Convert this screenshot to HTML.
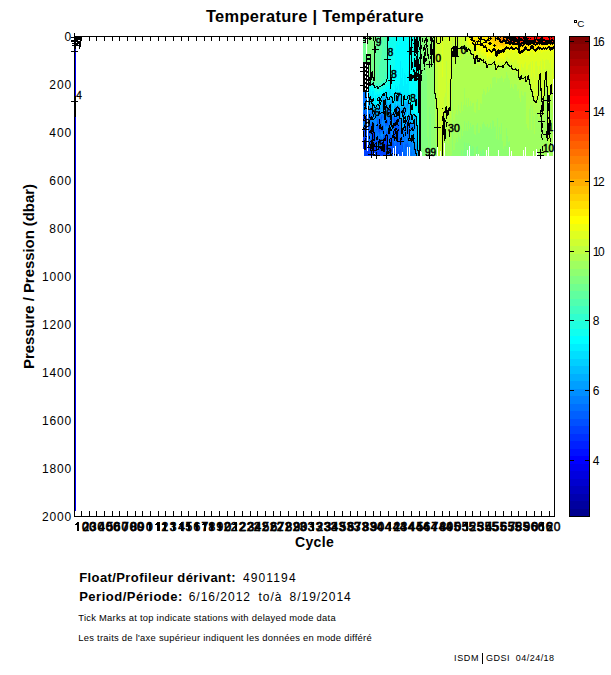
<!DOCTYPE html>
<html><head><meta charset="utf-8"><style>
html,body{margin:0;padding:0;background:#fff;}
svg{display:block;font-family:"Liberation Sans", sans-serif;}
</style></head><body>
<svg width="611" height="675" viewBox="0 0 611 675" shape-rendering="crispEdges">
<rect x="0" y="0" width="611" height="675" fill="#fff"/>
<text x="206.0" y="21.9" font-size="16.4" font-weight="bold" text-anchor="start" textLength="217.7" lengthAdjust="spacing">Temperature | Température</text>
<rect x="363" y="78" width="1" height="1" fill="#30ffcf"/>
<rect x="363" y="107" width="1" height="3" fill="#008fff"/>
<rect x="363" y="127" width="1" height="2" fill="#000000"/>
<rect x="363" y="110" width="1" height="2" fill="#0080ff"/>
<rect x="363" y="131" width="1" height="6" fill="#000000"/>
<rect x="363" y="137" width="1" height="1" fill="#0040ff"/>
<rect x="363" y="117" width="1" height="2" fill="#0030ff"/>
<rect x="363" y="75" width="1" height="3" fill="#40ffbf"/>
<rect x="363" y="121" width="1" height="1" fill="#0050ff"/>
<rect x="363" y="113" width="1" height="2" fill="#0060ff"/>
<rect x="363" y="119" width="1" height="2" fill="#000000"/>
<rect x="363" y="71" width="1" height="4" fill="#50ffaf"/>
<rect x="363" y="129" width="1" height="2" fill="#0030ff"/>
<rect x="363" y="79" width="1" height="11" fill="#000000"/>
<rect x="363" y="116" width="1" height="1" fill="#0040ff"/>
<rect x="363" y="123" width="1" height="3" fill="#0080ff"/>
<rect x="363" y="122" width="1" height="1" fill="#0070ff"/>
<rect x="363" y="126" width="1" height="1" fill="#0070ff"/>
<rect x="363" y="138" width="1" height="1" fill="#0030ff"/>
<rect x="363" y="90" width="1" height="16" fill="#0070ff"/>
<rect x="363" y="106" width="1" height="1" fill="#0080ff"/>
<rect x="363" y="64" width="1" height="7" fill="#60ff9f"/>
<rect x="363" y="139" width="1" height="8" fill="#0020ff"/>
<rect x="363" y="112" width="1" height="1" fill="#0070ff"/>
<rect x="363" y="147" width="1" height="2" fill="#0030ff"/>
<rect x="363" y="37" width="1" height="27" fill="#70ff8f"/>
<rect x="363" y="115" width="1" height="1" fill="#000000"/>
<rect x="364" y="119" width="1" height="1" fill="#0050ff"/>
<rect x="364" y="121" width="1" height="1" fill="#0060ff"/>
<rect x="364" y="106" width="1" height="1" fill="#0070ff"/>
<rect x="364" y="120" width="1" height="1" fill="#000000"/>
<rect x="364" y="93" width="1" height="8" fill="#0070ff"/>
<rect x="364" y="150" width="1" height="6" fill="#0040ff"/>
<rect x="364" y="87" width="1" height="1" fill="#00cfff"/>
<rect x="364" y="101" width="1" height="2" fill="#0080ff"/>
<rect x="364" y="129" width="1" height="11" fill="#0040ff"/>
<rect x="364" y="91" width="1" height="2" fill="#0080ff"/>
<rect x="364" y="74" width="1" height="4" fill="#50ffaf"/>
<rect x="364" y="140" width="1" height="10" fill="#000000"/>
<rect x="364" y="107" width="1" height="3" fill="#000000"/>
<rect x="364" y="110" width="1" height="4" fill="#0050ff"/>
<rect x="364" y="83" width="1" height="1" fill="#20ffdf"/>
<rect x="364" y="103" width="1" height="3" fill="#000000"/>
<rect x="364" y="38" width="1" height="29" fill="#70ff8f"/>
<rect x="364" y="85" width="1" height="2" fill="#000000"/>
<rect x="364" y="82" width="1" height="1" fill="#000000"/>
<rect x="364" y="114" width="1" height="5" fill="#000000"/>
<rect x="364" y="67" width="1" height="7" fill="#60ff9f"/>
<rect x="364" y="78" width="1" height="3" fill="#40ffbf"/>
<rect x="364" y="81" width="1" height="1" fill="#30ffcf"/>
<rect x="364" y="88" width="1" height="2" fill="#000000"/>
<rect x="364" y="84" width="1" height="1" fill="#10ffef"/>
<rect x="364" y="122" width="1" height="3" fill="#0070ff"/>
<rect x="364" y="90" width="1" height="1" fill="#008fff"/>
<rect x="364" y="125" width="1" height="2" fill="#000000"/>
<rect x="364" y="127" width="2" height="1" fill="#0060ff"/>
<rect x="364" y="37" width="2" height="1" fill="#000000"/>
<rect x="364" y="128" width="2" height="1" fill="#000000"/>
<rect x="365" y="111" width="1" height="4" fill="#0070ff"/>
<rect x="365" y="65" width="1" height="8" fill="#60ff9f"/>
<rect x="365" y="87" width="1" height="11" fill="#000000"/>
<rect x="365" y="76" width="1" height="3" fill="#40ffbf"/>
<rect x="365" y="130" width="1" height="7" fill="#000000"/>
<rect x="365" y="73" width="1" height="3" fill="#50ffaf"/>
<rect x="365" y="83" width="1" height="2" fill="#000000"/>
<rect x="365" y="150" width="1" height="1" fill="#0050ff"/>
<rect x="365" y="101" width="1" height="8" fill="#000000"/>
<rect x="365" y="80" width="1" height="2" fill="#000000"/>
<rect x="365" y="38" width="1" height="27" fill="#70ff8f"/>
<rect x="365" y="79" width="1" height="1" fill="#30ffcf"/>
<rect x="365" y="139" width="1" height="11" fill="#000000"/>
<rect x="365" y="85" width="1" height="1" fill="#00bfff"/>
<rect x="365" y="115" width="1" height="1" fill="#0060ff"/>
<rect x="365" y="82" width="1" height="1" fill="#10ffef"/>
<rect x="365" y="98" width="1" height="3" fill="#0070ff"/>
<rect x="365" y="129" width="1" height="1" fill="#0040ff"/>
<rect x="365" y="126" width="1" height="1" fill="#0070ff"/>
<rect x="365" y="86" width="1" height="1" fill="#00afff"/>
<rect x="365" y="124" width="1" height="2" fill="#0080ff"/>
<rect x="365" y="109" width="1" height="2" fill="#0080ff"/>
<rect x="365" y="137" width="1" height="2" fill="#0040ff"/>
<rect x="365" y="116" width="1" height="8" fill="#000000"/>
<rect x="366" y="100" width="1" height="1" fill="#000000"/>
<rect x="366" y="130" width="1" height="3" fill="#0050ff"/>
<rect x="366" y="84" width="1" height="2" fill="#00bfff"/>
<rect x="366" y="64" width="1" height="4" fill="#70ff8f"/>
<rect x="366" y="101" width="1" height="3" fill="#009fff"/>
<rect x="366" y="105" width="1" height="3" fill="#009fff"/>
<rect x="366" y="86" width="1" height="2" fill="#00afff"/>
<rect x="366" y="114" width="1" height="1" fill="#0060ff"/>
<rect x="366" y="79" width="1" height="1" fill="#000000"/>
<rect x="366" y="133" width="1" height="2" fill="#0060ff"/>
<rect x="366" y="88" width="1" height="9" fill="#009fff"/>
<rect x="366" y="118" width="1" height="5" fill="#0030ff"/>
<rect x="366" y="110" width="1" height="2" fill="#0080ff"/>
<rect x="366" y="124" width="1" height="3" fill="#0050ff"/>
<rect x="366" y="68" width="1" height="6" fill="#60ff9f"/>
<rect x="366" y="116" width="1" height="1" fill="#0050ff"/>
<rect x="366" y="135" width="1" height="1" fill="#0050ff"/>
<rect x="366" y="129" width="1" height="1" fill="#000000"/>
<rect x="366" y="98" width="1" height="2" fill="#008fff"/>
<rect x="366" y="112" width="1" height="2" fill="#0070ff"/>
<rect x="366" y="127" width="1" height="1" fill="#000000"/>
<rect x="366" y="108" width="1" height="1" fill="#000000"/>
<rect x="366" y="104" width="1" height="1" fill="#00afff"/>
<rect x="366" y="117" width="1" height="1" fill="#0040ff"/>
<rect x="366" y="137" width="1" height="5" fill="#0040ff"/>
<rect x="366" y="123" width="1" height="1" fill="#000000"/>
<rect x="366" y="82" width="1" height="1" fill="#000000"/>
<rect x="366" y="145" width="1" height="4" fill="#0020ff"/>
<rect x="366" y="136" width="1" height="1" fill="#000000"/>
<rect x="366" y="97" width="1" height="1" fill="#000000"/>
<rect x="366" y="81" width="1" height="1" fill="#00ffff"/>
<rect x="366" y="128" width="1" height="1" fill="#0050ff"/>
<rect x="366" y="74" width="1" height="3" fill="#50ffaf"/>
<rect x="366" y="83" width="1" height="1" fill="#00dfff"/>
<rect x="366" y="149" width="1" height="2" fill="#0030ff"/>
<rect x="366" y="142" width="1" height="3" fill="#0030ff"/>
<rect x="366" y="80" width="1" height="1" fill="#10ffef"/>
<rect x="366" y="63" width="1" height="1" fill="#000000"/>
<rect x="366" y="77" width="1" height="2" fill="#40ffbf"/>
<rect x="366" y="109" width="1" height="1" fill="#008fff"/>
<rect x="366" y="115" width="1" height="1" fill="#000000"/>
<rect x="365" y="151" width="3" height="5" fill="#0040ff"/>
<rect x="367" y="37" width="1" height="27" fill="#80ff80"/>
<rect x="368" y="124" width="1" height="7" fill="#0060ff"/>
<rect x="368" y="144" width="1" height="1" fill="#0060ff"/>
<rect x="368" y="73" width="1" height="2" fill="#70ff8f"/>
<rect x="368" y="98" width="1" height="2" fill="#00cfff"/>
<rect x="368" y="93" width="1" height="5" fill="#000000"/>
<rect x="368" y="105" width="1" height="1" fill="#009fff"/>
<rect x="368" y="138" width="1" height="6" fill="#0070ff"/>
<rect x="368" y="110" width="1" height="11" fill="#0080ff"/>
<rect x="368" y="91" width="1" height="2" fill="#00dfff"/>
<rect x="368" y="100" width="1" height="2" fill="#00bfff"/>
<rect x="368" y="37" width="1" height="36" fill="#80ff80"/>
<rect x="368" y="145" width="1" height="2" fill="#000000"/>
<rect x="368" y="121" width="1" height="3" fill="#000000"/>
<rect x="368" y="106" width="1" height="4" fill="#000000"/>
<rect x="368" y="86" width="1" height="5" fill="#00efff"/>
<rect x="368" y="149" width="1" height="7" fill="#0030ff"/>
<rect x="368" y="75" width="1" height="11" fill="#000000"/>
<rect x="368" y="147" width="1" height="2" fill="#0040ff"/>
<rect x="368" y="131" width="1" height="5" fill="#0050ff"/>
<rect x="368" y="136" width="1" height="2" fill="#0060ff"/>
<rect x="368" y="102" width="1" height="3" fill="#00afff"/>
<rect x="369" y="141" width="1" height="1" fill="#0050ff"/>
<rect x="369" y="131" width="1" height="2" fill="#000000"/>
<rect x="369" y="119" width="1" height="1" fill="#0080ff"/>
<rect x="369" y="112" width="1" height="2" fill="#0080ff"/>
<rect x="369" y="114" width="1" height="4" fill="#000000"/>
<rect x="369" y="82" width="1" height="4" fill="#000000"/>
<rect x="369" y="142" width="1" height="3" fill="#000000"/>
<rect x="369" y="109" width="1" height="1" fill="#000000"/>
<rect x="369" y="98" width="1" height="1" fill="#00dfff"/>
<rect x="369" y="126" width="1" height="2" fill="#0070ff"/>
<rect x="369" y="134" width="1" height="2" fill="#0060ff"/>
<rect x="369" y="92" width="1" height="5" fill="#00efff"/>
<rect x="369" y="146" width="1" height="10" fill="#0040ff"/>
<rect x="369" y="125" width="1" height="1" fill="#0080ff"/>
<rect x="369" y="81" width="1" height="1" fill="#70ff8f"/>
<rect x="369" y="100" width="1" height="2" fill="#000000"/>
<rect x="369" y="89" width="1" height="3" fill="#00ffff"/>
<rect x="369" y="103" width="1" height="5" fill="#00afff"/>
<rect x="369" y="88" width="1" height="1" fill="#10ffef"/>
<rect x="369" y="102" width="1" height="1" fill="#00bfff"/>
<rect x="369" y="37" width="1" height="40" fill="#80ff80"/>
<rect x="369" y="118" width="1" height="1" fill="#0070ff"/>
<rect x="369" y="128" width="1" height="3" fill="#0060ff"/>
<rect x="369" y="99" width="1" height="1" fill="#00cfff"/>
<rect x="369" y="120" width="1" height="4" fill="#000000"/>
<rect x="369" y="97" width="1" height="1" fill="#000000"/>
<rect x="369" y="86" width="1" height="2" fill="#20ffdf"/>
<rect x="369" y="136" width="1" height="3" fill="#000000"/>
<rect x="369" y="108" width="1" height="1" fill="#009fff"/>
<rect x="369" y="110" width="1" height="2" fill="#008fff"/>
<rect x="369" y="124" width="1" height="1" fill="#008fff"/>
<rect x="369" y="145" width="1" height="1" fill="#0050ff"/>
<rect x="369" y="77" width="1" height="4" fill="#000000"/>
<rect x="369" y="133" width="2" height="1" fill="#0050ff"/>
<rect x="369" y="140" width="2" height="1" fill="#0060ff"/>
<rect x="369" y="139" width="2" height="1" fill="#0070ff"/>
<rect x="370" y="81" width="1" height="4" fill="#000000"/>
<rect x="370" y="85" width="1" height="4" fill="#00ffff"/>
<rect x="370" y="37" width="1" height="39" fill="#80ff80"/>
<rect x="370" y="120" width="1" height="1" fill="#0080ff"/>
<rect x="370" y="121" width="1" height="3" fill="#008fff"/>
<rect x="370" y="124" width="1" height="1" fill="#0080ff"/>
<rect x="370" y="114" width="1" height="3" fill="#0060ff"/>
<rect x="370" y="125" width="1" height="2" fill="#0070ff"/>
<rect x="370" y="117" width="1" height="3" fill="#000000"/>
<rect x="370" y="129" width="1" height="1" fill="#0050ff"/>
<rect x="370" y="76" width="1" height="4" fill="#000000"/>
<rect x="370" y="153" width="1" height="3" fill="#0030ff"/>
<rect x="370" y="143" width="1" height="2" fill="#0030ff"/>
<rect x="370" y="89" width="1" height="6" fill="#00efff"/>
<rect x="370" y="146" width="1" height="6" fill="#0030ff"/>
<rect x="370" y="95" width="1" height="1" fill="#00dfff"/>
<rect x="370" y="113" width="1" height="1" fill="#0070ff"/>
<rect x="370" y="96" width="1" height="4" fill="#000000"/>
<rect x="370" y="135" width="1" height="1" fill="#0070ff"/>
<rect x="370" y="142" width="1" height="1" fill="#0040ff"/>
<rect x="370" y="111" width="1" height="2" fill="#0080ff"/>
<rect x="370" y="106" width="1" height="2" fill="#009fff"/>
<rect x="370" y="134" width="1" height="1" fill="#0060ff"/>
<rect x="370" y="105" width="1" height="1" fill="#00afff"/>
<rect x="370" y="152" width="1" height="1" fill="#0040ff"/>
<rect x="370" y="141" width="1" height="1" fill="#000000"/>
<rect x="370" y="80" width="1" height="1" fill="#40ffbf"/>
<rect x="370" y="100" width="1" height="5" fill="#00bfff"/>
<rect x="370" y="127" width="1" height="2" fill="#0060ff"/>
<rect x="370" y="145" width="1" height="1" fill="#0020ff"/>
<rect x="370" y="136" width="1" height="3" fill="#0080ff"/>
<rect x="370" y="130" width="1" height="3" fill="#000000"/>
<rect x="370" y="108" width="2" height="2" fill="#000000"/>
<rect x="370" y="110" width="2" height="1" fill="#008fff"/>
<rect x="371" y="72" width="1" height="8" fill="#000000"/>
<rect x="371" y="94" width="1" height="3" fill="#00efff"/>
<rect x="371" y="136" width="1" height="1" fill="#0070ff"/>
<rect x="371" y="139" width="1" height="1" fill="#0050ff"/>
<rect x="371" y="137" width="1" height="2" fill="#0060ff"/>
<rect x="371" y="97" width="1" height="2" fill="#00dfff"/>
<rect x="371" y="151" width="1" height="5" fill="#0040ff"/>
<rect x="371" y="111" width="1" height="5" fill="#0080ff"/>
<rect x="371" y="126" width="1" height="8" fill="#000000"/>
<rect x="371" y="85" width="1" height="2" fill="#20ffdf"/>
<rect x="371" y="134" width="1" height="2" fill="#0060ff"/>
<rect x="371" y="87" width="1" height="2" fill="#10ffef"/>
<rect x="371" y="124" width="1" height="2" fill="#0060ff"/>
<rect x="371" y="107" width="1" height="1" fill="#00afff"/>
<rect x="371" y="99" width="1" height="5" fill="#000000"/>
<rect x="371" y="106" width="1" height="1" fill="#00bfff"/>
<rect x="371" y="104" width="1" height="2" fill="#00cfff"/>
<rect x="371" y="37" width="1" height="4" fill="#8fff70"/>
<rect x="371" y="89" width="1" height="5" fill="#00ffff"/>
<rect x="371" y="140" width="1" height="9" fill="#000000"/>
<rect x="371" y="41" width="1" height="31" fill="#80ff80"/>
<rect x="371" y="84" width="1" height="1" fill="#000000"/>
<rect x="371" y="116" width="1" height="4" fill="#000000"/>
<rect x="371" y="149" width="1" height="2" fill="#0030ff"/>
<rect x="371" y="120" width="1" height="1" fill="#008fff"/>
<rect x="371" y="83" width="1" height="1" fill="#40ffbf"/>
<rect x="371" y="80" width="1" height="1" fill="#70ff8f"/>
<rect x="371" y="123" width="1" height="1" fill="#0070ff"/>
<rect x="371" y="121" width="1" height="2" fill="#0080ff"/>
<rect x="371" y="82" width="2" height="1" fill="#50ffaf"/>
<rect x="371" y="81" width="2" height="1" fill="#60ff9f"/>
<rect x="372" y="132" width="1" height="1" fill="#0040ff"/>
<rect x="372" y="133" width="1" height="18" fill="#000000"/>
<rect x="372" y="151" width="1" height="1" fill="#0040ff"/>
<rect x="372" y="101" width="1" height="2" fill="#00dfff"/>
<rect x="372" y="98" width="1" height="1" fill="#00dfff"/>
<rect x="372" y="83" width="1" height="2" fill="#000000"/>
<rect x="372" y="122" width="1" height="10" fill="#000000"/>
<rect x="372" y="117" width="1" height="3" fill="#000000"/>
<rect x="372" y="71" width="1" height="7" fill="#000000"/>
<rect x="372" y="120" width="1" height="2" fill="#008fff"/>
<rect x="372" y="115" width="1" height="2" fill="#0080ff"/>
<rect x="372" y="152" width="1" height="4" fill="#0030ff"/>
<rect x="372" y="37" width="1" height="18" fill="#80ff80"/>
<rect x="372" y="85" width="1" height="1" fill="#20ffdf"/>
<rect x="372" y="55" width="1" height="16" fill="#70ff8f"/>
<rect x="372" y="78" width="1" height="3" fill="#70ff8f"/>
<rect x="372" y="114" width="1" height="1" fill="#0070ff"/>
<rect x="372" y="103" width="1" height="11" fill="#000000"/>
<rect x="372" y="99" width="1" height="2" fill="#000000"/>
<rect x="372" y="86" width="2" height="2" fill="#10ffef"/>
<rect x="372" y="91" width="2" height="7" fill="#00efff"/>
<rect x="372" y="88" width="2" height="3" fill="#00ffff"/>
<rect x="373" y="134" width="1" height="3" fill="#0020ff"/>
<rect x="373" y="141" width="1" height="1" fill="#0050ff"/>
<rect x="373" y="104" width="1" height="2" fill="#000000"/>
<rect x="373" y="107" width="1" height="1" fill="#00bfff"/>
<rect x="373" y="82" width="1" height="4" fill="#000000"/>
<rect x="373" y="110" width="1" height="2" fill="#000000"/>
<rect x="373" y="106" width="1" height="1" fill="#00cfff"/>
<rect x="373" y="152" width="1" height="2" fill="#0040ff"/>
<rect x="373" y="98" width="1" height="3" fill="#000000"/>
<rect x="373" y="142" width="1" height="5" fill="#000000"/>
<rect x="373" y="138" width="1" height="1" fill="#0040ff"/>
<rect x="373" y="123" width="1" height="10" fill="#000000"/>
<rect x="373" y="121" width="1" height="1" fill="#0080ff"/>
<rect x="373" y="81" width="1" height="1" fill="#40ffbf"/>
<rect x="373" y="108" width="1" height="1" fill="#00afff"/>
<rect x="373" y="114" width="1" height="3" fill="#000000"/>
<rect x="373" y="109" width="1" height="1" fill="#009fff"/>
<rect x="373" y="37" width="1" height="40" fill="#80ff80"/>
<rect x="373" y="137" width="1" height="1" fill="#0030ff"/>
<rect x="373" y="118" width="1" height="1" fill="#009fff"/>
<rect x="373" y="101" width="1" height="3" fill="#00dfff"/>
<rect x="373" y="122" width="1" height="1" fill="#0070ff"/>
<rect x="373" y="133" width="1" height="1" fill="#0030ff"/>
<rect x="373" y="112" width="1" height="2" fill="#008fff"/>
<rect x="373" y="139" width="1" height="2" fill="#000000"/>
<rect x="373" y="147" width="1" height="5" fill="#0030ff"/>
<rect x="373" y="120" width="1" height="1" fill="#008fff"/>
<rect x="373" y="117" width="1" height="1" fill="#008fff"/>
<rect x="373" y="77" width="1" height="4" fill="#000000"/>
<rect x="373" y="154" width="1" height="2" fill="#0030ff"/>
<rect x="373" y="119" width="1" height="1" fill="#000000"/>
<rect x="374" y="82" width="1" height="1" fill="#60ff9f"/>
<rect x="374" y="141" width="1" height="3" fill="#0050ff"/>
<rect x="374" y="85" width="1" height="3" fill="#000000"/>
<rect x="374" y="114" width="1" height="1" fill="#008fff"/>
<rect x="374" y="110" width="1" height="1" fill="#009fff"/>
<rect x="374" y="108" width="1" height="1" fill="#00bfff"/>
<rect x="374" y="132" width="1" height="9" fill="#000000"/>
<rect x="374" y="131" width="1" height="1" fill="#0060ff"/>
<rect x="374" y="118" width="1" height="1" fill="#000000"/>
<rect x="374" y="119" width="1" height="2" fill="#008fff"/>
<rect x="374" y="109" width="1" height="1" fill="#00afff"/>
<rect x="374" y="115" width="1" height="3" fill="#009fff"/>
<rect x="374" y="81" width="1" height="1" fill="#70ff8f"/>
<rect x="374" y="130" width="1" height="1" fill="#0070ff"/>
<rect x="374" y="121" width="1" height="3" fill="#0080ff"/>
<rect x="374" y="83" width="1" height="1" fill="#50ffaf"/>
<rect x="374" y="144" width="1" height="3" fill="#000000"/>
<rect x="374" y="124" width="1" height="3" fill="#0070ff"/>
<rect x="374" y="147" width="1" height="2" fill="#0040ff"/>
<rect x="374" y="90" width="1" height="12" fill="#00ffff"/>
<rect x="374" y="102" width="1" height="3" fill="#00efff"/>
<rect x="374" y="105" width="1" height="3" fill="#000000"/>
<rect x="374" y="151" width="1" height="2" fill="#0040ff"/>
<rect x="374" y="127" width="1" height="3" fill="#0080ff"/>
<rect x="374" y="149" width="1" height="2" fill="#0030ff"/>
<rect x="374" y="41" width="1" height="40" fill="#000000"/>
<rect x="374" y="84" width="1" height="1" fill="#40ffbf"/>
<rect x="374" y="37" width="1" height="4" fill="#80ff80"/>
<rect x="374" y="111" width="1" height="3" fill="#000000"/>
<rect x="374" y="88" width="1" height="2" fill="#10ffef"/>
<rect x="375" y="41" width="1" height="40" fill="#70ff8f"/>
<rect x="375" y="85" width="1" height="1" fill="#40ffbf"/>
<rect x="375" y="83" width="1" height="2" fill="#50ffaf"/>
<rect x="375" y="115" width="1" height="1" fill="#00afff"/>
<rect x="375" y="86" width="1" height="1" fill="#30ffcf"/>
<rect x="375" y="37" width="1" height="4" fill="#000000"/>
<rect x="375" y="150" width="1" height="6" fill="#0040ff"/>
<rect x="375" y="120" width="1" height="1" fill="#0080ff"/>
<rect x="375" y="143" width="1" height="1" fill="#000000"/>
<rect x="375" y="127" width="1" height="2" fill="#0080ff"/>
<rect x="375" y="99" width="1" height="8" fill="#00dfff"/>
<rect x="375" y="107" width="1" height="1" fill="#000000"/>
<rect x="375" y="81" width="1" height="2" fill="#60ff9f"/>
<rect x="375" y="142" width="1" height="1" fill="#0050ff"/>
<rect x="375" y="90" width="1" height="3" fill="#10ffef"/>
<rect x="375" y="108" width="1" height="2" fill="#00cfff"/>
<rect x="375" y="145" width="1" height="1" fill="#0030ff"/>
<rect x="375" y="88" width="1" height="2" fill="#20ffdf"/>
<rect x="375" y="118" width="1" height="2" fill="#008fff"/>
<rect x="375" y="144" width="1" height="1" fill="#0040ff"/>
<rect x="375" y="129" width="1" height="12" fill="#0070ff"/>
<rect x="375" y="148" width="1" height="2" fill="#0030ff"/>
<rect x="375" y="141" width="1" height="1" fill="#0060ff"/>
<rect x="375" y="146" width="1" height="2" fill="#0020ff"/>
<rect x="375" y="116" width="1" height="2" fill="#000000"/>
<rect x="375" y="87" width="1" height="1" fill="#000000"/>
<rect x="375" y="110" width="1" height="5" fill="#00bfff"/>
<rect x="375" y="95" width="1" height="4" fill="#00efff"/>
<rect x="375" y="121" width="1" height="6" fill="#008fff"/>
<rect x="375" y="93" width="1" height="2" fill="#00ffff"/>
<rect x="376" y="137" width="1" height="3" fill="#000000"/>
<rect x="376" y="129" width="1" height="1" fill="#0060ff"/>
<rect x="376" y="105" width="1" height="2" fill="#000000"/>
<rect x="376" y="113" width="1" height="2" fill="#009fff"/>
<rect x="376" y="122" width="1" height="3" fill="#008fff"/>
<rect x="376" y="70" width="1" height="13" fill="#50ffaf"/>
<rect x="376" y="107" width="1" height="2" fill="#00cfff"/>
<rect x="376" y="125" width="1" height="1" fill="#000000"/>
<rect x="376" y="92" width="1" height="11" fill="#00ffff"/>
<rect x="376" y="155" width="1" height="1" fill="#0030ff"/>
<rect x="376" y="130" width="1" height="3" fill="#0070ff"/>
<rect x="376" y="37" width="1" height="33" fill="#60ff9f"/>
<rect x="376" y="117" width="1" height="5" fill="#0080ff"/>
<rect x="376" y="126" width="1" height="1" fill="#0080ff"/>
<rect x="376" y="109" width="1" height="2" fill="#00bfff"/>
<rect x="376" y="127" width="1" height="2" fill="#0070ff"/>
<rect x="376" y="87" width="1" height="3" fill="#20ffdf"/>
<rect x="376" y="103" width="1" height="2" fill="#00efff"/>
<rect x="376" y="86" width="1" height="1" fill="#000000"/>
<rect x="376" y="111" width="1" height="2" fill="#00afff"/>
<rect x="376" y="133" width="1" height="4" fill="#0080ff"/>
<rect x="376" y="150" width="1" height="5" fill="#0040ff"/>
<rect x="376" y="142" width="1" height="8" fill="#000000"/>
<rect x="376" y="85" width="2" height="1" fill="#30ffcf"/>
<rect x="376" y="83" width="2" height="2" fill="#40ffbf"/>
<rect x="376" y="90" width="2" height="2" fill="#10ffef"/>
<rect x="376" y="140" width="2" height="2" fill="#0050ff"/>
<rect x="376" y="115" width="2" height="1" fill="#000000"/>
<rect x="377" y="73" width="1" height="10" fill="#50ffaf"/>
<rect x="377" y="101" width="1" height="1" fill="#00ffff"/>
<rect x="377" y="142" width="1" height="1" fill="#0060ff"/>
<rect x="377" y="122" width="1" height="2" fill="#0050ff"/>
<rect x="377" y="94" width="1" height="3" fill="#00efff"/>
<rect x="377" y="37" width="1" height="36" fill="#60ff9f"/>
<rect x="377" y="148" width="1" height="1" fill="#0060ff"/>
<rect x="377" y="97" width="1" height="1" fill="#00ffff"/>
<rect x="377" y="147" width="1" height="1" fill="#0070ff"/>
<rect x="377" y="117" width="1" height="1" fill="#0080ff"/>
<rect x="377" y="135" width="1" height="1" fill="#0060ff"/>
<rect x="377" y="118" width="1" height="2" fill="#0070ff"/>
<rect x="377" y="98" width="1" height="3" fill="#000000"/>
<rect x="377" y="107" width="1" height="7" fill="#00bfff"/>
<rect x="377" y="92" width="1" height="2" fill="#00ffff"/>
<rect x="377" y="136" width="1" height="4" fill="#000000"/>
<rect x="377" y="104" width="1" height="1" fill="#000000"/>
<rect x="377" y="105" width="1" height="2" fill="#00cfff"/>
<rect x="377" y="114" width="1" height="1" fill="#00afff"/>
<rect x="377" y="128" width="1" height="1" fill="#0060ff"/>
<rect x="377" y="129" width="1" height="6" fill="#0070ff"/>
<rect x="377" y="86" width="1" height="3" fill="#000000"/>
<rect x="377" y="120" width="1" height="2" fill="#0060ff"/>
<rect x="377" y="144" width="1" height="3" fill="#0080ff"/>
<rect x="377" y="149" width="1" height="1" fill="#000000"/>
<rect x="377" y="124" width="1" height="2" fill="#000000"/>
<rect x="377" y="89" width="1" height="1" fill="#20ffdf"/>
<rect x="377" y="126" width="1" height="2" fill="#0050ff"/>
<rect x="376" y="116" width="3" height="1" fill="#008fff"/>
<rect x="377" y="151" width="2" height="5" fill="#0040ff"/>
<rect x="377" y="150" width="2" height="1" fill="#0050ff"/>
<rect x="377" y="102" width="2" height="2" fill="#00efff"/>
<rect x="377" y="143" width="2" height="1" fill="#0070ff"/>
<rect x="378" y="37" width="1" height="43" fill="#60ff9f"/>
<rect x="378" y="148" width="1" height="2" fill="#000000"/>
<rect x="378" y="100" width="1" height="1" fill="#000000"/>
<rect x="378" y="132" width="1" height="1" fill="#0070ff"/>
<rect x="378" y="104" width="1" height="2" fill="#000000"/>
<rect x="378" y="144" width="1" height="3" fill="#0060ff"/>
<rect x="378" y="80" width="1" height="4" fill="#50ffaf"/>
<rect x="378" y="112" width="1" height="4" fill="#000000"/>
<rect x="378" y="89" width="1" height="2" fill="#20ffdf"/>
<rect x="378" y="87" width="1" height="2" fill="#000000"/>
<rect x="378" y="137" width="1" height="1" fill="#0070ff"/>
<rect x="378" y="141" width="1" height="2" fill="#000000"/>
<rect x="378" y="119" width="1" height="7" fill="#0070ff"/>
<rect x="378" y="94" width="1" height="1" fill="#00ffff"/>
<rect x="378" y="84" width="1" height="3" fill="#40ffbf"/>
<rect x="378" y="101" width="1" height="1" fill="#00dfff"/>
<rect x="378" y="95" width="1" height="2" fill="#00efff"/>
<rect x="378" y="133" width="1" height="4" fill="#0080ff"/>
<rect x="378" y="106" width="1" height="2" fill="#00cfff"/>
<rect x="378" y="97" width="1" height="1" fill="#000000"/>
<rect x="378" y="117" width="1" height="2" fill="#0080ff"/>
<rect x="378" y="138" width="1" height="3" fill="#0060ff"/>
<rect x="378" y="98" width="1" height="2" fill="#00dfff"/>
<rect x="378" y="147" width="1" height="1" fill="#0050ff"/>
<rect x="378" y="126" width="1" height="6" fill="#0060ff"/>
<rect x="378" y="108" width="1" height="4" fill="#00bfff"/>
<rect x="378" y="91" width="1" height="3" fill="#10ffef"/>
<rect x="379" y="125" width="1" height="4" fill="#000000"/>
<rect x="379" y="132" width="1" height="2" fill="#0060ff"/>
<rect x="379" y="96" width="1" height="1" fill="#00dfff"/>
<rect x="379" y="119" width="1" height="5" fill="#000000"/>
<rect x="379" y="109" width="1" height="2" fill="#009fff"/>
<rect x="379" y="117" width="1" height="1" fill="#0080ff"/>
<rect x="379" y="105" width="1" height="4" fill="#000000"/>
<rect x="379" y="145" width="1" height="1" fill="#0070ff"/>
<rect x="379" y="114" width="1" height="3" fill="#008fff"/>
<rect x="379" y="92" width="1" height="2" fill="#00ffff"/>
<rect x="379" y="144" width="1" height="1" fill="#0080ff"/>
<rect x="379" y="134" width="1" height="3" fill="#0070ff"/>
<rect x="379" y="129" width="1" height="3" fill="#0050ff"/>
<rect x="379" y="148" width="1" height="8" fill="#0040ff"/>
<rect x="379" y="104" width="1" height="1" fill="#00dfff"/>
<rect x="379" y="137" width="1" height="2" fill="#0080ff"/>
<rect x="379" y="94" width="1" height="2" fill="#00efff"/>
<rect x="379" y="37" width="1" height="28" fill="#60ff9f"/>
<rect x="379" y="118" width="1" height="1" fill="#0070ff"/>
<rect x="379" y="147" width="1" height="1" fill="#000000"/>
<rect x="379" y="97" width="1" height="7" fill="#000000"/>
<rect x="379" y="139" width="1" height="4" fill="#000000"/>
<rect x="379" y="65" width="1" height="18" fill="#50ffaf"/>
<rect x="379" y="146" width="1" height="1" fill="#0060ff"/>
<rect x="379" y="124" width="1" height="1" fill="#0060ff"/>
<rect x="379" y="143" width="1" height="1" fill="#008fff"/>
<rect x="379" y="111" width="1" height="3" fill="#000000"/>
<rect x="379" y="85" width="2" height="1" fill="#30ffcf"/>
<rect x="379" y="83" width="2" height="2" fill="#40ffbf"/>
<rect x="379" y="87" width="2" height="3" fill="#20ffdf"/>
<rect x="379" y="86" width="2" height="1" fill="#000000"/>
<rect x="379" y="90" width="2" height="2" fill="#10ffef"/>
<rect x="380" y="61" width="1" height="22" fill="#50ffaf"/>
<rect x="380" y="101" width="1" height="1" fill="#00ffff"/>
<rect x="380" y="105" width="1" height="1" fill="#00cfff"/>
<rect x="380" y="108" width="1" height="5" fill="#009fff"/>
<rect x="380" y="113" width="1" height="1" fill="#000000"/>
<rect x="380" y="114" width="1" height="1" fill="#008fff"/>
<rect x="380" y="146" width="1" height="3" fill="#000000"/>
<rect x="380" y="135" width="1" height="1" fill="#0080ff"/>
<rect x="380" y="98" width="1" height="3" fill="#000000"/>
<rect x="380" y="129" width="1" height="1" fill="#0050ff"/>
<rect x="380" y="124" width="1" height="5" fill="#000000"/>
<rect x="380" y="107" width="1" height="1" fill="#00afff"/>
<rect x="380" y="106" width="1" height="1" fill="#00bfff"/>
<rect x="380" y="115" width="1" height="2" fill="#0080ff"/>
<rect x="380" y="37" width="1" height="24" fill="#60ff9f"/>
<rect x="380" y="92" width="1" height="6" fill="#00ffff"/>
<rect x="380" y="145" width="1" height="1" fill="#0060ff"/>
<rect x="380" y="131" width="1" height="4" fill="#0070ff"/>
<rect x="380" y="144" width="1" height="1" fill="#0070ff"/>
<rect x="380" y="142" width="1" height="2" fill="#0080ff"/>
<rect x="380" y="122" width="1" height="2" fill="#0060ff"/>
<rect x="380" y="117" width="1" height="5" fill="#0070ff"/>
<rect x="380" y="136" width="1" height="6" fill="#0070ff"/>
<rect x="380" y="149" width="1" height="2" fill="#0030ff"/>
<rect x="380" y="102" width="1" height="3" fill="#000000"/>
<rect x="380" y="130" width="2" height="1" fill="#0060ff"/>
<rect x="381" y="124" width="1" height="2" fill="#0070ff"/>
<rect x="381" y="126" width="1" height="1" fill="#0060ff"/>
<rect x="381" y="82" width="1" height="2" fill="#40ffbf"/>
<rect x="381" y="104" width="1" height="1" fill="#00bfff"/>
<rect x="381" y="115" width="1" height="2" fill="#0060ff"/>
<rect x="381" y="84" width="1" height="1" fill="#30ffcf"/>
<rect x="381" y="119" width="1" height="2" fill="#0060ff"/>
<rect x="381" y="136" width="1" height="2" fill="#0080ff"/>
<rect x="381" y="37" width="1" height="18" fill="#60ff9f"/>
<rect x="381" y="121" width="1" height="2" fill="#0070ff"/>
<rect x="381" y="132" width="1" height="2" fill="#0080ff"/>
<rect x="381" y="134" width="1" height="2" fill="#008fff"/>
<rect x="381" y="148" width="1" height="3" fill="#000000"/>
<rect x="381" y="138" width="1" height="1" fill="#0070ff"/>
<rect x="381" y="143" width="1" height="4" fill="#0060ff"/>
<rect x="381" y="96" width="1" height="2" fill="#000000"/>
<rect x="381" y="55" width="1" height="27" fill="#50ffaf"/>
<rect x="381" y="94" width="1" height="2" fill="#00efff"/>
<rect x="381" y="100" width="1" height="2" fill="#000000"/>
<rect x="381" y="140" width="1" height="3" fill="#0050ff"/>
<rect x="381" y="123" width="1" height="1" fill="#0080ff"/>
<rect x="381" y="127" width="1" height="3" fill="#000000"/>
<rect x="381" y="117" width="1" height="2" fill="#0050ff"/>
<rect x="381" y="103" width="1" height="1" fill="#00cfff"/>
<rect x="381" y="98" width="1" height="2" fill="#00dfff"/>
<rect x="381" y="147" width="1" height="1" fill="#0050ff"/>
<rect x="381" y="105" width="1" height="7" fill="#00afff"/>
<rect x="381" y="139" width="1" height="1" fill="#0060ff"/>
<rect x="381" y="131" width="1" height="1" fill="#0070ff"/>
<rect x="381" y="85" width="1" height="1" fill="#000000"/>
<rect x="381" y="102" width="1" height="1" fill="#00dfff"/>
<rect x="380" y="151" width="3" height="5" fill="#0040ff"/>
<rect x="381" y="91" width="2" height="3" fill="#00ffff"/>
<rect x="381" y="86" width="2" height="3" fill="#20ffdf"/>
<rect x="381" y="114" width="2" height="1" fill="#0080ff"/>
<rect x="381" y="112" width="2" height="1" fill="#000000"/>
<rect x="381" y="89" width="2" height="2" fill="#10ffef"/>
<rect x="381" y="113" width="2" height="1" fill="#008fff"/>
<rect x="382" y="125" width="1" height="1" fill="#0060ff"/>
<rect x="382" y="118" width="1" height="2" fill="#0080ff"/>
<rect x="382" y="137" width="1" height="3" fill="#0080ff"/>
<rect x="382" y="126" width="1" height="4" fill="#000000"/>
<rect x="382" y="132" width="1" height="1" fill="#0070ff"/>
<rect x="382" y="130" width="1" height="1" fill="#0050ff"/>
<rect x="382" y="133" width="1" height="1" fill="#0080ff"/>
<rect x="382" y="124" width="1" height="1" fill="#0080ff"/>
<rect x="382" y="107" width="1" height="2" fill="#009fff"/>
<rect x="382" y="131" width="1" height="1" fill="#0060ff"/>
<rect x="382" y="84" width="1" height="2" fill="#000000"/>
<rect x="382" y="140" width="1" height="2" fill="#0070ff"/>
<rect x="382" y="96" width="1" height="1" fill="#00cfff"/>
<rect x="382" y="115" width="1" height="3" fill="#0070ff"/>
<rect x="382" y="120" width="1" height="4" fill="#008fff"/>
<rect x="382" y="97" width="1" height="1" fill="#00bfff"/>
<rect x="382" y="109" width="1" height="3" fill="#00afff"/>
<rect x="382" y="81" width="1" height="3" fill="#40ffbf"/>
<rect x="382" y="106" width="1" height="1" fill="#008fff"/>
<rect x="382" y="104" width="1" height="2" fill="#009fff"/>
<rect x="382" y="142" width="1" height="9" fill="#000000"/>
<rect x="382" y="37" width="1" height="4" fill="#60ff9f"/>
<rect x="382" y="41" width="1" height="40" fill="#50ffaf"/>
<rect x="382" y="94" width="1" height="2" fill="#000000"/>
<rect x="382" y="134" width="1" height="3" fill="#008fff"/>
<rect x="382" y="98" width="1" height="6" fill="#00afff"/>
<rect x="383" y="143" width="1" height="2" fill="#0040ff"/>
<rect x="383" y="100" width="1" height="14" fill="#000000"/>
<rect x="383" y="82" width="1" height="1" fill="#30ffcf"/>
<rect x="383" y="116" width="1" height="2" fill="#0070ff"/>
<rect x="383" y="145" width="1" height="7" fill="#000000"/>
<rect x="383" y="96" width="1" height="2" fill="#00bfff"/>
<rect x="383" y="79" width="1" height="3" fill="#40ffbf"/>
<rect x="383" y="134" width="1" height="1" fill="#0070ff"/>
<rect x="383" y="130" width="1" height="1" fill="#0070ff"/>
<rect x="383" y="47" width="1" height="32" fill="#50ffaf"/>
<rect x="383" y="137" width="1" height="2" fill="#0050ff"/>
<rect x="383" y="86" width="1" height="3" fill="#10ffef"/>
<rect x="383" y="85" width="1" height="1" fill="#20ffdf"/>
<rect x="383" y="125" width="1" height="1" fill="#0070ff"/>
<rect x="383" y="131" width="1" height="3" fill="#000000"/>
<rect x="383" y="98" width="1" height="2" fill="#00afff"/>
<rect x="383" y="118" width="1" height="7" fill="#0080ff"/>
<rect x="383" y="126" width="1" height="4" fill="#0060ff"/>
<rect x="383" y="139" width="1" height="4" fill="#000000"/>
<rect x="383" y="89" width="1" height="2" fill="#00ffff"/>
<rect x="383" y="114" width="1" height="2" fill="#0080ff"/>
<rect x="383" y="91" width="1" height="2" fill="#00efff"/>
<rect x="383" y="37" width="1" height="10" fill="#60ff9f"/>
<rect x="383" y="93" width="2" height="3" fill="#000000"/>
<rect x="383" y="83" width="2" height="2" fill="#000000"/>
<rect x="383" y="152" width="2" height="4" fill="#0040ff"/>
<rect x="383" y="135" width="2" height="2" fill="#0060ff"/>
<rect x="384" y="137" width="1" height="1" fill="#0050ff"/>
<rect x="384" y="80" width="1" height="3" fill="#40ffbf"/>
<rect x="384" y="96" width="1" height="1" fill="#00dfff"/>
<rect x="384" y="138" width="1" height="3" fill="#000000"/>
<rect x="384" y="144" width="1" height="8" fill="#000000"/>
<rect x="384" y="97" width="1" height="1" fill="#00cfff"/>
<rect x="384" y="132" width="1" height="3" fill="#0070ff"/>
<rect x="384" y="37" width="1" height="43" fill="#50ffaf"/>
<rect x="384" y="111" width="1" height="9" fill="#000000"/>
<rect x="384" y="98" width="1" height="2" fill="#00bfff"/>
<rect x="384" y="124" width="1" height="4" fill="#008fff"/>
<rect x="384" y="128" width="1" height="4" fill="#0080ff"/>
<rect x="384" y="110" width="1" height="1" fill="#008fff"/>
<rect x="384" y="90" width="1" height="3" fill="#00ffff"/>
<rect x="384" y="120" width="1" height="4" fill="#0080ff"/>
<rect x="384" y="100" width="1" height="10" fill="#000000"/>
<rect x="384" y="85" width="1" height="3" fill="#20ffdf"/>
<rect x="384" y="88" width="1" height="2" fill="#10ffef"/>
<rect x="384" y="141" width="2" height="3" fill="#0040ff"/>
<rect x="385" y="83" width="1" height="2" fill="#20ffdf"/>
<rect x="385" y="99" width="1" height="6" fill="#000000"/>
<rect x="385" y="105" width="1" height="1" fill="#009fff"/>
<rect x="385" y="93" width="1" height="1" fill="#00dfff"/>
<rect x="385" y="150" width="1" height="6" fill="#0040ff"/>
<rect x="385" y="120" width="1" height="1" fill="#0080ff"/>
<rect x="385" y="85" width="1" height="3" fill="#10ffef"/>
<rect x="385" y="146" width="1" height="1" fill="#0020ff"/>
<rect x="385" y="92" width="1" height="1" fill="#000000"/>
<rect x="385" y="124" width="1" height="2" fill="#0060ff"/>
<rect x="385" y="127" width="1" height="8" fill="#0080ff"/>
<rect x="385" y="94" width="1" height="1" fill="#00cfff"/>
<rect x="385" y="98" width="1" height="1" fill="#009fff"/>
<rect x="385" y="91" width="1" height="1" fill="#00efff"/>
<rect x="385" y="82" width="1" height="1" fill="#000000"/>
<rect x="385" y="144" width="1" height="2" fill="#0030ff"/>
<rect x="385" y="95" width="1" height="2" fill="#00bfff"/>
<rect x="385" y="147" width="1" height="3" fill="#0030ff"/>
<rect x="385" y="72" width="1" height="9" fill="#40ffbf"/>
<rect x="385" y="126" width="1" height="1" fill="#0070ff"/>
<rect x="385" y="97" width="1" height="1" fill="#00afff"/>
<rect x="385" y="81" width="1" height="1" fill="#30ffcf"/>
<rect x="385" y="121" width="1" height="2" fill="#000000"/>
<rect x="385" y="37" width="1" height="35" fill="#50ffaf"/>
<rect x="385" y="106" width="1" height="14" fill="#000000"/>
<rect x="385" y="88" width="1" height="3" fill="#00ffff"/>
<rect x="385" y="135" width="1" height="6" fill="#000000"/>
<rect x="385" y="123" width="2" height="1" fill="#0050ff"/>
<rect x="386" y="92" width="1" height="6" fill="#000000"/>
<rect x="386" y="79" width="1" height="3" fill="#000000"/>
<rect x="386" y="120" width="1" height="3" fill="#000000"/>
<rect x="386" y="74" width="1" height="5" fill="#40ffbf"/>
<rect x="386" y="117" width="1" height="1" fill="#0080ff"/>
<rect x="386" y="151" width="1" height="5" fill="#0040ff"/>
<rect x="386" y="87" width="1" height="3" fill="#00ffff"/>
<rect x="386" y="131" width="1" height="1" fill="#0060ff"/>
<rect x="386" y="108" width="1" height="4" fill="#0080ff"/>
<rect x="386" y="138" width="1" height="13" fill="#0030ff"/>
<rect x="386" y="102" width="1" height="3" fill="#009fff"/>
<rect x="386" y="112" width="1" height="5" fill="#008fff"/>
<rect x="386" y="132" width="1" height="2" fill="#0050ff"/>
<rect x="386" y="129" width="1" height="1" fill="#0080ff"/>
<rect x="386" y="82" width="1" height="3" fill="#20ffdf"/>
<rect x="386" y="98" width="1" height="2" fill="#00bfff"/>
<rect x="386" y="130" width="1" height="1" fill="#0070ff"/>
<rect x="386" y="90" width="1" height="2" fill="#00efff"/>
<rect x="386" y="136" width="1" height="2" fill="#0040ff"/>
<rect x="386" y="100" width="1" height="2" fill="#00afff"/>
<rect x="386" y="118" width="1" height="1" fill="#0070ff"/>
<rect x="386" y="134" width="1" height="2" fill="#000000"/>
<rect x="386" y="105" width="1" height="3" fill="#000000"/>
<rect x="386" y="85" width="1" height="2" fill="#10ffef"/>
<rect x="386" y="119" width="1" height="1" fill="#0060ff"/>
<rect x="386" y="37" width="1" height="37" fill="#50ffaf"/>
<rect x="386" y="126" width="2" height="1" fill="#0080ff"/>
<rect x="386" y="125" width="2" height="1" fill="#0070ff"/>
<rect x="386" y="127" width="2" height="2" fill="#008fff"/>
<rect x="386" y="124" width="2" height="1" fill="#0060ff"/>
<rect x="387" y="134" width="1" height="1" fill="#0050ff"/>
<rect x="387" y="132" width="1" height="2" fill="#0060ff"/>
<rect x="387" y="135" width="1" height="19" fill="#000000"/>
<rect x="387" y="96" width="1" height="1" fill="#00dfff"/>
<rect x="387" y="80" width="1" height="4" fill="#20ffdf"/>
<rect x="387" y="100" width="1" height="4" fill="#00bfff"/>
<rect x="387" y="119" width="1" height="1" fill="#0070ff"/>
<rect x="387" y="84" width="1" height="2" fill="#10ffef"/>
<rect x="387" y="121" width="1" height="3" fill="#0050ff"/>
<rect x="387" y="97" width="1" height="3" fill="#000000"/>
<rect x="387" y="79" width="1" height="1" fill="#30ffcf"/>
<rect x="387" y="154" width="1" height="2" fill="#0040ff"/>
<rect x="387" y="104" width="1" height="3" fill="#00afff"/>
<rect x="387" y="117" width="1" height="2" fill="#0080ff"/>
<rect x="387" y="90" width="1" height="6" fill="#00efff"/>
<rect x="387" y="113" width="1" height="2" fill="#000000"/>
<rect x="387" y="109" width="1" height="2" fill="#0080ff"/>
<rect x="387" y="120" width="1" height="1" fill="#0060ff"/>
<rect x="387" y="107" width="1" height="2" fill="#000000"/>
<rect x="387" y="37" width="1" height="42" fill="#000000"/>
<rect x="387" y="131" width="1" height="1" fill="#0070ff"/>
<rect x="387" y="129" width="1" height="2" fill="#0080ff"/>
<rect x="387" y="111" width="1" height="2" fill="#0070ff"/>
<rect x="387" y="115" width="2" height="2" fill="#008fff"/>
<rect x="387" y="86" width="2" height="4" fill="#00ffff"/>
<rect x="388" y="155" width="1" height="1" fill="#0040ff"/>
<rect x="388" y="101" width="1" height="3" fill="#00cfff"/>
<rect x="388" y="141" width="1" height="3" fill="#0080ff"/>
<rect x="388" y="109" width="1" height="3" fill="#008fff"/>
<rect x="388" y="127" width="1" height="1" fill="#0060ff"/>
<rect x="388" y="149" width="1" height="2" fill="#0050ff"/>
<rect x="388" y="98" width="1" height="1" fill="#00dfff"/>
<rect x="388" y="99" width="1" height="1" fill="#000000"/>
<rect x="388" y="135" width="1" height="6" fill="#0070ff"/>
<rect x="388" y="50" width="1" height="36" fill="#10ffef"/>
<rect x="388" y="128" width="1" height="6" fill="#000000"/>
<rect x="388" y="108" width="1" height="1" fill="#000000"/>
<rect x="388" y="124" width="1" height="3" fill="#0070ff"/>
<rect x="388" y="117" width="1" height="7" fill="#0080ff"/>
<rect x="388" y="134" width="1" height="1" fill="#0060ff"/>
<rect x="388" y="112" width="1" height="3" fill="#000000"/>
<rect x="388" y="107" width="1" height="1" fill="#009fff"/>
<rect x="388" y="90" width="1" height="8" fill="#00efff"/>
<rect x="388" y="151" width="1" height="3" fill="#000000"/>
<rect x="388" y="104" width="1" height="2" fill="#00bfff"/>
<rect x="388" y="154" width="1" height="1" fill="#0050ff"/>
<rect x="388" y="106" width="1" height="1" fill="#00afff"/>
<rect x="388" y="37" width="1" height="13" fill="#20ffdf"/>
<rect x="388" y="144" width="1" height="3" fill="#0070ff"/>
<rect x="388" y="147" width="1" height="2" fill="#0060ff"/>
<rect x="388" y="100" width="2" height="1" fill="#00dfff"/>
<rect x="389" y="134" width="1" height="1" fill="#0050ff"/>
<rect x="389" y="101" width="1" height="1" fill="#00cfff"/>
<rect x="389" y="143" width="1" height="2" fill="#0070ff"/>
<rect x="389" y="153" width="1" height="3" fill="#0040ff"/>
<rect x="389" y="145" width="1" height="2" fill="#0060ff"/>
<rect x="389" y="109" width="1" height="2" fill="#0070ff"/>
<rect x="389" y="150" width="1" height="1" fill="#000000"/>
<rect x="389" y="121" width="1" height="2" fill="#0070ff"/>
<rect x="389" y="151" width="1" height="2" fill="#0050ff"/>
<rect x="389" y="112" width="1" height="2" fill="#0070ff"/>
<rect x="389" y="135" width="1" height="4" fill="#0060ff"/>
<rect x="389" y="92" width="1" height="3" fill="#00dfff"/>
<rect x="389" y="108" width="1" height="1" fill="#0080ff"/>
<rect x="389" y="97" width="1" height="3" fill="#000000"/>
<rect x="389" y="124" width="1" height="1" fill="#0070ff"/>
<rect x="389" y="114" width="1" height="3" fill="#0080ff"/>
<rect x="389" y="102" width="1" height="1" fill="#00bfff"/>
<rect x="389" y="123" width="1" height="1" fill="#0080ff"/>
<rect x="389" y="111" width="1" height="1" fill="#0060ff"/>
<rect x="389" y="95" width="1" height="2" fill="#00efff"/>
<rect x="389" y="105" width="1" height="3" fill="#000000"/>
<rect x="389" y="37" width="1" height="47" fill="#10ffef"/>
<rect x="389" y="117" width="1" height="3" fill="#0070ff"/>
<rect x="389" y="84" width="1" height="4" fill="#00ffff"/>
<rect x="389" y="125" width="1" height="9" fill="#000000"/>
<rect x="389" y="139" width="1" height="4" fill="#000000"/>
<rect x="389" y="88" width="1" height="4" fill="#00efff"/>
<rect x="389" y="103" width="1" height="2" fill="#00afff"/>
<rect x="389" y="147" width="1" height="3" fill="#0050ff"/>
<rect x="389" y="120" width="2" height="1" fill="#0060ff"/>
<rect x="390" y="138" width="1" height="1" fill="#000000"/>
<rect x="390" y="137" width="1" height="1" fill="#0050ff"/>
<rect x="390" y="75" width="1" height="11" fill="#00ffff"/>
<rect x="390" y="125" width="1" height="1" fill="#008fff"/>
<rect x="390" y="90" width="1" height="6" fill="#00dfff"/>
<rect x="390" y="98" width="1" height="2" fill="#00cfff"/>
<rect x="390" y="127" width="1" height="4" fill="#000000"/>
<rect x="390" y="101" width="1" height="2" fill="#00afff"/>
<rect x="390" y="139" width="1" height="3" fill="#0040ff"/>
<rect x="390" y="132" width="1" height="5" fill="#0060ff"/>
<rect x="390" y="103" width="1" height="1" fill="#009fff"/>
<rect x="390" y="37" width="1" height="38" fill="#10ffef"/>
<rect x="390" y="126" width="1" height="1" fill="#009fff"/>
<rect x="390" y="100" width="1" height="1" fill="#00bfff"/>
<rect x="390" y="146" width="1" height="4" fill="#0050ff"/>
<rect x="390" y="97" width="1" height="1" fill="#00dfff"/>
<rect x="390" y="150" width="1" height="6" fill="#000000"/>
<rect x="390" y="104" width="1" height="16" fill="#000000"/>
<rect x="390" y="142" width="1" height="4" fill="#000000"/>
<rect x="390" y="131" width="1" height="1" fill="#0070ff"/>
<rect x="390" y="121" width="1" height="4" fill="#000000"/>
<rect x="390" y="96" width="1" height="1" fill="#000000"/>
<rect x="390" y="86" width="1" height="4" fill="#00efff"/>
<rect x="391" y="99" width="1" height="1" fill="#00bfff"/>
<rect x="391" y="90" width="1" height="5" fill="#00efff"/>
<rect x="391" y="136" width="1" height="1" fill="#0070ff"/>
<rect x="391" y="100" width="1" height="7" fill="#00afff"/>
<rect x="391" y="154" width="1" height="2" fill="#000000"/>
<rect x="391" y="39" width="1" height="46" fill="#10ffef"/>
<rect x="391" y="131" width="1" height="3" fill="#008fff"/>
<rect x="391" y="95" width="1" height="1" fill="#00dfff"/>
<rect x="391" y="96" width="1" height="2" fill="#000000"/>
<rect x="391" y="127" width="1" height="2" fill="#009fff"/>
<rect x="391" y="98" width="1" height="1" fill="#00cfff"/>
<rect x="391" y="85" width="1" height="5" fill="#00ffff"/>
<rect x="391" y="107" width="1" height="2" fill="#00bfff"/>
<rect x="391" y="137" width="1" height="1" fill="#0060ff"/>
<rect x="391" y="134" width="1" height="2" fill="#0080ff"/>
<rect x="391" y="146" width="1" height="2" fill="#0050ff"/>
<rect x="391" y="148" width="1" height="2" fill="#0060ff"/>
<rect x="391" y="114" width="1" height="1" fill="#009fff"/>
<rect x="391" y="138" width="1" height="8" fill="#000000"/>
<rect x="391" y="109" width="1" height="3" fill="#00cfff"/>
<rect x="391" y="150" width="1" height="4" fill="#0050ff"/>
<rect x="391" y="129" width="1" height="2" fill="#000000"/>
<rect x="391" y="37" width="1" height="2" fill="#20ffdf"/>
<rect x="391" y="115" width="1" height="12" fill="#000000"/>
<rect x="391" y="113" width="2" height="1" fill="#00afff"/>
<rect x="391" y="112" width="2" height="1" fill="#00bfff"/>
<rect x="392" y="125" width="1" height="4" fill="#000000"/>
<rect x="392" y="106" width="1" height="2" fill="#00bfff"/>
<rect x="392" y="120" width="1" height="5" fill="#008fff"/>
<rect x="392" y="129" width="1" height="1" fill="#008fff"/>
<rect x="392" y="130" width="1" height="5" fill="#0080ff"/>
<rect x="392" y="115" width="1" height="2" fill="#008fff"/>
<rect x="392" y="89" width="1" height="4" fill="#00efff"/>
<rect x="392" y="135" width="1" height="3" fill="#000000"/>
<rect x="392" y="97" width="1" height="6" fill="#000000"/>
<rect x="392" y="114" width="1" height="1" fill="#000000"/>
<rect x="392" y="154" width="1" height="2" fill="#0050ff"/>
<rect x="392" y="117" width="1" height="3" fill="#0080ff"/>
<rect x="392" y="153" width="1" height="1" fill="#000000"/>
<rect x="392" y="80" width="1" height="9" fill="#00ffff"/>
<rect x="392" y="37" width="1" height="43" fill="#10ffef"/>
<rect x="392" y="93" width="1" height="4" fill="#00dfff"/>
<rect x="392" y="108" width="1" height="4" fill="#00cfff"/>
<rect x="392" y="142" width="1" height="11" fill="#0050ff"/>
<rect x="392" y="140" width="1" height="2" fill="#0060ff"/>
<rect x="392" y="138" width="1" height="2" fill="#0070ff"/>
<rect x="392" y="103" width="1" height="3" fill="#00cfff"/>
<rect x="393" y="117" width="1" height="4" fill="#0070ff"/>
<rect x="393" y="101" width="1" height="2" fill="#000000"/>
<rect x="393" y="94" width="1" height="1" fill="#00dfff"/>
<rect x="393" y="143" width="1" height="3" fill="#0050ff"/>
<rect x="393" y="116" width="1" height="1" fill="#0080ff"/>
<rect x="393" y="140" width="1" height="3" fill="#0060ff"/>
<rect x="393" y="111" width="1" height="1" fill="#00cfff"/>
<rect x="393" y="146" width="1" height="2" fill="#0060ff"/>
<rect x="393" y="103" width="1" height="6" fill="#00cfff"/>
<rect x="393" y="37" width="1" height="41" fill="#10ffef"/>
<rect x="393" y="90" width="1" height="4" fill="#00efff"/>
<rect x="393" y="78" width="1" height="12" fill="#00ffff"/>
<rect x="393" y="138" width="1" height="2" fill="#0050ff"/>
<rect x="393" y="123" width="1" height="5" fill="#000000"/>
<rect x="393" y="95" width="1" height="2" fill="#00efff"/>
<rect x="393" y="115" width="1" height="1" fill="#008fff"/>
<rect x="393" y="97" width="1" height="4" fill="#00ffff"/>
<rect x="393" y="112" width="1" height="3" fill="#000000"/>
<rect x="393" y="129" width="1" height="1" fill="#0070ff"/>
<rect x="393" y="131" width="1" height="7" fill="#000000"/>
<rect x="393" y="128" width="1" height="1" fill="#0080ff"/>
<rect x="393" y="130" width="1" height="1" fill="#0060ff"/>
<rect x="393" y="109" width="1" height="2" fill="#00dfff"/>
<rect x="393" y="121" width="1" height="2" fill="#0080ff"/>
<rect x="394" y="66" width="1" height="24" fill="#00ffff"/>
<rect x="394" y="90" width="1" height="3" fill="#00efff"/>
<rect x="394" y="141" width="1" height="1" fill="#0080ff"/>
<rect x="394" y="131" width="1" height="3" fill="#0040ff"/>
<rect x="394" y="113" width="1" height="1" fill="#0080ff"/>
<rect x="394" y="112" width="1" height="1" fill="#008fff"/>
<rect x="394" y="126" width="1" height="3" fill="#0060ff"/>
<rect x="394" y="135" width="1" height="1" fill="#0050ff"/>
<rect x="394" y="106" width="1" height="2" fill="#00afff"/>
<rect x="394" y="109" width="1" height="3" fill="#000000"/>
<rect x="394" y="118" width="1" height="5" fill="#0050ff"/>
<rect x="394" y="114" width="1" height="3" fill="#000000"/>
<rect x="394" y="123" width="1" height="3" fill="#000000"/>
<rect x="394" y="102" width="1" height="2" fill="#00cfff"/>
<rect x="394" y="101" width="1" height="1" fill="#00dfff"/>
<rect x="394" y="149" width="1" height="5" fill="#0050ff"/>
<rect x="394" y="142" width="1" height="5" fill="#0070ff"/>
<rect x="394" y="155" width="1" height="1" fill="#0050ff"/>
<rect x="394" y="93" width="1" height="8" fill="#000000"/>
<rect x="394" y="154" width="1" height="1" fill="#000000"/>
<rect x="394" y="104" width="1" height="2" fill="#00bfff"/>
<rect x="394" y="129" width="1" height="2" fill="#000000"/>
<rect x="394" y="117" width="1" height="1" fill="#0060ff"/>
<rect x="394" y="108" width="1" height="1" fill="#009fff"/>
<rect x="394" y="136" width="1" height="5" fill="#000000"/>
<rect x="394" y="37" width="1" height="29" fill="#10ffef"/>
<rect x="394" y="134" width="1" height="1" fill="#000000"/>
<rect x="394" y="147" width="1" height="2" fill="#0060ff"/>
<rect x="395" y="144" width="1" height="1" fill="#0060ff"/>
<rect x="395" y="122" width="1" height="4" fill="#000000"/>
<rect x="395" y="95" width="1" height="3" fill="#00bfff"/>
<rect x="395" y="104" width="1" height="2" fill="#00afff"/>
<rect x="395" y="37" width="1" height="13" fill="#10ffef"/>
<rect x="395" y="98" width="1" height="1" fill="#00afff"/>
<rect x="395" y="116" width="1" height="1" fill="#000000"/>
<rect x="395" y="108" width="1" height="6" fill="#000000"/>
<rect x="395" y="99" width="1" height="5" fill="#00bfff"/>
<rect x="395" y="50" width="1" height="35" fill="#00ffff"/>
<rect x="395" y="118" width="1" height="1" fill="#0080ff"/>
<rect x="395" y="119" width="1" height="1" fill="#0070ff"/>
<rect x="395" y="136" width="1" height="1" fill="#0060ff"/>
<rect x="395" y="121" width="1" height="1" fill="#0050ff"/>
<rect x="395" y="128" width="1" height="6" fill="#000000"/>
<rect x="395" y="137" width="1" height="2" fill="#000000"/>
<rect x="395" y="94" width="1" height="1" fill="#00cfff"/>
<rect x="395" y="114" width="1" height="2" fill="#008fff"/>
<rect x="395" y="134" width="1" height="2" fill="#0050ff"/>
<rect x="395" y="106" width="1" height="2" fill="#009fff"/>
<rect x="395" y="139" width="1" height="5" fill="#0070ff"/>
<rect x="395" y="90" width="1" height="2" fill="#00dfff"/>
<rect x="395" y="120" width="1" height="1" fill="#0060ff"/>
<rect x="395" y="85" width="1" height="5" fill="#00efff"/>
<rect x="395" y="92" width="1" height="2" fill="#000000"/>
<rect x="395" y="117" width="1" height="1" fill="#008fff"/>
<rect x="395" y="126" width="1" height="2" fill="#0050ff"/>
<rect x="395" y="145" width="1" height="1" fill="#0050ff"/>
<rect x="396" y="102" width="1" height="3" fill="#00dfff"/>
<rect x="396" y="125" width="1" height="2" fill="#0050ff"/>
<rect x="396" y="141" width="1" height="1" fill="#0050ff"/>
<rect x="396" y="101" width="1" height="1" fill="#00cfff"/>
<rect x="396" y="105" width="1" height="1" fill="#00cfff"/>
<rect x="396" y="142" width="1" height="7" fill="#0060ff"/>
<rect x="396" y="95" width="1" height="6" fill="#000000"/>
<rect x="396" y="130" width="1" height="1" fill="#0050ff"/>
<rect x="396" y="107" width="1" height="10" fill="#000000"/>
<rect x="396" y="94" width="1" height="1" fill="#00dfff"/>
<rect x="396" y="127" width="1" height="1" fill="#0060ff"/>
<rect x="396" y="117" width="1" height="1" fill="#0080ff"/>
<rect x="396" y="128" width="1" height="2" fill="#000000"/>
<rect x="396" y="154" width="1" height="2" fill="#000000"/>
<rect x="396" y="120" width="1" height="5" fill="#000000"/>
<rect x="396" y="37" width="1" height="6" fill="#10ffef"/>
<rect x="396" y="131" width="1" height="10" fill="#000000"/>
<rect x="396" y="88" width="1" height="5" fill="#00efff"/>
<rect x="396" y="106" width="1" height="1" fill="#00bfff"/>
<rect x="396" y="118" width="1" height="1" fill="#0070ff"/>
<rect x="396" y="149" width="1" height="5" fill="#0050ff"/>
<rect x="396" y="119" width="1" height="1" fill="#0060ff"/>
<rect x="396" y="43" width="1" height="45" fill="#00ffff"/>
<rect x="396" y="93" width="1" height="1" fill="#000000"/>
<rect x="397" y="111" width="1" height="1" fill="#0080ff"/>
<rect x="397" y="86" width="1" height="6" fill="#00efff"/>
<rect x="397" y="103" width="1" height="1" fill="#00bfff"/>
<rect x="397" y="105" width="1" height="1" fill="#009fff"/>
<rect x="397" y="109" width="1" height="2" fill="#0070ff"/>
<rect x="397" y="38" width="1" height="48" fill="#00ffff"/>
<rect x="397" y="96" width="1" height="5" fill="#000000"/>
<rect x="397" y="112" width="1" height="4" fill="#000000"/>
<rect x="397" y="106" width="1" height="2" fill="#000000"/>
<rect x="397" y="116" width="1" height="1" fill="#0080ff"/>
<rect x="397" y="130" width="1" height="11" fill="#000000"/>
<rect x="397" y="95" width="1" height="1" fill="#00dfff"/>
<rect x="397" y="92" width="1" height="1" fill="#00dfff"/>
<rect x="397" y="93" width="1" height="2" fill="#000000"/>
<rect x="397" y="104" width="1" height="1" fill="#00afff"/>
<rect x="397" y="101" width="1" height="2" fill="#00cfff"/>
<rect x="397" y="108" width="1" height="1" fill="#0080ff"/>
<rect x="397" y="117" width="1" height="1" fill="#0070ff"/>
<rect x="397" y="125" width="1" height="5" fill="#0050ff"/>
<rect x="397" y="141" width="1" height="15" fill="#0050ff"/>
<rect x="397" y="37" width="1" height="1" fill="#10ffef"/>
<rect x="397" y="119" width="1" height="6" fill="#000000"/>
<rect x="397" y="118" width="1" height="1" fill="#0060ff"/>
<rect x="398" y="119" width="1" height="3" fill="#000000"/>
<rect x="398" y="90" width="1" height="3" fill="#00efff"/>
<rect x="398" y="93" width="1" height="1" fill="#00dfff"/>
<rect x="398" y="105" width="1" height="2" fill="#00afff"/>
<rect x="398" y="126" width="1" height="1" fill="#0060ff"/>
<rect x="398" y="111" width="1" height="5" fill="#000000"/>
<rect x="398" y="104" width="1" height="1" fill="#00bfff"/>
<rect x="398" y="127" width="1" height="2" fill="#0050ff"/>
<rect x="398" y="98" width="1" height="6" fill="#00cfff"/>
<rect x="398" y="125" width="1" height="1" fill="#000000"/>
<rect x="398" y="122" width="1" height="2" fill="#0070ff"/>
<rect x="398" y="134" width="1" height="17" fill="#0060ff"/>
<rect x="398" y="37" width="1" height="8" fill="#10ffef"/>
<rect x="398" y="96" width="1" height="2" fill="#00dfff"/>
<rect x="398" y="45" width="1" height="45" fill="#00ffff"/>
<rect x="398" y="117" width="1" height="2" fill="#0080ff"/>
<rect x="398" y="131" width="1" height="3" fill="#0050ff"/>
<rect x="398" y="94" width="1" height="2" fill="#000000"/>
<rect x="398" y="109" width="1" height="2" fill="#0080ff"/>
<rect x="398" y="129" width="1" height="2" fill="#000000"/>
<rect x="398" y="107" width="1" height="2" fill="#000000"/>
<rect x="398" y="151" width="1" height="3" fill="#0050ff"/>
<rect x="398" y="124" width="1" height="1" fill="#0060ff"/>
<rect x="398" y="116" width="1" height="1" fill="#008fff"/>
<rect x="399" y="92" width="1" height="1" fill="#00dfff"/>
<rect x="399" y="95" width="1" height="3" fill="#00dfff"/>
<rect x="399" y="93" width="1" height="2" fill="#000000"/>
<rect x="399" y="132" width="1" height="5" fill="#0070ff"/>
<rect x="399" y="121" width="1" height="8" fill="#0070ff"/>
<rect x="399" y="98" width="1" height="7" fill="#00cfff"/>
<rect x="399" y="137" width="1" height="13" fill="#0060ff"/>
<rect x="399" y="84" width="1" height="8" fill="#00efff"/>
<rect x="399" y="37" width="1" height="47" fill="#00ffff"/>
<rect x="399" y="119" width="1" height="2" fill="#0080ff"/>
<rect x="399" y="129" width="1" height="3" fill="#0060ff"/>
<rect x="399" y="150" width="1" height="6" fill="#0050ff"/>
<rect x="399" y="106" width="1" height="1" fill="#00afff"/>
<rect x="399" y="105" width="1" height="1" fill="#00bfff"/>
<rect x="399" y="108" width="1" height="11" fill="#000000"/>
<rect x="399" y="107" width="1" height="1" fill="#009fff"/>
<rect x="400" y="105" width="1" height="3" fill="#00cfff"/>
<rect x="400" y="94" width="1" height="1" fill="#000000"/>
<rect x="400" y="104" width="1" height="1" fill="#00bfff"/>
<rect x="400" y="138" width="1" height="2" fill="#0060ff"/>
<rect x="400" y="108" width="1" height="1" fill="#00bfff"/>
<rect x="400" y="131" width="1" height="1" fill="#0060ff"/>
<rect x="400" y="118" width="1" height="1" fill="#000000"/>
<rect x="400" y="95" width="1" height="2" fill="#00cfff"/>
<rect x="400" y="61" width="1" height="30" fill="#00efff"/>
<rect x="400" y="109" width="1" height="1" fill="#00afff"/>
<rect x="400" y="102" width="1" height="2" fill="#00afff"/>
<rect x="400" y="128" width="1" height="3" fill="#0070ff"/>
<rect x="400" y="145" width="1" height="4" fill="#0060ff"/>
<rect x="400" y="122" width="1" height="2" fill="#0070ff"/>
<rect x="400" y="114" width="1" height="4" fill="#009fff"/>
<rect x="400" y="97" width="1" height="1" fill="#00bfff"/>
<rect x="400" y="37" width="1" height="24" fill="#00ffff"/>
<rect x="400" y="110" width="1" height="2" fill="#009fff"/>
<rect x="400" y="140" width="1" height="5" fill="#0050ff"/>
<rect x="400" y="98" width="1" height="2" fill="#00afff"/>
<rect x="400" y="119" width="1" height="1" fill="#008fff"/>
<rect x="400" y="112" width="1" height="2" fill="#008fff"/>
<rect x="400" y="124" width="1" height="4" fill="#0080ff"/>
<rect x="400" y="132" width="1" height="6" fill="#0070ff"/>
<rect x="400" y="120" width="1" height="2" fill="#0080ff"/>
<rect x="400" y="91" width="1" height="3" fill="#00dfff"/>
<rect x="400" y="149" width="1" height="7" fill="#0050ff"/>
<rect x="400" y="100" width="1" height="2" fill="#009fff"/>
<rect x="401" y="106" width="1" height="1" fill="#00bfff"/>
<rect x="401" y="137" width="1" height="3" fill="#000000"/>
<rect x="401" y="140" width="1" height="4" fill="#0050ff"/>
<rect x="401" y="37" width="1" height="41" fill="#00ffff"/>
<rect x="401" y="93" width="1" height="1" fill="#00dfff"/>
<rect x="401" y="111" width="1" height="2" fill="#000000"/>
<rect x="401" y="144" width="1" height="10" fill="#0060ff"/>
<rect x="401" y="113" width="1" height="1" fill="#00bfff"/>
<rect x="401" y="109" width="1" height="2" fill="#009fff"/>
<rect x="401" y="117" width="1" height="1" fill="#00bfff"/>
<rect x="401" y="118" width="1" height="16" fill="#000000"/>
<rect x="401" y="134" width="1" height="3" fill="#0070ff"/>
<rect x="401" y="78" width="1" height="15" fill="#00efff"/>
<rect x="401" y="154" width="1" height="2" fill="#0050ff"/>
<rect x="401" y="107" width="1" height="2" fill="#00afff"/>
<rect x="401" y="114" width="1" height="3" fill="#00cfff"/>
<rect x="401" y="94" width="1" height="12" fill="#000000"/>
<rect x="402" y="119" width="1" height="1" fill="#00afff"/>
<rect x="402" y="97" width="1" height="8" fill="#00efff"/>
<rect x="402" y="136" width="1" height="2" fill="#0080ff"/>
<rect x="402" y="141" width="1" height="4" fill="#0060ff"/>
<rect x="402" y="120" width="1" height="6" fill="#009fff"/>
<rect x="402" y="37" width="1" height="31" fill="#00ffff"/>
<rect x="402" y="149" width="1" height="3" fill="#0060ff"/>
<rect x="402" y="134" width="1" height="2" fill="#008fff"/>
<rect x="402" y="117" width="1" height="2" fill="#00bfff"/>
<rect x="402" y="94" width="1" height="3" fill="#00dfff"/>
<rect x="402" y="138" width="1" height="3" fill="#0070ff"/>
<rect x="402" y="128" width="1" height="6" fill="#000000"/>
<rect x="402" y="68" width="1" height="26" fill="#00efff"/>
<rect x="402" y="108" width="1" height="1" fill="#00afff"/>
<rect x="402" y="109" width="1" height="1" fill="#009fff"/>
<rect x="402" y="105" width="1" height="1" fill="#000000"/>
<rect x="402" y="145" width="1" height="4" fill="#0050ff"/>
<rect x="402" y="110" width="1" height="7" fill="#000000"/>
<rect x="402" y="126" width="1" height="2" fill="#00afff"/>
<rect x="402" y="107" width="2" height="1" fill="#00bfff"/>
<rect x="402" y="106" width="2" height="1" fill="#00cfff"/>
<rect x="403" y="137" width="1" height="12" fill="#0080ff"/>
<rect x="403" y="37" width="1" height="49" fill="#00ffff"/>
<rect x="403" y="133" width="1" height="1" fill="#0080ff"/>
<rect x="403" y="130" width="1" height="1" fill="#0080ff"/>
<rect x="403" y="123" width="1" height="3" fill="#00bfff"/>
<rect x="403" y="126" width="1" height="1" fill="#00afff"/>
<rect x="403" y="153" width="1" height="3" fill="#0060ff"/>
<rect x="403" y="95" width="1" height="1" fill="#00dfff"/>
<rect x="403" y="113" width="1" height="2" fill="#008fff"/>
<rect x="403" y="149" width="1" height="4" fill="#0070ff"/>
<rect x="403" y="127" width="1" height="3" fill="#000000"/>
<rect x="403" y="108" width="1" height="5" fill="#000000"/>
<rect x="403" y="86" width="1" height="9" fill="#00efff"/>
<rect x="403" y="115" width="1" height="8" fill="#000000"/>
<rect x="403" y="96" width="1" height="10" fill="#000000"/>
<rect x="403" y="134" width="1" height="3" fill="#000000"/>
<rect x="403" y="131" width="2" height="2" fill="#0070ff"/>
<rect x="404" y="123" width="1" height="1" fill="#00cfff"/>
<rect x="404" y="37" width="1" height="36" fill="#00ffff"/>
<rect x="404" y="103" width="1" height="1" fill="#00bfff"/>
<rect x="404" y="130" width="1" height="1" fill="#000000"/>
<rect x="404" y="119" width="1" height="1" fill="#00dfff"/>
<rect x="404" y="73" width="1" height="21" fill="#00efff"/>
<rect x="404" y="109" width="1" height="3" fill="#008fff"/>
<rect x="404" y="133" width="1" height="3" fill="#0080ff"/>
<rect x="404" y="94" width="1" height="1" fill="#00dfff"/>
<rect x="404" y="120" width="1" height="3" fill="#000000"/>
<rect x="404" y="136" width="1" height="16" fill="#0070ff"/>
<rect x="404" y="105" width="1" height="2" fill="#009fff"/>
<rect x="404" y="129" width="1" height="1" fill="#0080ff"/>
<rect x="404" y="128" width="1" height="1" fill="#008fff"/>
<rect x="404" y="95" width="1" height="5" fill="#000000"/>
<rect x="404" y="104" width="1" height="1" fill="#00afff"/>
<rect x="404" y="101" width="1" height="2" fill="#00cfff"/>
<rect x="404" y="116" width="1" height="1" fill="#009fff"/>
<rect x="404" y="117" width="1" height="2" fill="#000000"/>
<rect x="404" y="152" width="1" height="4" fill="#0060ff"/>
<rect x="404" y="115" width="1" height="1" fill="#008fff"/>
<rect x="404" y="124" width="1" height="4" fill="#000000"/>
<rect x="404" y="112" width="1" height="3" fill="#000000"/>
<rect x="404" y="107" width="1" height="2" fill="#000000"/>
<rect x="405" y="37" width="1" height="38" fill="#00ffff"/>
<rect x="405" y="108" width="1" height="4" fill="#000000"/>
<rect x="405" y="102" width="1" height="4" fill="#00bfff"/>
<rect x="405" y="131" width="1" height="1" fill="#008fff"/>
<rect x="405" y="112" width="1" height="1" fill="#008fff"/>
<rect x="405" y="115" width="1" height="1" fill="#00cfff"/>
<rect x="405" y="155" width="1" height="1" fill="#0060ff"/>
<rect x="405" y="126" width="1" height="5" fill="#000000"/>
<rect x="405" y="114" width="1" height="1" fill="#00afff"/>
<rect x="405" y="136" width="1" height="6" fill="#0080ff"/>
<rect x="405" y="132" width="1" height="4" fill="#000000"/>
<rect x="405" y="113" width="1" height="1" fill="#009fff"/>
<rect x="405" y="75" width="1" height="24" fill="#00efff"/>
<rect x="405" y="107" width="1" height="1" fill="#009fff"/>
<rect x="405" y="124" width="1" height="2" fill="#0080ff"/>
<rect x="405" y="150" width="1" height="5" fill="#0070ff"/>
<rect x="405" y="106" width="1" height="1" fill="#00afff"/>
<rect x="405" y="116" width="1" height="8" fill="#000000"/>
<rect x="405" y="144" width="1" height="6" fill="#0060ff"/>
<rect x="404" y="100" width="3" height="1" fill="#00dfff"/>
<rect x="405" y="101" width="2" height="1" fill="#00cfff"/>
<rect x="405" y="142" width="2" height="2" fill="#0070ff"/>
<rect x="405" y="99" width="2" height="1" fill="#000000"/>
<rect x="406" y="140" width="1" height="2" fill="#0080ff"/>
<rect x="406" y="96" width="1" height="1" fill="#00dfff"/>
<rect x="406" y="123" width="1" height="5" fill="#0070ff"/>
<rect x="406" y="37" width="1" height="4" fill="#10ffef"/>
<rect x="406" y="138" width="1" height="2" fill="#008fff"/>
<rect x="406" y="122" width="1" height="1" fill="#0080ff"/>
<rect x="406" y="103" width="1" height="1" fill="#00afff"/>
<rect x="406" y="104" width="1" height="2" fill="#009fff"/>
<rect x="406" y="148" width="1" height="8" fill="#0070ff"/>
<rect x="406" y="84" width="1" height="12" fill="#00efff"/>
<rect x="406" y="116" width="1" height="3" fill="#00cfff"/>
<rect x="406" y="106" width="1" height="8" fill="#00afff"/>
<rect x="406" y="114" width="1" height="2" fill="#00bfff"/>
<rect x="406" y="102" width="1" height="1" fill="#00bfff"/>
<rect x="406" y="128" width="1" height="10" fill="#0080ff"/>
<rect x="406" y="144" width="1" height="4" fill="#0060ff"/>
<rect x="406" y="119" width="1" height="1" fill="#00bfff"/>
<rect x="406" y="120" width="1" height="2" fill="#000000"/>
<rect x="406" y="97" width="1" height="2" fill="#00efff"/>
<rect x="406" y="41" width="1" height="43" fill="#00ffff"/>
<rect x="407" y="96" width="1" height="3" fill="#000000"/>
<rect x="407" y="102" width="1" height="1" fill="#00afff"/>
<rect x="407" y="108" width="1" height="2" fill="#00afff"/>
<rect x="407" y="99" width="1" height="1" fill="#00dfff"/>
<rect x="407" y="101" width="1" height="1" fill="#00bfff"/>
<rect x="407" y="113" width="1" height="3" fill="#00dfff"/>
<rect x="407" y="100" width="1" height="1" fill="#00cfff"/>
<rect x="407" y="143" width="1" height="4" fill="#0060ff"/>
<rect x="407" y="122" width="1" height="12" fill="#000000"/>
<rect x="407" y="80" width="1" height="14" fill="#00efff"/>
<rect x="407" y="106" width="1" height="2" fill="#009fff"/>
<rect x="407" y="103" width="1" height="1" fill="#009fff"/>
<rect x="407" y="37" width="1" height="5" fill="#10ffef"/>
<rect x="407" y="116" width="1" height="4" fill="#000000"/>
<rect x="407" y="134" width="1" height="9" fill="#0070ff"/>
<rect x="407" y="104" width="1" height="2" fill="#008fff"/>
<rect x="407" y="42" width="1" height="38" fill="#00ffff"/>
<rect x="407" y="94" width="1" height="2" fill="#00dfff"/>
<rect x="407" y="110" width="1" height="2" fill="#00bfff"/>
<rect x="407" y="120" width="1" height="2" fill="#0080ff"/>
<rect x="407" y="112" width="1" height="1" fill="#00cfff"/>
<rect x="408" y="137" width="1" height="1" fill="#0080ff"/>
<rect x="408" y="97" width="1" height="3" fill="#00cfff"/>
<rect x="408" y="37" width="1" height="34" fill="#00ffff"/>
<rect x="408" y="96" width="1" height="1" fill="#00dfff"/>
<rect x="408" y="138" width="1" height="3" fill="#000000"/>
<rect x="408" y="141" width="1" height="3" fill="#0080ff"/>
<rect x="408" y="112" width="1" height="2" fill="#00afff"/>
<rect x="408" y="94" width="1" height="1" fill="#00dfff"/>
<rect x="408" y="117" width="1" height="1" fill="#0080ff"/>
<rect x="408" y="118" width="1" height="2" fill="#0070ff"/>
<rect x="408" y="130" width="1" height="4" fill="#0060ff"/>
<rect x="408" y="104" width="1" height="4" fill="#00afff"/>
<rect x="408" y="134" width="1" height="3" fill="#0070ff"/>
<rect x="408" y="95" width="1" height="1" fill="#000000"/>
<rect x="408" y="126" width="1" height="4" fill="#0070ff"/>
<rect x="408" y="115" width="1" height="2" fill="#000000"/>
<rect x="408" y="100" width="1" height="4" fill="#000000"/>
<rect x="408" y="144" width="1" height="12" fill="#0070ff"/>
<rect x="408" y="114" width="1" height="1" fill="#009fff"/>
<rect x="408" y="120" width="1" height="6" fill="#000000"/>
<rect x="408" y="108" width="1" height="4" fill="#00bfff"/>
<rect x="408" y="71" width="1" height="23" fill="#00efff"/>
<rect x="409" y="37" width="1" height="44" fill="#000000"/>
<rect x="409" y="141" width="1" height="2" fill="#008fff"/>
<rect x="409" y="100" width="1" height="1" fill="#00dfff"/>
<rect x="409" y="93" width="1" height="2" fill="#00efff"/>
<rect x="409" y="103" width="1" height="1" fill="#000000"/>
<rect x="409" y="115" width="1" height="1" fill="#009fff"/>
<rect x="409" y="140" width="1" height="1" fill="#000000"/>
<rect x="409" y="95" width="1" height="5" fill="#000000"/>
<rect x="409" y="104" width="1" height="2" fill="#00cfff"/>
<rect x="409" y="139" width="1" height="1" fill="#009fff"/>
<rect x="409" y="129" width="1" height="9" fill="#000000"/>
<rect x="409" y="123" width="1" height="5" fill="#000000"/>
<rect x="409" y="138" width="1" height="1" fill="#008fff"/>
<rect x="409" y="81" width="1" height="12" fill="#00ffff"/>
<rect x="409" y="106" width="1" height="7" fill="#00bfff"/>
<rect x="409" y="116" width="1" height="4" fill="#000000"/>
<rect x="409" y="128" width="1" height="1" fill="#0080ff"/>
<rect x="409" y="113" width="1" height="2" fill="#00afff"/>
<rect x="409" y="143" width="1" height="4" fill="#0080ff"/>
<rect x="409" y="101" width="1" height="2" fill="#00efff"/>
<rect x="409" y="120" width="1" height="3" fill="#008fff"/>
<rect x="410" y="122" width="1" height="2" fill="#000000"/>
<rect x="410" y="74" width="1" height="5" fill="#000000"/>
<rect x="410" y="148" width="1" height="1" fill="#008fff"/>
<rect x="410" y="130" width="1" height="1" fill="#000000"/>
<rect x="410" y="96" width="1" height="3" fill="#00dfff"/>
<rect x="410" y="128" width="1" height="1" fill="#0070ff"/>
<rect x="410" y="99" width="1" height="3" fill="#00efff"/>
<rect x="410" y="115" width="1" height="2" fill="#00bfff"/>
<rect x="410" y="79" width="1" height="15" fill="#00ffff"/>
<rect x="410" y="125" width="1" height="3" fill="#0080ff"/>
<rect x="410" y="47" width="1" height="3" fill="#000000"/>
<rect x="410" y="129" width="1" height="1" fill="#0080ff"/>
<rect x="410" y="102" width="1" height="13" fill="#000000"/>
<rect x="410" y="119" width="1" height="3" fill="#009fff"/>
<rect x="410" y="131" width="1" height="2" fill="#009fff"/>
<rect x="410" y="94" width="1" height="2" fill="#00efff"/>
<rect x="410" y="37" width="1" height="10" fill="#10ffef"/>
<rect x="410" y="117" width="1" height="2" fill="#00afff"/>
<rect x="410" y="133" width="1" height="6" fill="#00afff"/>
<rect x="410" y="141" width="1" height="1" fill="#008fff"/>
<rect x="410" y="50" width="1" height="20" fill="#10ffef"/>
<rect x="410" y="139" width="1" height="2" fill="#000000"/>
<rect x="410" y="142" width="1" height="6" fill="#0080ff"/>
<rect x="410" y="149" width="1" height="7" fill="#0080ff"/>
<rect x="410" y="124" width="1" height="1" fill="#008fff"/>
<rect x="410" y="70" width="2" height="4" fill="#00ffff"/>
<rect x="411" y="90" width="1" height="5" fill="#00efff"/>
<rect x="411" y="138" width="1" height="3" fill="#000000"/>
<rect x="411" y="114" width="1" height="6" fill="#000000"/>
<rect x="411" y="81" width="1" height="9" fill="#00ffff"/>
<rect x="411" y="113" width="1" height="1" fill="#00dfff"/>
<rect x="411" y="104" width="1" height="1" fill="#00efff"/>
<rect x="411" y="74" width="1" height="7" fill="#000000"/>
<rect x="411" y="126" width="1" height="2" fill="#0070ff"/>
<rect x="411" y="128" width="1" height="2" fill="#000000"/>
<rect x="411" y="130" width="1" height="8" fill="#009fff"/>
<rect x="411" y="152" width="1" height="4" fill="#0070ff"/>
<rect x="411" y="141" width="1" height="11" fill="#0080ff"/>
<rect x="411" y="121" width="1" height="1" fill="#00afff"/>
<rect x="411" y="110" width="1" height="3" fill="#00efff"/>
<rect x="411" y="100" width="1" height="2" fill="#10ffef"/>
<rect x="411" y="102" width="1" height="2" fill="#00ffff"/>
<rect x="411" y="122" width="1" height="1" fill="#009fff"/>
<rect x="411" y="124" width="1" height="2" fill="#0080ff"/>
<rect x="411" y="105" width="1" height="5" fill="#000000"/>
<rect x="411" y="95" width="1" height="5" fill="#00ffff"/>
<rect x="411" y="37" width="1" height="33" fill="#000000"/>
<rect x="411" y="120" width="1" height="1" fill="#00bfff"/>
<rect x="411" y="123" width="2" height="1" fill="#000000"/>
<rect x="412" y="125" width="1" height="2" fill="#0080ff"/>
<rect x="412" y="48" width="1" height="14" fill="#10ffef"/>
<rect x="412" y="103" width="1" height="1" fill="#00efff"/>
<rect x="412" y="110" width="1" height="5" fill="#00dfff"/>
<rect x="412" y="121" width="1" height="1" fill="#00bfff"/>
<rect x="412" y="104" width="1" height="6" fill="#000000"/>
<rect x="412" y="37" width="1" height="2" fill="#10ffef"/>
<rect x="412" y="115" width="1" height="5" fill="#000000"/>
<rect x="412" y="127" width="1" height="4" fill="#000000"/>
<rect x="412" y="79" width="1" height="1" fill="#10ffef"/>
<rect x="412" y="39" width="1" height="2" fill="#000000"/>
<rect x="412" y="131" width="1" height="4" fill="#00afff"/>
<rect x="412" y="47" width="1" height="1" fill="#000000"/>
<rect x="412" y="80" width="1" height="14" fill="#00ffff"/>
<rect x="412" y="122" width="1" height="1" fill="#00afff"/>
<rect x="412" y="41" width="1" height="6" fill="#10ffef"/>
<rect x="412" y="141" width="1" height="10" fill="#008fff"/>
<rect x="412" y="101" width="1" height="2" fill="#00ffff"/>
<rect x="412" y="120" width="1" height="1" fill="#00cfff"/>
<rect x="412" y="68" width="1" height="7" fill="#10ffef"/>
<rect x="412" y="94" width="1" height="7" fill="#10ffef"/>
<rect x="412" y="75" width="1" height="4" fill="#000000"/>
<rect x="412" y="62" width="1" height="6" fill="#000000"/>
<rect x="412" y="124" width="1" height="1" fill="#008fff"/>
<rect x="412" y="151" width="1" height="5" fill="#0080ff"/>
<rect x="412" y="135" width="1" height="6" fill="#000000"/>
<rect x="413" y="77" width="1" height="18" fill="#00ffff"/>
<rect x="413" y="63" width="1" height="6" fill="#00ffff"/>
<rect x="413" y="113" width="1" height="1" fill="#00dfff"/>
<rect x="413" y="147" width="1" height="9" fill="#0080ff"/>
<rect x="413" y="95" width="1" height="6" fill="#10ffef"/>
<rect x="413" y="114" width="1" height="1" fill="#000000"/>
<rect x="413" y="111" width="1" height="2" fill="#00efff"/>
<rect x="413" y="69" width="1" height="3" fill="#000000"/>
<rect x="413" y="134" width="1" height="9" fill="#000000"/>
<rect x="413" y="37" width="1" height="6" fill="#10ffef"/>
<rect x="413" y="131" width="1" height="3" fill="#008fff"/>
<rect x="413" y="119" width="1" height="1" fill="#00cfff"/>
<rect x="413" y="124" width="1" height="2" fill="#008fff"/>
<rect x="413" y="143" width="1" height="4" fill="#008fff"/>
<rect x="413" y="43" width="1" height="1" fill="#000000"/>
<rect x="413" y="126" width="1" height="3" fill="#0080ff"/>
<rect x="413" y="115" width="1" height="4" fill="#00dfff"/>
<rect x="413" y="75" width="1" height="2" fill="#000000"/>
<rect x="413" y="120" width="1" height="4" fill="#000000"/>
<rect x="413" y="72" width="1" height="3" fill="#00ffff"/>
<rect x="413" y="44" width="1" height="19" fill="#10ffef"/>
<rect x="413" y="101" width="1" height="10" fill="#00ffff"/>
<rect x="413" y="129" width="1" height="2" fill="#000000"/>
<rect x="414" y="95" width="1" height="2" fill="#10ffef"/>
<rect x="414" y="129" width="1" height="1" fill="#008fff"/>
<rect x="414" y="152" width="1" height="1" fill="#008fff"/>
<rect x="414" y="56" width="1" height="2" fill="#10ffef"/>
<rect x="414" y="37" width="1" height="19" fill="#000000"/>
<rect x="414" y="102" width="1" height="3" fill="#00ffff"/>
<rect x="414" y="118" width="1" height="1" fill="#00afff"/>
<rect x="414" y="70" width="1" height="11" fill="#000000"/>
<rect x="414" y="138" width="1" height="3" fill="#009fff"/>
<rect x="414" y="130" width="1" height="1" fill="#009fff"/>
<rect x="414" y="99" width="1" height="3" fill="#10ffef"/>
<rect x="414" y="67" width="1" height="3" fill="#00ffff"/>
<rect x="414" y="150" width="1" height="2" fill="#0080ff"/>
<rect x="414" y="116" width="1" height="1" fill="#00cfff"/>
<rect x="414" y="58" width="1" height="9" fill="#000000"/>
<rect x="414" y="141" width="1" height="1" fill="#008fff"/>
<rect x="414" y="153" width="1" height="3" fill="#0080ff"/>
<rect x="414" y="81" width="1" height="14" fill="#00ffff"/>
<rect x="414" y="131" width="1" height="7" fill="#00afff"/>
<rect x="414" y="105" width="1" height="7" fill="#10ffef"/>
<rect x="414" y="97" width="1" height="2" fill="#20ffdf"/>
<rect x="414" y="114" width="1" height="2" fill="#000000"/>
<rect x="414" y="117" width="1" height="1" fill="#00bfff"/>
<rect x="414" y="113" width="1" height="1" fill="#00efff"/>
<rect x="414" y="142" width="1" height="8" fill="#000000"/>
<rect x="414" y="119" width="1" height="10" fill="#000000"/>
<rect x="414" y="112" width="1" height="1" fill="#00ffff"/>
<rect x="415" y="154" width="1" height="2" fill="#008fff"/>
<rect x="415" y="148" width="1" height="1" fill="#008fff"/>
<rect x="415" y="117" width="1" height="5" fill="#00bfff"/>
<rect x="415" y="122" width="1" height="4" fill="#00afff"/>
<rect x="415" y="107" width="1" height="1" fill="#00efff"/>
<rect x="415" y="114" width="1" height="1" fill="#00efff"/>
<rect x="415" y="53" width="1" height="1" fill="#10ffef"/>
<rect x="415" y="56" width="1" height="4" fill="#10ffef"/>
<rect x="415" y="133" width="1" height="6" fill="#00bfff"/>
<rect x="415" y="71" width="1" height="1" fill="#00ffff"/>
<rect x="415" y="145" width="1" height="3" fill="#009fff"/>
<rect x="415" y="115" width="1" height="2" fill="#000000"/>
<rect x="415" y="81" width="1" height="19" fill="#00ffff"/>
<rect x="415" y="72" width="1" height="9" fill="#000000"/>
<rect x="415" y="113" width="1" height="1" fill="#00ffff"/>
<rect x="415" y="149" width="1" height="5" fill="#000000"/>
<rect x="415" y="60" width="1" height="7" fill="#000000"/>
<rect x="415" y="54" width="1" height="2" fill="#000000"/>
<rect x="415" y="67" width="1" height="4" fill="#10ffef"/>
<rect x="415" y="100" width="1" height="6" fill="#000000"/>
<rect x="415" y="39" width="1" height="14" fill="#000000"/>
<rect x="415" y="106" width="1" height="1" fill="#00dfff"/>
<rect x="415" y="109" width="1" height="4" fill="#10ffef"/>
<rect x="415" y="37" width="1" height="2" fill="#20ffdf"/>
<rect x="415" y="108" width="1" height="1" fill="#00ffff"/>
<rect x="415" y="126" width="1" height="3" fill="#009fff"/>
<rect x="415" y="139" width="1" height="6" fill="#00afff"/>
<rect x="415" y="129" width="1" height="4" fill="#00afff"/>
<rect x="416" y="151" width="1" height="2" fill="#008fff"/>
<rect x="416" y="153" width="1" height="3" fill="#000000"/>
<rect x="416" y="37" width="1" height="17" fill="#000000"/>
<rect x="416" y="116" width="1" height="10" fill="#000000"/>
<rect x="416" y="106" width="1" height="2" fill="#00efff"/>
<rect x="416" y="113" width="1" height="3" fill="#00efff"/>
<rect x="416" y="144" width="1" height="7" fill="#009fff"/>
<rect x="416" y="56" width="1" height="25" fill="#000000"/>
<rect x="416" y="54" width="1" height="2" fill="#10ffef"/>
<rect x="416" y="108" width="1" height="5" fill="#00ffff"/>
<rect x="416" y="99" width="1" height="7" fill="#000000"/>
<rect x="416" y="89" width="1" height="10" fill="#00efff"/>
<rect x="416" y="81" width="1" height="8" fill="#00ffff"/>
<rect x="416" y="126" width="1" height="18" fill="#00afff"/>
<rect x="417" y="112" width="1" height="11" fill="#00efff"/>
<rect x="417" y="125" width="1" height="26" fill="#000000"/>
<rect x="417" y="77" width="1" height="1" fill="#10ffef"/>
<rect x="417" y="155" width="1" height="1" fill="#00afff"/>
<rect x="417" y="37" width="1" height="34" fill="#000000"/>
<rect x="417" y="78" width="1" height="2" fill="#000000"/>
<rect x="417" y="71" width="1" height="2" fill="#10ffef"/>
<rect x="417" y="73" width="1" height="4" fill="#000000"/>
<rect x="417" y="80" width="1" height="18" fill="#10ffef"/>
<rect x="417" y="103" width="1" height="2" fill="#00efff"/>
<rect x="417" y="98" width="1" height="5" fill="#00ffff"/>
<rect x="417" y="123" width="1" height="2" fill="#00dfff"/>
<rect x="417" y="105" width="1" height="7" fill="#00ffff"/>
<rect x="417" y="151" width="1" height="4" fill="#00bfff"/>
<rect x="418" y="47" width="1" height="4" fill="#30ffcf"/>
<rect x="418" y="150" width="1" height="6" fill="#000000"/>
<rect x="418" y="145" width="1" height="5" fill="#00dfff"/>
<rect x="418" y="41" width="1" height="6" fill="#000000"/>
<rect x="418" y="52" width="1" height="7" fill="#30ffcf"/>
<rect x="418" y="51" width="1" height="1" fill="#000000"/>
<rect x="418" y="120" width="1" height="25" fill="#00efff"/>
<rect x="418" y="113" width="1" height="7" fill="#00ffff"/>
<rect x="418" y="37" width="1" height="2" fill="#40ffbf"/>
<rect x="418" y="39" width="1" height="2" fill="#30ffcf"/>
<rect x="418" y="59" width="1" height="54" fill="#000000"/>
<rect x="419" y="37" width="1" height="10" fill="#50ffaf"/>
<rect x="419" y="70" width="1" height="4" fill="#40ffbf"/>
<rect x="419" y="47" width="1" height="3" fill="#000000"/>
<rect x="419" y="57" width="1" height="2" fill="#000000"/>
<rect x="419" y="64" width="1" height="6" fill="#000000"/>
<rect x="419" y="74" width="1" height="82" fill="#000000"/>
<rect x="419" y="50" width="1" height="7" fill="#40ffbf"/>
<rect x="419" y="59" width="1" height="5" fill="#40ffbf"/>
<rect x="420" y="37" width="1" height="114" fill="#000000"/>
<rect x="421" y="70" width="1" height="4" fill="#000000"/>
<rect x="421" y="59" width="1" height="11" fill="#80ff80"/>
<rect x="421" y="54" width="1" height="5" fill="#000000"/>
<rect x="421" y="49" width="1" height="5" fill="#80ff80"/>
<rect x="421" y="75" width="1" height="6" fill="#000000"/>
<rect x="421" y="81" width="1" height="71" fill="#80ff80"/>
<rect x="421" y="45" width="1" height="4" fill="#000000"/>
<rect x="421" y="37" width="1" height="8" fill="#80ff80"/>
<rect x="421" y="74" width="1" height="1" fill="#80ff80"/>
<rect x="422" y="71" width="1" height="85" fill="#80ff80"/>
<rect x="422" y="38" width="1" height="4" fill="#000000"/>
<rect x="422" y="37" width="1" height="1" fill="#80ff80"/>
<rect x="422" y="70" width="1" height="1" fill="#000000"/>
<rect x="422" y="42" width="1" height="28" fill="#80ff80"/>
<rect x="423" y="45" width="1" height="2" fill="#80ff80"/>
<rect x="423" y="47" width="1" height="4" fill="#000000"/>
<rect x="423" y="37" width="1" height="8" fill="#8fff70"/>
<rect x="423" y="56" width="1" height="8" fill="#000000"/>
<rect x="423" y="51" width="1" height="5" fill="#80ff80"/>
<rect x="423" y="64" width="1" height="92" fill="#80ff80"/>
<rect x="424" y="68" width="1" height="2" fill="#000000"/>
<rect x="424" y="67" width="1" height="1" fill="#80ff80"/>
<rect x="424" y="52" width="1" height="15" fill="#000000"/>
<rect x="424" y="45" width="1" height="5" fill="#000000"/>
<rect x="424" y="43" width="1" height="2" fill="#80ff80"/>
<rect x="424" y="40" width="1" height="3" fill="#000000"/>
<rect x="424" y="37" width="1" height="3" fill="#80ff80"/>
<rect x="424" y="70" width="1" height="86" fill="#80ff80"/>
<rect x="424" y="50" width="1" height="2" fill="#80ff80"/>
<rect x="425" y="58" width="1" height="4" fill="#000000"/>
<rect x="425" y="48" width="1" height="8" fill="#000000"/>
<rect x="425" y="45" width="1" height="3" fill="#80ff80"/>
<rect x="425" y="41" width="1" height="3" fill="#80ff80"/>
<rect x="425" y="37" width="1" height="1" fill="#80ff80"/>
<rect x="425" y="62" width="1" height="94" fill="#80ff80"/>
<rect x="425" y="44" width="1" height="1" fill="#000000"/>
<rect x="425" y="56" width="1" height="2" fill="#80ff80"/>
<rect x="425" y="38" width="1" height="3" fill="#000000"/>
<rect x="426" y="48" width="1" height="10" fill="#8fff70"/>
<rect x="426" y="75" width="1" height="81" fill="#80ff80"/>
<rect x="426" y="37" width="1" height="11" fill="#000000"/>
<rect x="426" y="61" width="1" height="14" fill="#8fff70"/>
<rect x="426" y="58" width="1" height="3" fill="#000000"/>
<rect x="427" y="56" width="1" height="81" fill="#8fff70"/>
<rect x="427" y="48" width="1" height="8" fill="#000000"/>
<rect x="427" y="137" width="1" height="19" fill="#80ff80"/>
<rect x="427" y="37" width="1" height="2" fill="#8fff70"/>
<rect x="427" y="47" width="1" height="1" fill="#8fff70"/>
<rect x="427" y="39" width="1" height="3" fill="#000000"/>
<rect x="427" y="45" width="1" height="2" fill="#000000"/>
<rect x="427" y="42" width="1" height="3" fill="#8fff70"/>
<rect x="428" y="54" width="1" height="5" fill="#000000"/>
<rect x="428" y="59" width="1" height="97" fill="#8fff70"/>
<rect x="428" y="37" width="1" height="17" fill="#8fff70"/>
<rect x="429" y="107" width="1" height="49" fill="#80ff80"/>
<rect x="429" y="37" width="1" height="70" fill="#8fff70"/>
<rect x="430" y="59" width="1" height="55" fill="#8fff70"/>
<rect x="430" y="56" width="1" height="3" fill="#000000"/>
<rect x="430" y="37" width="1" height="4" fill="#000000"/>
<rect x="430" y="44" width="1" height="11" fill="#000000"/>
<rect x="430" y="55" width="1" height="1" fill="#8fff70"/>
<rect x="430" y="41" width="1" height="3" fill="#8fff70"/>
<rect x="430" y="114" width="1" height="42" fill="#80ff80"/>
<rect x="431" y="37" width="1" height="30" fill="#000000"/>
<rect x="431" y="67" width="1" height="86" fill="#8fff70"/>
<rect x="432" y="55" width="1" height="92" fill="#8fff70"/>
<rect x="432" y="147" width="1" height="9" fill="#80ff80"/>
<rect x="432" y="37" width="1" height="1" fill="#8fff70"/>
<rect x="432" y="49" width="1" height="6" fill="#000000"/>
<rect x="432" y="38" width="1" height="4" fill="#000000"/>
<rect x="432" y="42" width="1" height="7" fill="#8fff70"/>
<rect x="433" y="63" width="1" height="93" fill="#8fff70"/>
<rect x="433" y="38" width="1" height="2" fill="#8fff70"/>
<rect x="433" y="40" width="1" height="23" fill="#000000"/>
<rect x="433" y="37" width="1" height="1" fill="#000000"/>
<rect x="434" y="37" width="1" height="57" fill="#000000"/>
<rect x="434" y="94" width="1" height="62" fill="#8fff70"/>
<rect x="435" y="102" width="1" height="21" fill="#afff50"/>
<rect x="435" y="99" width="1" height="3" fill="#bfff40"/>
<rect x="435" y="144" width="1" height="12" fill="#8fff70"/>
<rect x="435" y="37" width="1" height="56" fill="#bfff40"/>
<rect x="435" y="123" width="1" height="21" fill="#9fff60"/>
<rect x="435" y="93" width="1" height="6" fill="#000000"/>
<rect x="436" y="37" width="1" height="2" fill="#cfff30"/>
<rect x="436" y="39" width="1" height="59" fill="#bfff40"/>
<rect x="436" y="109" width="1" height="19" fill="#afff50"/>
<rect x="436" y="98" width="1" height="11" fill="#000000"/>
<rect x="436" y="147" width="1" height="9" fill="#8fff70"/>
<rect x="436" y="128" width="1" height="19" fill="#9fff60"/>
<rect x="437" y="37" width="1" height="29" fill="#cfff30"/>
<rect x="437" y="66" width="1" height="42" fill="#bfff40"/>
<rect x="437" y="108" width="1" height="39" fill="#000000"/>
<rect x="438" y="37" width="1" height="119" fill="#cfff30"/>
<rect x="439" y="37" width="1" height="60" fill="#cfff30"/>
<rect x="439" y="97" width="1" height="59" fill="#bfff40"/>
<rect x="440" y="37" width="1" height="114" fill="#cfff30"/>
<rect x="441" y="133" width="1" height="23" fill="#bfff40"/>
<rect x="441" y="37" width="1" height="96" fill="#cfff30"/>
<rect x="442" y="125" width="1" height="31" fill="#000000"/>
<rect x="442" y="116" width="1" height="5" fill="#000000"/>
<rect x="442" y="121" width="1" height="4" fill="#cfff30"/>
<rect x="442" y="109" width="1" height="7" fill="#cfff30"/>
<rect x="442" y="77" width="1" height="31" fill="#cfff30"/>
<rect x="442" y="37" width="1" height="40" fill="#dfff20"/>
<rect x="442" y="108" width="1" height="1" fill="#000000"/>
<rect x="443" y="112" width="1" height="23" fill="#000000"/>
<rect x="443" y="152" width="1" height="4" fill="#afff50"/>
<rect x="443" y="135" width="1" height="17" fill="#bfff40"/>
<rect x="443" y="37" width="1" height="75" fill="#cfff30"/>
<rect x="444" y="97" width="1" height="14" fill="#bfff40"/>
<rect x="444" y="141" width="1" height="2" fill="#9fff60"/>
<rect x="444" y="111" width="1" height="2" fill="#000000"/>
<rect x="444" y="118" width="1" height="23" fill="#000000"/>
<rect x="444" y="37" width="1" height="60" fill="#cfff30"/>
<rect x="444" y="117" width="1" height="1" fill="#afff50"/>
<rect x="444" y="113" width="2" height="4" fill="#bfff40"/>
<rect x="445" y="37" width="1" height="56" fill="#cfff30"/>
<rect x="445" y="93" width="1" height="14" fill="#bfff40"/>
<rect x="445" y="122" width="1" height="7" fill="#afff50"/>
<rect x="445" y="129" width="1" height="10" fill="#000000"/>
<rect x="445" y="120" width="1" height="2" fill="#000000"/>
<rect x="445" y="107" width="1" height="6" fill="#000000"/>
<rect x="445" y="140" width="1" height="16" fill="#9fff60"/>
<rect x="445" y="117" width="1" height="3" fill="#afff50"/>
<rect x="445" y="139" width="1" height="1" fill="#afff50"/>
<rect x="446" y="122" width="1" height="5" fill="#000000"/>
<rect x="446" y="37" width="1" height="24" fill="#cfff30"/>
<rect x="446" y="106" width="1" height="13" fill="#000000"/>
<rect x="446" y="154" width="1" height="2" fill="#8fff70"/>
<rect x="446" y="130" width="1" height="24" fill="#9fff60"/>
<rect x="446" y="119" width="1" height="3" fill="#afff50"/>
<rect x="446" y="127" width="1" height="3" fill="#afff50"/>
<rect x="446" y="61" width="1" height="45" fill="#bfff40"/>
<rect x="447" y="106" width="1" height="4" fill="#bfff40"/>
<rect x="447" y="122" width="1" height="1" fill="#000000"/>
<rect x="447" y="116" width="1" height="4" fill="#bfff40"/>
<rect x="447" y="143" width="1" height="13" fill="#9fff60"/>
<rect x="447" y="123" width="1" height="20" fill="#afff50"/>
<rect x="447" y="120" width="1" height="2" fill="#afff50"/>
<rect x="447" y="110" width="1" height="6" fill="#000000"/>
<rect x="447" y="37" width="1" height="69" fill="#cfff30"/>
<rect x="448" y="107" width="1" height="1" fill="#bfff40"/>
<rect x="448" y="108" width="1" height="7" fill="#000000"/>
<rect x="448" y="122" width="1" height="22" fill="#afff50"/>
<rect x="448" y="37" width="1" height="6" fill="#dfff20"/>
<rect x="448" y="144" width="1" height="12" fill="#9fff60"/>
<rect x="448" y="43" width="1" height="64" fill="#cfff30"/>
<rect x="448" y="115" width="1" height="7" fill="#bfff40"/>
<rect x="449" y="37" width="1" height="46" fill="#cfff30"/>
<rect x="449" y="112" width="1" height="21" fill="#afff50"/>
<rect x="449" y="107" width="1" height="4" fill="#000000"/>
<rect x="449" y="111" width="1" height="1" fill="#bfff40"/>
<rect x="449" y="155" width="1" height="1" fill="#8fff70"/>
<rect x="449" y="133" width="1" height="22" fill="#9fff60"/>
<rect x="449" y="83" width="1" height="24" fill="#bfff40"/>
<rect x="450" y="139" width="1" height="17" fill="#9fff60"/>
<rect x="450" y="37" width="1" height="42" fill="#cfff30"/>
<rect x="450" y="118" width="1" height="21" fill="#afff50"/>
<rect x="450" y="79" width="1" height="32" fill="#000000"/>
<rect x="450" y="111" width="1" height="7" fill="#bfff40"/>
<rect x="451" y="48" width="1" height="31" fill="#000000"/>
<rect x="451" y="37" width="1" height="11" fill="#cfff30"/>
<rect x="451" y="100" width="1" height="26" fill="#afff50"/>
<rect x="451" y="126" width="1" height="29" fill="#9fff60"/>
<rect x="451" y="155" width="1" height="1" fill="#8fff70"/>
<rect x="451" y="79" width="1" height="21" fill="#bfff40"/>
<rect x="452" y="82" width="1" height="45" fill="#9fff60"/>
<rect x="452" y="47" width="1" height="2" fill="#000000"/>
<rect x="452" y="37" width="1" height="10" fill="#bfff40"/>
<rect x="452" y="49" width="1" height="2" fill="#bfff40"/>
<rect x="452" y="127" width="1" height="29" fill="#8fff70"/>
<rect x="452" y="51" width="1" height="31" fill="#afff50"/>
<rect x="453" y="49" width="1" height="12" fill="#bfff40"/>
<rect x="453" y="37" width="1" height="4" fill="#cfff30"/>
<rect x="453" y="61" width="1" height="59" fill="#afff50"/>
<rect x="453" y="120" width="1" height="30" fill="#9fff60"/>
<rect x="453" y="41" width="1" height="7" fill="#bfff40"/>
<rect x="453" y="150" width="2" height="6" fill="#8fff70"/>
<rect x="453" y="48" width="2" height="1" fill="#000000"/>
<rect x="454" y="43" width="1" height="5" fill="#bfff40"/>
<rect x="454" y="68" width="1" height="53" fill="#afff50"/>
<rect x="454" y="121" width="1" height="29" fill="#9fff60"/>
<rect x="454" y="37" width="1" height="6" fill="#cfff30"/>
<rect x="454" y="49" width="1" height="19" fill="#bfff40"/>
<rect x="455" y="51" width="1" height="63" fill="#afff50"/>
<rect x="455" y="48" width="1" height="3" fill="#bfff40"/>
<rect x="455" y="40" width="1" height="7" fill="#bfff40"/>
<rect x="455" y="47" width="1" height="1" fill="#000000"/>
<rect x="455" y="143" width="1" height="13" fill="#8fff70"/>
<rect x="455" y="114" width="1" height="29" fill="#9fff60"/>
<rect x="455" y="37" width="2" height="3" fill="#cfff30"/>
<rect x="456" y="110" width="1" height="28" fill="#9fff60"/>
<rect x="456" y="40" width="1" height="6" fill="#bfff40"/>
<rect x="456" y="46" width="1" height="3" fill="#000000"/>
<rect x="456" y="49" width="1" height="61" fill="#afff50"/>
<rect x="456" y="138" width="1" height="18" fill="#8fff70"/>
<rect x="457" y="49" width="1" height="8" fill="#bfff40"/>
<rect x="457" y="43" width="1" height="5" fill="#bfff40"/>
<rect x="457" y="142" width="1" height="14" fill="#8fff70"/>
<rect x="457" y="115" width="1" height="27" fill="#9fff60"/>
<rect x="457" y="57" width="1" height="58" fill="#afff50"/>
<rect x="457" y="37" width="1" height="6" fill="#cfff30"/>
<rect x="458" y="133" width="1" height="23" fill="#8fff70"/>
<rect x="458" y="37" width="1" height="11" fill="#bfff40"/>
<rect x="458" y="105" width="1" height="28" fill="#9fff60"/>
<rect x="458" y="52" width="1" height="53" fill="#afff50"/>
<rect x="457" y="48" width="3" height="1" fill="#000000"/>
<rect x="458" y="49" width="2" height="3" fill="#bfff40"/>
<rect x="459" y="111" width="1" height="26" fill="#9fff60"/>
<rect x="459" y="37" width="1" height="5" fill="#cfff30"/>
<rect x="459" y="52" width="1" height="59" fill="#afff50"/>
<rect x="459" y="137" width="1" height="19" fill="#8fff70"/>
<rect x="459" y="42" width="1" height="6" fill="#bfff40"/>
<rect x="460" y="37" width="1" height="8" fill="#cfff30"/>
<rect x="460" y="49" width="1" height="11" fill="#bfff40"/>
<rect x="460" y="47" width="1" height="2" fill="#000000"/>
<rect x="460" y="139" width="1" height="17" fill="#8fff70"/>
<rect x="460" y="45" width="1" height="2" fill="#bfff40"/>
<rect x="460" y="113" width="1" height="26" fill="#9fff60"/>
<rect x="460" y="60" width="1" height="53" fill="#afff50"/>
<rect x="461" y="102" width="1" height="27" fill="#9fff60"/>
<rect x="461" y="37" width="1" height="3" fill="#cfff30"/>
<rect x="461" y="49" width="1" height="1" fill="#bfff40"/>
<rect x="461" y="40" width="1" height="6" fill="#bfff40"/>
<rect x="461" y="150" width="1" height="6" fill="#80ff80"/>
<rect x="461" y="129" width="1" height="21" fill="#8fff70"/>
<rect x="461" y="46" width="1" height="3" fill="#000000"/>
<rect x="461" y="50" width="1" height="52" fill="#afff50"/>
<rect x="462" y="49" width="1" height="9" fill="#bfff40"/>
<rect x="462" y="37" width="1" height="8" fill="#cfff30"/>
<rect x="462" y="111" width="1" height="25" fill="#9fff60"/>
<rect x="462" y="48" width="1" height="1" fill="#000000"/>
<rect x="462" y="58" width="1" height="53" fill="#afff50"/>
<rect x="462" y="136" width="1" height="20" fill="#8fff70"/>
<rect x="462" y="45" width="1" height="3" fill="#bfff40"/>
<rect x="463" y="151" width="1" height="5" fill="#80ff80"/>
<rect x="463" y="51" width="1" height="54" fill="#afff50"/>
<rect x="463" y="49" width="1" height="2" fill="#bfff40"/>
<rect x="463" y="37" width="1" height="7" fill="#cfff30"/>
<rect x="463" y="105" width="1" height="26" fill="#9fff60"/>
<rect x="463" y="44" width="1" height="2" fill="#bfff40"/>
<rect x="463" y="46" width="1" height="3" fill="#000000"/>
<rect x="463" y="131" width="1" height="20" fill="#8fff70"/>
<rect x="464" y="88" width="1" height="33" fill="#9fff60"/>
<rect x="464" y="37" width="1" height="2" fill="#cfff30"/>
<rect x="464" y="45" width="1" height="5" fill="#000000"/>
<rect x="464" y="121" width="1" height="21" fill="#8fff70"/>
<rect x="464" y="50" width="1" height="38" fill="#afff50"/>
<rect x="464" y="142" width="1" height="14" fill="#80ff80"/>
<rect x="464" y="39" width="1" height="6" fill="#bfff40"/>
<rect x="465" y="46" width="1" height="2" fill="#bfff40"/>
<rect x="465" y="37" width="1" height="9" fill="#cfff30"/>
<rect x="465" y="131" width="1" height="18" fill="#8fff70"/>
<rect x="465" y="50" width="1" height="2" fill="#bfff40"/>
<rect x="465" y="105" width="1" height="26" fill="#9fff60"/>
<rect x="465" y="52" width="1" height="53" fill="#afff50"/>
<rect x="465" y="149" width="1" height="7" fill="#80ff80"/>
<rect x="465" y="48" width="1" height="2" fill="#000000"/>
<rect x="466" y="37" width="1" height="8" fill="#cfff30"/>
<rect x="466" y="143" width="1" height="13" fill="#80ff80"/>
<rect x="466" y="123" width="1" height="20" fill="#8fff70"/>
<rect x="466" y="47" width="1" height="5" fill="#000000"/>
<rect x="466" y="98" width="1" height="25" fill="#9fff60"/>
<rect x="466" y="52" width="1" height="46" fill="#afff50"/>
<rect x="466" y="45" width="1" height="2" fill="#bfff40"/>
<rect x="467" y="52" width="1" height="4" fill="#bfff40"/>
<rect x="467" y="49" width="1" height="3" fill="#000000"/>
<rect x="467" y="107" width="1" height="24" fill="#9fff60"/>
<rect x="467" y="131" width="1" height="19" fill="#8fff70"/>
<rect x="467" y="45" width="1" height="4" fill="#cfff30"/>
<rect x="467" y="56" width="1" height="51" fill="#afff50"/>
<rect x="467" y="37" width="1" height="8" fill="#dfff20"/>
<rect x="468" y="143" width="1" height="13" fill="#80ff80"/>
<rect x="468" y="98" width="1" height="23" fill="#9fff60"/>
<rect x="468" y="42" width="1" height="3" fill="#dfff20"/>
<rect x="468" y="121" width="1" height="22" fill="#8fff70"/>
<rect x="468" y="47" width="1" height="1" fill="#bfff40"/>
<rect x="468" y="38" width="1" height="4" fill="#efff10"/>
<rect x="468" y="45" width="1" height="2" fill="#cfff30"/>
<rect x="468" y="37" width="1" height="1" fill="#dfff20"/>
<rect x="468" y="50" width="1" height="48" fill="#afff50"/>
<rect x="468" y="48" width="1" height="2" fill="#000000"/>
<rect x="469" y="38" width="1" height="4" fill="#ffff00"/>
<rect x="469" y="55" width="1" height="51" fill="#afff50"/>
<rect x="469" y="48" width="1" height="1" fill="#bfff40"/>
<rect x="469" y="129" width="1" height="17" fill="#8fff70"/>
<rect x="469" y="49" width="1" height="2" fill="#000000"/>
<rect x="469" y="106" width="1" height="23" fill="#9fff60"/>
<rect x="469" y="51" width="1" height="4" fill="#bfff40"/>
<rect x="469" y="42" width="1" height="2" fill="#efff10"/>
<rect x="469" y="46" width="1" height="2" fill="#cfff30"/>
<rect x="469" y="44" width="2" height="2" fill="#dfff20"/>
<rect x="469" y="37" width="2" height="1" fill="#000000"/>
<rect x="470" y="38" width="1" height="1" fill="#ffff00"/>
<rect x="470" y="54" width="1" height="47" fill="#afff50"/>
<rect x="470" y="43" width="1" height="1" fill="#efff10"/>
<rect x="470" y="49" width="1" height="1" fill="#bfff40"/>
<rect x="470" y="50" width="1" height="4" fill="#000000"/>
<rect x="470" y="46" width="1" height="3" fill="#cfff30"/>
<rect x="470" y="101" width="1" height="22" fill="#9fff60"/>
<rect x="470" y="123" width="1" height="22" fill="#8fff70"/>
<rect x="470" y="145" width="1" height="11" fill="#80ff80"/>
<rect x="470" y="39" width="1" height="1" fill="#000000"/>
<rect x="470" y="40" width="1" height="3" fill="#ffff00"/>
<rect x="471" y="41" width="1" height="3" fill="#ffff00"/>
<rect x="471" y="45" width="1" height="3" fill="#dfff20"/>
<rect x="471" y="37" width="1" height="4" fill="#000000"/>
<rect x="471" y="106" width="1" height="21" fill="#9fff60"/>
<rect x="471" y="48" width="1" height="3" fill="#cfff30"/>
<rect x="471" y="53" width="1" height="2" fill="#000000"/>
<rect x="471" y="51" width="1" height="2" fill="#bfff40"/>
<rect x="471" y="44" width="1" height="1" fill="#efff10"/>
<rect x="471" y="56" width="1" height="50" fill="#afff50"/>
<rect x="471" y="127" width="1" height="22" fill="#8fff70"/>
<rect x="471" y="55" width="1" height="1" fill="#bfff40"/>
<rect x="471" y="149" width="1" height="7" fill="#80ff80"/>
<rect x="472" y="46" width="1" height="3" fill="#dfff20"/>
<rect x="472" y="125" width="1" height="21" fill="#8fff70"/>
<rect x="472" y="146" width="1" height="10" fill="#80ff80"/>
<rect x="472" y="57" width="1" height="46" fill="#afff50"/>
<rect x="472" y="54" width="1" height="1" fill="#000000"/>
<rect x="472" y="41" width="1" height="1" fill="#ffff00"/>
<rect x="472" y="40" width="1" height="1" fill="#000000"/>
<rect x="472" y="42" width="1" height="2" fill="#000000"/>
<rect x="472" y="44" width="1" height="2" fill="#efff10"/>
<rect x="472" y="55" width="1" height="2" fill="#bfff40"/>
<rect x="472" y="37" width="2" height="3" fill="#ffef00"/>
<rect x="472" y="103" width="2" height="22" fill="#9fff60"/>
<rect x="472" y="49" width="2" height="3" fill="#cfff30"/>
<rect x="472" y="52" width="2" height="2" fill="#bfff40"/>
<rect x="473" y="125" width="1" height="22" fill="#8fff70"/>
<rect x="473" y="45" width="1" height="2" fill="#efff10"/>
<rect x="473" y="147" width="1" height="9" fill="#80ff80"/>
<rect x="473" y="42" width="1" height="1" fill="#ffef00"/>
<rect x="473" y="54" width="1" height="5" fill="#000000"/>
<rect x="473" y="59" width="1" height="44" fill="#afff50"/>
<rect x="473" y="47" width="1" height="2" fill="#dfff20"/>
<rect x="473" y="43" width="1" height="2" fill="#000000"/>
<rect x="473" y="40" width="2" height="2" fill="#000000"/>
<rect x="474" y="51" width="1" height="3" fill="#dfff20"/>
<rect x="474" y="58" width="1" height="6" fill="#000000"/>
<rect x="474" y="42" width="1" height="2" fill="#ffef00"/>
<rect x="474" y="54" width="1" height="4" fill="#cfff30"/>
<rect x="474" y="38" width="1" height="2" fill="#ffdf00"/>
<rect x="474" y="65" width="1" height="47" fill="#afff50"/>
<rect x="474" y="44" width="1" height="7" fill="#000000"/>
<rect x="474" y="112" width="1" height="22" fill="#9fff60"/>
<rect x="474" y="134" width="1" height="22" fill="#8fff70"/>
<rect x="474" y="37" width="1" height="1" fill="#ffef00"/>
<rect x="474" y="64" width="1" height="1" fill="#bfff40"/>
<rect x="475" y="113" width="1" height="22" fill="#9fff60"/>
<rect x="475" y="41" width="1" height="1" fill="#ffdf00"/>
<rect x="475" y="135" width="1" height="21" fill="#8fff70"/>
<rect x="475" y="39" width="1" height="1" fill="#ffdf00"/>
<rect x="475" y="55" width="1" height="1" fill="#dfff20"/>
<rect x="475" y="40" width="1" height="1" fill="#ffcf00"/>
<rect x="475" y="56" width="1" height="8" fill="#000000"/>
<rect x="475" y="51" width="1" height="2" fill="#ffff00"/>
<rect x="475" y="42" width="1" height="9" fill="#000000"/>
<rect x="475" y="53" width="1" height="2" fill="#efff10"/>
<rect x="475" y="64" width="1" height="3" fill="#bfff40"/>
<rect x="475" y="67" width="1" height="46" fill="#afff50"/>
<rect x="476" y="125" width="1" height="22" fill="#8fff70"/>
<rect x="476" y="58" width="1" height="1" fill="#bfff40"/>
<rect x="476" y="45" width="1" height="1" fill="#ffff00"/>
<rect x="476" y="46" width="1" height="2" fill="#efff10"/>
<rect x="476" y="48" width="1" height="3" fill="#dfff20"/>
<rect x="476" y="55" width="1" height="3" fill="#000000"/>
<rect x="476" y="147" width="1" height="7" fill="#80ff80"/>
<rect x="476" y="44" width="1" height="1" fill="#000000"/>
<rect x="476" y="42" width="1" height="2" fill="#ffff00"/>
<rect x="476" y="51" width="1" height="4" fill="#cfff30"/>
<rect x="476" y="102" width="1" height="23" fill="#9fff60"/>
<rect x="476" y="59" width="1" height="43" fill="#afff50"/>
<rect x="476" y="41" width="1" height="1" fill="#000000"/>
<rect x="475" y="37" width="3" height="2" fill="#ffef00"/>
<rect x="476" y="39" width="2" height="2" fill="#ffdf00"/>
<rect x="477" y="146" width="1" height="10" fill="#80ff80"/>
<rect x="477" y="53" width="1" height="3" fill="#cfff30"/>
<rect x="477" y="47" width="1" height="2" fill="#efff10"/>
<rect x="477" y="56" width="1" height="1" fill="#bfff40"/>
<rect x="477" y="61" width="1" height="38" fill="#afff50"/>
<rect x="477" y="99" width="1" height="24" fill="#9fff60"/>
<rect x="477" y="123" width="1" height="23" fill="#8fff70"/>
<rect x="477" y="45" width="1" height="2" fill="#ffff00"/>
<rect x="477" y="49" width="1" height="4" fill="#dfff20"/>
<rect x="477" y="41" width="1" height="4" fill="#000000"/>
<rect x="477" y="57" width="1" height="4" fill="#000000"/>
<rect x="478" y="51" width="1" height="3" fill="#dfff20"/>
<rect x="478" y="48" width="1" height="3" fill="#efff10"/>
<rect x="478" y="39" width="1" height="1" fill="#ffdf00"/>
<rect x="478" y="40" width="1" height="2" fill="#000000"/>
<rect x="478" y="37" width="1" height="2" fill="#000000"/>
<rect x="478" y="58" width="1" height="2" fill="#bfff40"/>
<rect x="478" y="54" width="1" height="4" fill="#cfff30"/>
<rect x="478" y="133" width="1" height="21" fill="#8fff70"/>
<rect x="478" y="62" width="1" height="3" fill="#bfff40"/>
<rect x="478" y="45" width="1" height="3" fill="#ffff00"/>
<rect x="478" y="60" width="1" height="2" fill="#000000"/>
<rect x="478" y="65" width="1" height="45" fill="#afff50"/>
<rect x="478" y="42" width="2" height="2" fill="#ffef00"/>
<rect x="478" y="110" width="2" height="23" fill="#9fff60"/>
<rect x="478" y="44" width="2" height="1" fill="#000000"/>
<rect x="479" y="37" width="1" height="1" fill="#ffff00"/>
<rect x="479" y="57" width="1" height="2" fill="#cfff30"/>
<rect x="479" y="59" width="1" height="3" fill="#000000"/>
<rect x="479" y="40" width="1" height="1" fill="#ffff00"/>
<rect x="479" y="62" width="1" height="4" fill="#bfff40"/>
<rect x="479" y="38" width="1" height="2" fill="#000000"/>
<rect x="479" y="45" width="1" height="2" fill="#ffef00"/>
<rect x="479" y="47" width="1" height="3" fill="#ffff00"/>
<rect x="479" y="133" width="1" height="23" fill="#8fff70"/>
<rect x="479" y="53" width="1" height="4" fill="#dfff20"/>
<rect x="479" y="50" width="1" height="3" fill="#efff10"/>
<rect x="479" y="41" width="1" height="1" fill="#000000"/>
<rect x="479" y="66" width="1" height="44" fill="#afff50"/>
<rect x="480" y="48" width="1" height="2" fill="#efff10"/>
<rect x="480" y="58" width="1" height="2" fill="#000000"/>
<rect x="480" y="61" width="1" height="42" fill="#afff50"/>
<rect x="480" y="37" width="1" height="3" fill="#efff10"/>
<rect x="480" y="54" width="1" height="4" fill="#cfff30"/>
<rect x="480" y="60" width="1" height="1" fill="#bfff40"/>
<rect x="480" y="50" width="1" height="4" fill="#dfff20"/>
<rect x="480" y="103" width="1" height="24" fill="#9fff60"/>
<rect x="480" y="127" width="1" height="24" fill="#8fff70"/>
<rect x="480" y="151" width="1" height="5" fill="#80ff80"/>
<rect x="480" y="41" width="1" height="5" fill="#000000"/>
<rect x="480" y="40" width="1" height="1" fill="#dfff20"/>
<rect x="480" y="46" width="2" height="2" fill="#ffff00"/>
<rect x="481" y="59" width="1" height="2" fill="#000000"/>
<rect x="481" y="40" width="1" height="1" fill="#cfff30"/>
<rect x="481" y="61" width="1" height="3" fill="#bfff40"/>
<rect x="481" y="64" width="1" height="40" fill="#afff50"/>
<rect x="481" y="41" width="1" height="1" fill="#dfff20"/>
<rect x="481" y="37" width="1" height="3" fill="#000000"/>
<rect x="481" y="129" width="1" height="25" fill="#8fff70"/>
<rect x="481" y="154" width="1" height="2" fill="#80ff80"/>
<rect x="481" y="55" width="1" height="4" fill="#cfff30"/>
<rect x="481" y="52" width="1" height="3" fill="#dfff20"/>
<rect x="481" y="48" width="1" height="4" fill="#efff10"/>
<rect x="481" y="104" width="1" height="25" fill="#9fff60"/>
<rect x="481" y="43" width="2" height="3" fill="#000000"/>
<rect x="481" y="42" width="2" height="1" fill="#ffff00"/>
<rect x="482" y="53" width="1" height="3" fill="#dfff20"/>
<rect x="482" y="94" width="1" height="30" fill="#9fff60"/>
<rect x="482" y="49" width="1" height="4" fill="#efff10"/>
<rect x="482" y="124" width="1" height="26" fill="#8fff70"/>
<rect x="482" y="56" width="1" height="4" fill="#cfff30"/>
<rect x="482" y="40" width="1" height="2" fill="#efff10"/>
<rect x="482" y="46" width="1" height="3" fill="#ffff00"/>
<rect x="482" y="60" width="1" height="1" fill="#000000"/>
<rect x="482" y="61" width="1" height="2" fill="#bfff40"/>
<rect x="482" y="150" width="1" height="6" fill="#80ff80"/>
<rect x="482" y="63" width="1" height="31" fill="#afff50"/>
<rect x="482" y="37" width="1" height="2" fill="#ffef00"/>
<rect x="482" y="39" width="2" height="1" fill="#000000"/>
<rect x="483" y="38" width="1" height="1" fill="#ffcf00"/>
<rect x="483" y="40" width="1" height="1" fill="#ffef00"/>
<rect x="483" y="122" width="1" height="27" fill="#8fff70"/>
<rect x="483" y="56" width="1" height="3" fill="#cfff30"/>
<rect x="483" y="89" width="1" height="33" fill="#9fff60"/>
<rect x="483" y="52" width="1" height="4" fill="#dfff20"/>
<rect x="483" y="37" width="1" height="1" fill="#ffdf00"/>
<rect x="483" y="43" width="1" height="2" fill="#ffef00"/>
<rect x="483" y="63" width="1" height="26" fill="#afff50"/>
<rect x="483" y="45" width="1" height="3" fill="#000000"/>
<rect x="483" y="48" width="1" height="4" fill="#efff10"/>
<rect x="483" y="59" width="1" height="4" fill="#000000"/>
<rect x="483" y="149" width="1" height="7" fill="#80ff80"/>
<rect x="483" y="41" width="2" height="1" fill="#ffff00"/>
<rect x="483" y="42" width="2" height="1" fill="#000000"/>
<rect x="484" y="39" width="1" height="2" fill="#000000"/>
<rect x="484" y="124" width="1" height="28" fill="#8fff70"/>
<rect x="484" y="46" width="1" height="2" fill="#000000"/>
<rect x="484" y="66" width="1" height="25" fill="#afff50"/>
<rect x="484" y="91" width="1" height="33" fill="#9fff60"/>
<rect x="484" y="43" width="1" height="1" fill="#ffef00"/>
<rect x="484" y="63" width="1" height="3" fill="#bfff40"/>
<rect x="484" y="37" width="1" height="2" fill="#ffdf00"/>
<rect x="484" y="152" width="1" height="4" fill="#80ff80"/>
<rect x="484" y="58" width="1" height="3" fill="#cfff30"/>
<rect x="484" y="62" width="1" height="1" fill="#000000"/>
<rect x="484" y="48" width="1" height="3" fill="#ffff00"/>
<rect x="484" y="55" width="1" height="3" fill="#dfff20"/>
<rect x="484" y="61" width="1" height="1" fill="#bfff40"/>
<rect x="484" y="44" width="1" height="2" fill="#ffdf00"/>
<rect x="484" y="51" width="1" height="4" fill="#efff10"/>
<rect x="485" y="53" width="1" height="3" fill="#dfff20"/>
<rect x="485" y="61" width="1" height="3" fill="#000000"/>
<rect x="485" y="39" width="1" height="1" fill="#ffdf00"/>
<rect x="485" y="56" width="1" height="3" fill="#cfff30"/>
<rect x="485" y="59" width="1" height="2" fill="#bfff40"/>
<rect x="485" y="64" width="1" height="31" fill="#afff50"/>
<rect x="485" y="43" width="1" height="2" fill="#ffef00"/>
<rect x="485" y="95" width="1" height="31" fill="#9fff60"/>
<rect x="485" y="126" width="1" height="30" fill="#8fff70"/>
<rect x="485" y="48" width="1" height="2" fill="#ffff00"/>
<rect x="485" y="50" width="1" height="3" fill="#efff10"/>
<rect x="485" y="37" width="1" height="2" fill="#ffef00"/>
<rect x="485" y="45" width="1" height="3" fill="#000000"/>
<rect x="485" y="40" width="2" height="3" fill="#000000"/>
<rect x="486" y="47" width="1" height="5" fill="#000000"/>
<rect x="486" y="52" width="1" height="3" fill="#efff10"/>
<rect x="486" y="68" width="1" height="25" fill="#afff50"/>
<rect x="486" y="127" width="1" height="23" fill="#8fff70"/>
<rect x="486" y="38" width="1" height="2" fill="#ffdf00"/>
<rect x="486" y="43" width="1" height="4" fill="#ffef00"/>
<rect x="486" y="61" width="1" height="2" fill="#bfff40"/>
<rect x="486" y="63" width="1" height="5" fill="#000000"/>
<rect x="486" y="58" width="1" height="3" fill="#cfff30"/>
<rect x="486" y="93" width="1" height="34" fill="#9fff60"/>
<rect x="486" y="55" width="1" height="3" fill="#dfff20"/>
<rect x="486" y="37" width="1" height="1" fill="#ffef00"/>
<rect x="487" y="44" width="1" height="6" fill="#ffef00"/>
<rect x="487" y="41" width="1" height="3" fill="#ffdf00"/>
<rect x="487" y="124" width="1" height="32" fill="#8fff70"/>
<rect x="487" y="69" width="1" height="18" fill="#afff50"/>
<rect x="487" y="63" width="1" height="2" fill="#cfff30"/>
<rect x="487" y="65" width="1" height="3" fill="#000000"/>
<rect x="487" y="68" width="1" height="1" fill="#bfff40"/>
<rect x="487" y="60" width="1" height="3" fill="#dfff20"/>
<rect x="487" y="50" width="1" height="2" fill="#000000"/>
<rect x="487" y="57" width="1" height="3" fill="#efff10"/>
<rect x="487" y="52" width="1" height="5" fill="#ffff00"/>
<rect x="487" y="87" width="1" height="37" fill="#9fff60"/>
<rect x="487" y="38" width="2" height="1" fill="#ffcf00"/>
<rect x="487" y="39" width="2" height="2" fill="#000000"/>
<rect x="488" y="41" width="1" height="1" fill="#ffdf00"/>
<rect x="488" y="54" width="1" height="2" fill="#efff10"/>
<rect x="488" y="65" width="1" height="1" fill="#bfff40"/>
<rect x="488" y="49" width="1" height="1" fill="#000000"/>
<rect x="488" y="92" width="1" height="36" fill="#9fff60"/>
<rect x="488" y="42" width="1" height="1" fill="#ffcf00"/>
<rect x="488" y="56" width="1" height="3" fill="#dfff20"/>
<rect x="488" y="66" width="1" height="26" fill="#afff50"/>
<rect x="488" y="43" width="1" height="1" fill="#000000"/>
<rect x="488" y="50" width="1" height="4" fill="#ffff00"/>
<rect x="488" y="44" width="1" height="5" fill="#ffef00"/>
<rect x="488" y="128" width="1" height="19" fill="#8fff70"/>
<rect x="487" y="37" width="3" height="1" fill="#ffdf00"/>
<rect x="488" y="59" width="2" height="3" fill="#cfff30"/>
<rect x="488" y="62" width="2" height="2" fill="#bfff40"/>
<rect x="489" y="45" width="1" height="4" fill="#ffef00"/>
<rect x="489" y="67" width="1" height="23" fill="#afff50"/>
<rect x="489" y="38" width="1" height="1" fill="#000000"/>
<rect x="489" y="65" width="1" height="2" fill="#bfff40"/>
<rect x="489" y="41" width="1" height="1" fill="#ffef00"/>
<rect x="489" y="49" width="1" height="2" fill="#000000"/>
<rect x="489" y="39" width="1" height="1" fill="#ffef00"/>
<rect x="489" y="51" width="1" height="3" fill="#ffff00"/>
<rect x="489" y="90" width="1" height="37" fill="#9fff60"/>
<rect x="489" y="127" width="1" height="29" fill="#8fff70"/>
<rect x="489" y="40" width="1" height="1" fill="#000000"/>
<rect x="489" y="54" width="1" height="3" fill="#efff10"/>
<rect x="489" y="57" width="1" height="2" fill="#dfff20"/>
<rect x="489" y="42" width="2" height="3" fill="#000000"/>
<rect x="490" y="52" width="1" height="3" fill="#ffff00"/>
<rect x="490" y="55" width="1" height="2" fill="#efff10"/>
<rect x="490" y="66" width="1" height="18" fill="#afff50"/>
<rect x="490" y="65" width="1" height="1" fill="#bfff40"/>
<rect x="490" y="40" width="1" height="2" fill="#ffdf00"/>
<rect x="490" y="37" width="1" height="3" fill="#000000"/>
<rect x="490" y="123" width="1" height="33" fill="#8fff70"/>
<rect x="490" y="50" width="1" height="2" fill="#000000"/>
<rect x="490" y="45" width="1" height="5" fill="#ffef00"/>
<rect x="490" y="84" width="1" height="39" fill="#9fff60"/>
<rect x="488" y="64" width="4" height="1" fill="#000000"/>
<rect x="490" y="60" width="2" height="3" fill="#cfff30"/>
<rect x="490" y="63" width="2" height="1" fill="#bfff40"/>
<rect x="490" y="57" width="2" height="3" fill="#dfff20"/>
<rect x="491" y="44" width="1" height="7" fill="#ffef00"/>
<rect x="491" y="38" width="1" height="1" fill="#000000"/>
<rect x="491" y="53" width="1" height="1" fill="#ffff00"/>
<rect x="491" y="65" width="1" height="3" fill="#bfff40"/>
<rect x="491" y="68" width="1" height="20" fill="#afff50"/>
<rect x="491" y="88" width="1" height="41" fill="#9fff60"/>
<rect x="491" y="129" width="1" height="27" fill="#8fff70"/>
<rect x="491" y="51" width="1" height="2" fill="#000000"/>
<rect x="491" y="39" width="1" height="2" fill="#ffcf00"/>
<rect x="491" y="43" width="1" height="1" fill="#000000"/>
<rect x="491" y="37" width="2" height="1" fill="#ffcf00"/>
<rect x="491" y="54" width="2" height="3" fill="#efff10"/>
<rect x="491" y="41" width="2" height="2" fill="#ffdf00"/>
<rect x="492" y="49" width="1" height="3" fill="#000000"/>
<rect x="492" y="66" width="1" height="12" fill="#afff50"/>
<rect x="492" y="46" width="1" height="3" fill="#ffef00"/>
<rect x="492" y="64" width="1" height="2" fill="#bfff40"/>
<rect x="492" y="43" width="1" height="1" fill="#ffef00"/>
<rect x="492" y="59" width="1" height="3" fill="#cfff30"/>
<rect x="492" y="40" width="1" height="1" fill="#ffcf00"/>
<rect x="492" y="52" width="1" height="2" fill="#ffff00"/>
<rect x="492" y="120" width="1" height="36" fill="#8fff70"/>
<rect x="492" y="62" width="1" height="1" fill="#bfff40"/>
<rect x="492" y="78" width="1" height="42" fill="#9fff60"/>
<rect x="492" y="63" width="1" height="1" fill="#000000"/>
<rect x="492" y="57" width="1" height="2" fill="#dfff20"/>
<rect x="492" y="38" width="1" height="2" fill="#ffbf00"/>
<rect x="492" y="44" width="1" height="2" fill="#ffdf00"/>
<rect x="493" y="42" width="1" height="2" fill="#ffdf00"/>
<rect x="493" y="44" width="1" height="1" fill="#ffef00"/>
<rect x="493" y="45" width="1" height="1" fill="#000000"/>
<rect x="493" y="52" width="1" height="3" fill="#efff10"/>
<rect x="493" y="51" width="1" height="1" fill="#ffff00"/>
<rect x="493" y="37" width="1" height="5" fill="#ffcf00"/>
<rect x="493" y="46" width="1" height="2" fill="#ffef00"/>
<rect x="493" y="58" width="1" height="3" fill="#cfff30"/>
<rect x="493" y="62" width="1" height="1" fill="#000000"/>
<rect x="493" y="77" width="1" height="44" fill="#9fff60"/>
<rect x="493" y="63" width="1" height="2" fill="#bfff40"/>
<rect x="493" y="55" width="1" height="3" fill="#dfff20"/>
<rect x="493" y="61" width="1" height="1" fill="#bfff40"/>
<rect x="493" y="121" width="1" height="35" fill="#8fff70"/>
<rect x="493" y="48" width="2" height="3" fill="#000000"/>
<rect x="493" y="65" width="2" height="12" fill="#afff50"/>
<rect x="494" y="47" width="1" height="1" fill="#ffef00"/>
<rect x="494" y="38" width="1" height="2" fill="#ffcf00"/>
<rect x="494" y="43" width="1" height="1" fill="#ffdf00"/>
<rect x="494" y="57" width="1" height="3" fill="#cfff30"/>
<rect x="494" y="54" width="1" height="3" fill="#dfff20"/>
<rect x="494" y="61" width="1" height="4" fill="#000000"/>
<rect x="494" y="77" width="1" height="50" fill="#9fff60"/>
<rect x="494" y="44" width="1" height="3" fill="#000000"/>
<rect x="494" y="60" width="1" height="1" fill="#bfff40"/>
<rect x="494" y="127" width="1" height="29" fill="#8fff70"/>
<rect x="494" y="37" width="1" height="1" fill="#ffbf00"/>
<rect x="494" y="51" width="1" height="3" fill="#efff10"/>
<rect x="494" y="40" width="1" height="1" fill="#ffbf00"/>
<rect x="494" y="41" width="2" height="2" fill="#ffcf00"/>
<rect x="495" y="56" width="1" height="3" fill="#dfff20"/>
<rect x="495" y="70" width="1" height="7" fill="#afff50"/>
<rect x="495" y="43" width="1" height="2" fill="#ffdf00"/>
<rect x="495" y="45" width="1" height="1" fill="#000000"/>
<rect x="495" y="46" width="1" height="1" fill="#ffdf00"/>
<rect x="495" y="49" width="1" height="7" fill="#000000"/>
<rect x="495" y="126" width="1" height="30" fill="#8fff70"/>
<rect x="495" y="62" width="1" height="2" fill="#bfff40"/>
<rect x="495" y="40" width="1" height="1" fill="#ffdf00"/>
<rect x="495" y="64" width="1" height="6" fill="#000000"/>
<rect x="495" y="47" width="1" height="2" fill="#ffef00"/>
<rect x="495" y="77" width="1" height="49" fill="#9fff60"/>
<rect x="495" y="39" width="1" height="1" fill="#ffcf00"/>
<rect x="495" y="37" width="1" height="2" fill="#ffbf00"/>
<rect x="495" y="59" width="1" height="3" fill="#cfff30"/>
<rect x="496" y="73" width="1" height="10" fill="#afff50"/>
<rect x="496" y="83" width="1" height="56" fill="#9fff60"/>
<rect x="496" y="44" width="1" height="1" fill="#ffcf00"/>
<rect x="496" y="51" width="1" height="6" fill="#000000"/>
<rect x="496" y="62" width="1" height="3" fill="#dfff20"/>
<rect x="496" y="40" width="1" height="3" fill="#ffcf00"/>
<rect x="496" y="38" width="1" height="1" fill="#000000"/>
<rect x="496" y="43" width="1" height="1" fill="#ffbf00"/>
<rect x="496" y="139" width="1" height="17" fill="#8fff70"/>
<rect x="496" y="37" width="1" height="1" fill="#ffbf00"/>
<rect x="496" y="58" width="1" height="4" fill="#efff10"/>
<rect x="496" y="47" width="1" height="4" fill="#ffdf00"/>
<rect x="496" y="39" width="1" height="1" fill="#ffbf00"/>
<rect x="496" y="70" width="1" height="3" fill="#bfff40"/>
<rect x="496" y="68" width="1" height="2" fill="#000000"/>
<rect x="496" y="46" width="1" height="1" fill="#ffcf00"/>
<rect x="496" y="57" width="1" height="1" fill="#ffff00"/>
<rect x="496" y="45" width="1" height="1" fill="#ffbf00"/>
<rect x="496" y="65" width="1" height="3" fill="#cfff30"/>
<rect x="497" y="70" width="1" height="8" fill="#afff50"/>
<rect x="497" y="63" width="1" height="3" fill="#cfff30"/>
<rect x="497" y="66" width="1" height="2" fill="#000000"/>
<rect x="497" y="49" width="1" height="1" fill="#ffef00"/>
<rect x="497" y="40" width="1" height="6" fill="#ffcf00"/>
<rect x="497" y="50" width="1" height="6" fill="#000000"/>
<rect x="497" y="60" width="1" height="3" fill="#dfff20"/>
<rect x="497" y="56" width="1" height="4" fill="#efff10"/>
<rect x="497" y="46" width="1" height="3" fill="#ffdf00"/>
<rect x="497" y="118" width="1" height="38" fill="#8fff70"/>
<rect x="497" y="78" width="1" height="40" fill="#9fff60"/>
<rect x="497" y="68" width="1" height="2" fill="#bfff40"/>
<rect x="497" y="37" width="2" height="3" fill="#000000"/>
<rect x="498" y="54" width="1" height="2" fill="#efff10"/>
<rect x="498" y="49" width="1" height="5" fill="#000000"/>
<rect x="498" y="63" width="1" height="2" fill="#bfff40"/>
<rect x="498" y="40" width="1" height="2" fill="#ffbf00"/>
<rect x="498" y="79" width="1" height="61" fill="#9fff60"/>
<rect x="498" y="65" width="1" height="2" fill="#000000"/>
<rect x="498" y="68" width="1" height="11" fill="#afff50"/>
<rect x="498" y="140" width="1" height="10" fill="#8fff70"/>
<rect x="498" y="44" width="1" height="3" fill="#ffdf00"/>
<rect x="498" y="47" width="1" height="2" fill="#ffef00"/>
<rect x="498" y="60" width="1" height="3" fill="#cfff30"/>
<rect x="498" y="42" width="1" height="2" fill="#ffcf00"/>
<rect x="498" y="56" width="1" height="4" fill="#dfff20"/>
<rect x="498" y="67" width="1" height="1" fill="#bfff40"/>
<rect x="499" y="59" width="1" height="3" fill="#dfff20"/>
<rect x="499" y="62" width="1" height="3" fill="#cfff30"/>
<rect x="499" y="65" width="1" height="1" fill="#bfff40"/>
<rect x="499" y="50" width="1" height="4" fill="#000000"/>
<rect x="499" y="37" width="1" height="1" fill="#ff9f00"/>
<rect x="499" y="46" width="1" height="2" fill="#ffdf00"/>
<rect x="499" y="43" width="1" height="1" fill="#ffbf00"/>
<rect x="499" y="38" width="1" height="4" fill="#000000"/>
<rect x="499" y="44" width="1" height="2" fill="#ffcf00"/>
<rect x="499" y="48" width="1" height="2" fill="#ffef00"/>
<rect x="499" y="56" width="1" height="3" fill="#efff10"/>
<rect x="499" y="127" width="1" height="29" fill="#8fff70"/>
<rect x="499" y="42" width="1" height="1" fill="#ffcf00"/>
<rect x="499" y="78" width="1" height="49" fill="#9fff60"/>
<rect x="499" y="54" width="1" height="2" fill="#ffff00"/>
<rect x="499" y="69" width="2" height="9" fill="#afff50"/>
<rect x="499" y="67" width="2" height="2" fill="#bfff40"/>
<rect x="500" y="78" width="1" height="56" fill="#9fff60"/>
<rect x="500" y="37" width="1" height="1" fill="#000000"/>
<rect x="500" y="58" width="1" height="3" fill="#dfff20"/>
<rect x="500" y="43" width="1" height="3" fill="#ffcf00"/>
<rect x="500" y="46" width="1" height="1" fill="#ffdf00"/>
<rect x="500" y="61" width="1" height="3" fill="#cfff30"/>
<rect x="500" y="134" width="1" height="22" fill="#8fff70"/>
<rect x="500" y="39" width="1" height="4" fill="#000000"/>
<rect x="500" y="38" width="1" height="1" fill="#ff8f00"/>
<rect x="500" y="64" width="1" height="2" fill="#bfff40"/>
<rect x="500" y="47" width="1" height="3" fill="#ffef00"/>
<rect x="499" y="66" width="3" height="1" fill="#000000"/>
<rect x="500" y="53" width="2" height="1" fill="#ffff00"/>
<rect x="500" y="50" width="2" height="3" fill="#000000"/>
<rect x="500" y="54" width="2" height="4" fill="#efff10"/>
<rect x="501" y="40" width="1" height="1" fill="#ff8f00"/>
<rect x="501" y="62" width="1" height="3" fill="#cfff30"/>
<rect x="501" y="65" width="1" height="1" fill="#bfff40"/>
<rect x="501" y="76" width="1" height="47" fill="#9fff60"/>
<rect x="501" y="37" width="1" height="1" fill="#ff9f00"/>
<rect x="501" y="58" width="1" height="4" fill="#dfff20"/>
<rect x="501" y="123" width="1" height="33" fill="#8fff70"/>
<rect x="501" y="48" width="1" height="2" fill="#ffef00"/>
<rect x="501" y="68" width="1" height="8" fill="#afff50"/>
<rect x="501" y="41" width="1" height="2" fill="#000000"/>
<rect x="501" y="67" width="1" height="1" fill="#bfff40"/>
<rect x="501" y="45" width="1" height="3" fill="#ffdf00"/>
<rect x="502" y="49" width="1" height="3" fill="#000000"/>
<rect x="502" y="45" width="1" height="1" fill="#ffcf00"/>
<rect x="502" y="52" width="1" height="5" fill="#efff10"/>
<rect x="502" y="57" width="1" height="4" fill="#dfff20"/>
<rect x="502" y="141" width="1" height="15" fill="#8fff70"/>
<rect x="502" y="40" width="1" height="3" fill="#000000"/>
<rect x="502" y="46" width="1" height="1" fill="#ffdf00"/>
<rect x="502" y="61" width="1" height="2" fill="#cfff30"/>
<rect x="502" y="68" width="1" height="10" fill="#afff50"/>
<rect x="502" y="78" width="1" height="63" fill="#9fff60"/>
<rect x="502" y="47" width="1" height="2" fill="#ffef00"/>
<rect x="502" y="63" width="1" height="2" fill="#bfff40"/>
<rect x="502" y="37" width="1" height="1" fill="#ff8f00"/>
<rect x="501" y="38" width="3" height="2" fill="#ff8000"/>
<rect x="501" y="43" width="3" height="2" fill="#ffbf00"/>
<rect x="502" y="65" width="2" height="3" fill="#000000"/>
<rect x="503" y="70" width="1" height="12" fill="#afff50"/>
<rect x="503" y="82" width="1" height="67" fill="#9fff60"/>
<rect x="503" y="49" width="1" height="4" fill="#000000"/>
<rect x="503" y="53" width="1" height="1" fill="#ffff00"/>
<rect x="503" y="40" width="1" height="2" fill="#000000"/>
<rect x="503" y="37" width="1" height="1" fill="#ff7000"/>
<rect x="503" y="47" width="1" height="2" fill="#ffdf00"/>
<rect x="503" y="59" width="1" height="4" fill="#dfff20"/>
<rect x="503" y="63" width="1" height="2" fill="#cfff30"/>
<rect x="503" y="149" width="1" height="7" fill="#8fff70"/>
<rect x="503" y="54" width="1" height="5" fill="#efff10"/>
<rect x="503" y="45" width="1" height="2" fill="#ffcf00"/>
<rect x="503" y="42" width="1" height="1" fill="#ffcf00"/>
<rect x="503" y="68" width="1" height="2" fill="#bfff40"/>
<rect x="504" y="47" width="1" height="1" fill="#ffef00"/>
<rect x="504" y="52" width="1" height="4" fill="#efff10"/>
<rect x="504" y="61" width="1" height="2" fill="#cfff30"/>
<rect x="504" y="65" width="1" height="3" fill="#bfff40"/>
<rect x="504" y="43" width="1" height="1" fill="#ffbf00"/>
<rect x="504" y="56" width="1" height="5" fill="#dfff20"/>
<rect x="504" y="68" width="1" height="11" fill="#afff50"/>
<rect x="504" y="64" width="1" height="1" fill="#000000"/>
<rect x="504" y="39" width="1" height="3" fill="#000000"/>
<rect x="504" y="48" width="1" height="4" fill="#000000"/>
<rect x="504" y="63" width="1" height="1" fill="#bfff40"/>
<rect x="504" y="79" width="1" height="67" fill="#9fff60"/>
<rect x="504" y="42" width="1" height="1" fill="#ffdf00"/>
<rect x="504" y="37" width="2" height="1" fill="#000000"/>
<rect x="504" y="44" width="2" height="1" fill="#ffcf00"/>
<rect x="504" y="38" width="2" height="1" fill="#ff8000"/>
<rect x="504" y="146" width="2" height="10" fill="#8fff70"/>
<rect x="504" y="45" width="2" height="2" fill="#ffdf00"/>
<rect x="505" y="67" width="1" height="11" fill="#afff50"/>
<rect x="505" y="60" width="1" height="2" fill="#cfff30"/>
<rect x="505" y="62" width="1" height="2" fill="#000000"/>
<rect x="505" y="40" width="1" height="4" fill="#000000"/>
<rect x="505" y="47" width="1" height="3" fill="#000000"/>
<rect x="505" y="78" width="1" height="68" fill="#9fff60"/>
<rect x="505" y="39" width="1" height="1" fill="#ff8f00"/>
<rect x="505" y="50" width="1" height="3" fill="#efff10"/>
<rect x="505" y="64" width="1" height="3" fill="#bfff40"/>
<rect x="505" y="53" width="1" height="7" fill="#dfff20"/>
<rect x="506" y="128" width="1" height="28" fill="#8fff70"/>
<rect x="506" y="72" width="1" height="56" fill="#9fff60"/>
<rect x="506" y="44" width="1" height="2" fill="#ffef00"/>
<rect x="506" y="64" width="1" height="8" fill="#afff50"/>
<rect x="506" y="49" width="1" height="1" fill="#efff10"/>
<rect x="506" y="61" width="1" height="2" fill="#000000"/>
<rect x="506" y="37" width="1" height="7" fill="#000000"/>
<rect x="506" y="46" width="1" height="3" fill="#000000"/>
<rect x="506" y="63" width="1" height="1" fill="#bfff40"/>
<rect x="506" y="50" width="1" height="7" fill="#dfff20"/>
<rect x="506" y="57" width="2" height="4" fill="#cfff30"/>
<rect x="507" y="41" width="1" height="1" fill="#ff8000"/>
<rect x="507" y="75" width="1" height="61" fill="#9fff60"/>
<rect x="507" y="65" width="1" height="10" fill="#afff50"/>
<rect x="507" y="61" width="1" height="1" fill="#bfff40"/>
<rect x="507" y="62" width="1" height="3" fill="#000000"/>
<rect x="507" y="37" width="1" height="4" fill="#000000"/>
<rect x="507" y="49" width="1" height="2" fill="#efff10"/>
<rect x="507" y="136" width="1" height="20" fill="#8fff70"/>
<rect x="507" y="44" width="1" height="3" fill="#ffef00"/>
<rect x="507" y="42" width="1" height="2" fill="#000000"/>
<rect x="507" y="51" width="1" height="6" fill="#dfff20"/>
<rect x="507" y="47" width="2" height="2" fill="#000000"/>
<rect x="508" y="49" width="1" height="3" fill="#efff10"/>
<rect x="508" y="39" width="1" height="1" fill="#ff4000"/>
<rect x="508" y="67" width="1" height="11" fill="#afff50"/>
<rect x="508" y="142" width="1" height="14" fill="#8fff70"/>
<rect x="508" y="37" width="1" height="2" fill="#000000"/>
<rect x="508" y="40" width="1" height="4" fill="#000000"/>
<rect x="508" y="46" width="1" height="1" fill="#ffef00"/>
<rect x="508" y="59" width="1" height="4" fill="#cfff30"/>
<rect x="508" y="66" width="1" height="1" fill="#bfff40"/>
<rect x="508" y="63" width="1" height="1" fill="#bfff40"/>
<rect x="508" y="78" width="1" height="64" fill="#9fff60"/>
<rect x="508" y="64" width="1" height="2" fill="#000000"/>
<rect x="508" y="44" width="1" height="2" fill="#ffdf00"/>
<rect x="508" y="52" width="2" height="7" fill="#dfff20"/>
<rect x="509" y="47" width="1" height="1" fill="#ffef00"/>
<rect x="509" y="59" width="1" height="5" fill="#cfff30"/>
<rect x="509" y="80" width="1" height="61" fill="#9fff60"/>
<rect x="509" y="65" width="1" height="2" fill="#000000"/>
<rect x="509" y="37" width="1" height="3" fill="#000000"/>
<rect x="509" y="68" width="1" height="12" fill="#afff50"/>
<rect x="509" y="141" width="1" height="6" fill="#8fff70"/>
<rect x="509" y="40" width="1" height="1" fill="#ff4000"/>
<rect x="509" y="50" width="1" height="2" fill="#efff10"/>
<rect x="509" y="41" width="1" height="4" fill="#000000"/>
<rect x="509" y="64" width="1" height="1" fill="#bfff40"/>
<rect x="509" y="67" width="1" height="1" fill="#bfff40"/>
<rect x="509" y="48" width="1" height="2" fill="#000000"/>
<rect x="509" y="45" width="2" height="2" fill="#ffdf00"/>
<rect x="510" y="49" width="1" height="4" fill="#efff10"/>
<rect x="510" y="47" width="1" height="2" fill="#000000"/>
<rect x="510" y="88" width="1" height="68" fill="#9fff60"/>
<rect x="510" y="37" width="1" height="8" fill="#000000"/>
<rect x="510" y="53" width="1" height="8" fill="#dfff20"/>
<rect x="510" y="66" width="1" height="1" fill="#000000"/>
<rect x="510" y="71" width="1" height="17" fill="#afff50"/>
<rect x="510" y="67" width="1" height="4" fill="#bfff40"/>
<rect x="510" y="61" width="1" height="3" fill="#cfff30"/>
<rect x="510" y="64" width="1" height="2" fill="#bfff40"/>
<rect x="511" y="49" width="1" height="1" fill="#efff10"/>
<rect x="511" y="65" width="1" height="4" fill="#000000"/>
<rect x="511" y="50" width="1" height="9" fill="#dfff20"/>
<rect x="511" y="59" width="1" height="4" fill="#cfff30"/>
<rect x="511" y="69" width="1" height="15" fill="#afff50"/>
<rect x="511" y="37" width="1" height="7" fill="#000000"/>
<rect x="511" y="46" width="1" height="3" fill="#000000"/>
<rect x="511" y="84" width="1" height="67" fill="#9fff60"/>
<rect x="511" y="63" width="1" height="2" fill="#bfff40"/>
<rect x="511" y="44" width="1" height="2" fill="#ffdf00"/>
<rect x="512" y="68" width="1" height="2" fill="#000000"/>
<rect x="512" y="50" width="1" height="1" fill="#ffff00"/>
<rect x="512" y="70" width="1" height="2" fill="#bfff40"/>
<rect x="512" y="41" width="1" height="1" fill="#ff2000"/>
<rect x="512" y="66" width="1" height="2" fill="#bfff40"/>
<rect x="512" y="37" width="1" height="4" fill="#000000"/>
<rect x="512" y="87" width="1" height="69" fill="#9fff60"/>
<rect x="512" y="47" width="1" height="3" fill="#000000"/>
<rect x="512" y="72" width="1" height="15" fill="#afff50"/>
<rect x="512" y="62" width="1" height="4" fill="#cfff30"/>
<rect x="512" y="51" width="1" height="2" fill="#efff10"/>
<rect x="512" y="42" width="1" height="3" fill="#000000"/>
<rect x="512" y="45" width="1" height="2" fill="#ffdf00"/>
<rect x="512" y="53" width="2" height="9" fill="#dfff20"/>
<rect x="513" y="45" width="1" height="3" fill="#ffdf00"/>
<rect x="513" y="89" width="1" height="67" fill="#9fff60"/>
<rect x="513" y="73" width="1" height="16" fill="#afff50"/>
<rect x="513" y="70" width="1" height="3" fill="#bfff40"/>
<rect x="513" y="50" width="1" height="3" fill="#efff10"/>
<rect x="513" y="67" width="1" height="2" fill="#bfff40"/>
<rect x="513" y="62" width="1" height="5" fill="#cfff30"/>
<rect x="513" y="69" width="2" height="1" fill="#000000"/>
<rect x="513" y="37" width="2" height="8" fill="#000000"/>
<rect x="513" y="48" width="2" height="2" fill="#000000"/>
<rect x="514" y="47" width="1" height="1" fill="#ffef00"/>
<rect x="514" y="66" width="1" height="3" fill="#bfff40"/>
<rect x="514" y="50" width="1" height="2" fill="#efff10"/>
<rect x="514" y="84" width="1" height="71" fill="#9fff60"/>
<rect x="514" y="52" width="1" height="8" fill="#dfff20"/>
<rect x="514" y="155" width="1" height="1" fill="#8fff70"/>
<rect x="514" y="45" width="1" height="2" fill="#ffdf00"/>
<rect x="514" y="60" width="2" height="6" fill="#cfff30"/>
<rect x="514" y="71" width="2" height="13" fill="#afff50"/>
<rect x="514" y="70" width="2" height="1" fill="#bfff40"/>
<rect x="515" y="68" width="1" height="2" fill="#000000"/>
<rect x="515" y="42" width="1" height="1" fill="#ff8000"/>
<rect x="515" y="66" width="1" height="2" fill="#bfff40"/>
<rect x="515" y="37" width="1" height="5" fill="#000000"/>
<rect x="515" y="84" width="1" height="72" fill="#9fff60"/>
<rect x="515" y="51" width="2" height="9" fill="#dfff20"/>
<rect x="515" y="47" width="2" height="2" fill="#000000"/>
<rect x="515" y="45" width="2" height="1" fill="#ffdf00"/>
<rect x="515" y="49" width="2" height="2" fill="#efff10"/>
<rect x="515" y="46" width="2" height="1" fill="#ffef00"/>
<rect x="515" y="43" width="2" height="2" fill="#000000"/>
<rect x="516" y="71" width="1" height="1" fill="#bfff40"/>
<rect x="516" y="85" width="1" height="71" fill="#9fff60"/>
<rect x="516" y="69" width="1" height="2" fill="#000000"/>
<rect x="516" y="38" width="1" height="4" fill="#000000"/>
<rect x="516" y="60" width="1" height="7" fill="#cfff30"/>
<rect x="516" y="72" width="1" height="13" fill="#afff50"/>
<rect x="516" y="42" width="1" height="1" fill="#ff7000"/>
<rect x="516" y="67" width="1" height="2" fill="#bfff40"/>
<rect x="516" y="37" width="2" height="1" fill="#df0000"/>
<rect x="517" y="71" width="1" height="4" fill="#bfff40"/>
<rect x="517" y="47" width="1" height="1" fill="#ffef00"/>
<rect x="517" y="38" width="1" height="1" fill="#ff0000"/>
<rect x="517" y="69" width="1" height="1" fill="#bfff40"/>
<rect x="517" y="91" width="1" height="65" fill="#9fff60"/>
<rect x="517" y="64" width="1" height="5" fill="#cfff30"/>
<rect x="517" y="75" width="1" height="16" fill="#afff50"/>
<rect x="517" y="50" width="1" height="3" fill="#efff10"/>
<rect x="517" y="53" width="1" height="11" fill="#dfff20"/>
<rect x="517" y="70" width="1" height="1" fill="#000000"/>
<rect x="517" y="45" width="1" height="2" fill="#ffdf00"/>
<rect x="517" y="39" width="1" height="6" fill="#000000"/>
<rect x="517" y="48" width="1" height="2" fill="#000000"/>
<rect x="518" y="67" width="1" height="2" fill="#bfff40"/>
<rect x="518" y="69" width="1" height="9" fill="#000000"/>
<rect x="518" y="53" width="1" height="10" fill="#dfff20"/>
<rect x="518" y="63" width="1" height="4" fill="#cfff30"/>
<rect x="518" y="89" width="1" height="67" fill="#9fff60"/>
<rect x="518" y="78" width="1" height="11" fill="#afff50"/>
<rect x="518" y="37" width="1" height="1" fill="#ef0000"/>
<rect x="518" y="38" width="1" height="15" fill="#000000"/>
<rect x="519" y="82" width="1" height="16" fill="#afff50"/>
<rect x="519" y="55" width="1" height="2" fill="#efff10"/>
<rect x="519" y="37" width="1" height="17" fill="#000000"/>
<rect x="519" y="54" width="1" height="1" fill="#ffff00"/>
<rect x="519" y="70" width="1" height="5" fill="#cfff30"/>
<rect x="519" y="98" width="1" height="58" fill="#9fff60"/>
<rect x="519" y="75" width="1" height="2" fill="#bfff40"/>
<rect x="519" y="80" width="1" height="2" fill="#bfff40"/>
<rect x="519" y="77" width="1" height="3" fill="#000000"/>
<rect x="519" y="57" width="1" height="13" fill="#dfff20"/>
<rect x="520" y="48" width="1" height="3" fill="#ffdf00"/>
<rect x="520" y="43" width="1" height="4" fill="#000000"/>
<rect x="520" y="58" width="1" height="13" fill="#dfff20"/>
<rect x="520" y="41" width="1" height="1" fill="#ff2000"/>
<rect x="520" y="47" width="1" height="1" fill="#ffcf00"/>
<rect x="520" y="71" width="1" height="4" fill="#cfff30"/>
<rect x="520" y="42" width="1" height="1" fill="#ff3000"/>
<rect x="520" y="75" width="1" height="1" fill="#bfff40"/>
<rect x="520" y="83" width="1" height="19" fill="#afff50"/>
<rect x="520" y="54" width="1" height="4" fill="#efff10"/>
<rect x="520" y="76" width="1" height="4" fill="#000000"/>
<rect x="520" y="102" width="1" height="54" fill="#9fff60"/>
<rect x="520" y="80" width="1" height="3" fill="#bfff40"/>
<rect x="520" y="51" width="1" height="3" fill="#000000"/>
<rect x="520" y="37" width="1" height="1" fill="#ef0000"/>
<rect x="520" y="38" width="2" height="3" fill="#000000"/>
<rect x="521" y="37" width="1" height="1" fill="#ff0000"/>
<rect x="521" y="91" width="1" height="65" fill="#9fff60"/>
<rect x="521" y="54" width="1" height="10" fill="#dfff20"/>
<rect x="521" y="72" width="1" height="3" fill="#bfff40"/>
<rect x="521" y="46" width="1" height="2" fill="#ffdf00"/>
<rect x="521" y="48" width="1" height="2" fill="#ffef00"/>
<rect x="521" y="79" width="1" height="12" fill="#afff50"/>
<rect x="521" y="64" width="1" height="8" fill="#cfff30"/>
<rect x="521" y="53" width="1" height="1" fill="#efff10"/>
<rect x="521" y="75" width="1" height="4" fill="#000000"/>
<rect x="521" y="42" width="1" height="4" fill="#000000"/>
<rect x="521" y="41" width="2" height="1" fill="#ff4000"/>
<rect x="521" y="50" width="2" height="3" fill="#000000"/>
<rect x="522" y="39" width="1" height="2" fill="#000000"/>
<rect x="522" y="38" width="1" height="1" fill="#ff0000"/>
<rect x="522" y="74" width="1" height="4" fill="#bfff40"/>
<rect x="522" y="95" width="1" height="61" fill="#9fff60"/>
<rect x="522" y="82" width="1" height="13" fill="#afff50"/>
<rect x="522" y="44" width="1" height="1" fill="#ff8f00"/>
<rect x="522" y="67" width="1" height="7" fill="#cfff30"/>
<rect x="522" y="55" width="1" height="12" fill="#dfff20"/>
<rect x="522" y="53" width="1" height="2" fill="#efff10"/>
<rect x="522" y="47" width="1" height="3" fill="#ffdf00"/>
<rect x="522" y="42" width="1" height="2" fill="#000000"/>
<rect x="522" y="37" width="1" height="1" fill="#ef0000"/>
<rect x="522" y="45" width="1" height="2" fill="#000000"/>
<rect x="522" y="78" width="2" height="1" fill="#000000"/>
<rect x="522" y="79" width="2" height="3" fill="#bfff40"/>
<rect x="523" y="49" width="1" height="3" fill="#000000"/>
<rect x="523" y="54" width="1" height="14" fill="#dfff20"/>
<rect x="523" y="75" width="1" height="3" fill="#bfff40"/>
<rect x="523" y="37" width="1" height="2" fill="#000000"/>
<rect x="523" y="39" width="1" height="1" fill="#ef0000"/>
<rect x="523" y="46" width="1" height="2" fill="#ffdf00"/>
<rect x="523" y="40" width="1" height="6" fill="#000000"/>
<rect x="523" y="68" width="1" height="7" fill="#cfff30"/>
<rect x="523" y="48" width="1" height="1" fill="#ffef00"/>
<rect x="523" y="96" width="1" height="54" fill="#9fff60"/>
<rect x="523" y="82" width="1" height="14" fill="#afff50"/>
<rect x="523" y="52" width="1" height="2" fill="#efff10"/>
<rect x="524" y="74" width="1" height="3" fill="#bfff40"/>
<rect x="524" y="37" width="1" height="8" fill="#000000"/>
<rect x="524" y="92" width="1" height="64" fill="#9fff60"/>
<rect x="524" y="47" width="1" height="4" fill="#000000"/>
<rect x="524" y="78" width="1" height="3" fill="#bfff40"/>
<rect x="524" y="81" width="1" height="11" fill="#afff50"/>
<rect x="524" y="64" width="1" height="10" fill="#cfff30"/>
<rect x="524" y="53" width="1" height="11" fill="#dfff20"/>
<rect x="524" y="51" width="1" height="2" fill="#efff10"/>
<rect x="524" y="77" width="1" height="1" fill="#000000"/>
<rect x="524" y="45" width="1" height="2" fill="#ffdf00"/>
<rect x="525" y="92" width="1" height="55" fill="#9fff60"/>
<rect x="525" y="76" width="1" height="6" fill="#000000"/>
<rect x="525" y="46" width="1" height="4" fill="#000000"/>
<rect x="525" y="73" width="1" height="3" fill="#bfff40"/>
<rect x="525" y="45" width="1" height="1" fill="#ffef00"/>
<rect x="525" y="37" width="1" height="7" fill="#000000"/>
<rect x="525" y="50" width="1" height="12" fill="#dfff20"/>
<rect x="525" y="44" width="1" height="1" fill="#ffdf00"/>
<rect x="525" y="62" width="1" height="11" fill="#cfff30"/>
<rect x="525" y="82" width="1" height="10" fill="#afff50"/>
<rect x="526" y="78" width="1" height="2" fill="#bfff40"/>
<rect x="526" y="37" width="1" height="8" fill="#000000"/>
<rect x="526" y="85" width="1" height="39" fill="#afff50"/>
<rect x="526" y="50" width="1" height="5" fill="#efff10"/>
<rect x="526" y="70" width="1" height="8" fill="#cfff30"/>
<rect x="526" y="47" width="1" height="3" fill="#000000"/>
<rect x="526" y="124" width="1" height="32" fill="#9fff60"/>
<rect x="526" y="82" width="1" height="3" fill="#bfff40"/>
<rect x="526" y="80" width="1" height="2" fill="#000000"/>
<rect x="526" y="45" width="1" height="2" fill="#ffdf00"/>
<rect x="526" y="55" width="1" height="15" fill="#dfff20"/>
<rect x="527" y="80" width="1" height="3" fill="#bfff40"/>
<rect x="527" y="69" width="1" height="7" fill="#cfff30"/>
<rect x="527" y="83" width="1" height="45" fill="#afff50"/>
<rect x="527" y="55" width="1" height="14" fill="#dfff20"/>
<rect x="527" y="76" width="1" height="4" fill="#000000"/>
<rect x="527" y="128" width="1" height="28" fill="#9fff60"/>
<rect x="527" y="38" width="1" height="7" fill="#000000"/>
<rect x="527" y="48" width="1" height="1" fill="#ffef00"/>
<rect x="527" y="51" width="1" height="4" fill="#efff10"/>
<rect x="527" y="45" width="1" height="3" fill="#ffdf00"/>
<rect x="527" y="37" width="2" height="1" fill="#ff0000"/>
<rect x="528" y="52" width="1" height="4" fill="#efff10"/>
<rect x="528" y="38" width="1" height="1" fill="#000000"/>
<rect x="528" y="80" width="1" height="50" fill="#afff50"/>
<rect x="528" y="130" width="1" height="26" fill="#9fff60"/>
<rect x="528" y="39" width="1" height="1" fill="#ef0000"/>
<rect x="528" y="75" width="1" height="5" fill="#000000"/>
<rect x="528" y="51" width="1" height="1" fill="#ffff00"/>
<rect x="528" y="40" width="1" height="6" fill="#000000"/>
<rect x="528" y="73" width="1" height="2" fill="#bfff40"/>
<rect x="528" y="46" width="1" height="3" fill="#ffdf00"/>
<rect x="528" y="56" width="1" height="9" fill="#dfff20"/>
<rect x="528" y="65" width="1" height="8" fill="#cfff30"/>
<rect x="527" y="49" width="3" height="2" fill="#000000"/>
<rect x="529" y="64" width="1" height="13" fill="#cfff30"/>
<rect x="529" y="77" width="1" height="2" fill="#bfff40"/>
<rect x="529" y="79" width="1" height="6" fill="#000000"/>
<rect x="529" y="85" width="1" height="24" fill="#afff50"/>
<rect x="529" y="109" width="1" height="47" fill="#9fff60"/>
<rect x="529" y="38" width="1" height="2" fill="#ef0000"/>
<rect x="529" y="48" width="1" height="1" fill="#ffef00"/>
<rect x="529" y="51" width="1" height="2" fill="#efff10"/>
<rect x="529" y="53" width="1" height="11" fill="#dfff20"/>
<rect x="529" y="45" width="1" height="3" fill="#ffdf00"/>
<rect x="529" y="40" width="2" height="5" fill="#000000"/>
<rect x="529" y="37" width="2" height="1" fill="#ff1000"/>
<rect x="530" y="84" width="1" height="6" fill="#000000"/>
<rect x="530" y="62" width="1" height="19" fill="#cfff30"/>
<rect x="530" y="38" width="1" height="1" fill="#000000"/>
<rect x="530" y="45" width="1" height="1" fill="#ffdf00"/>
<rect x="530" y="46" width="1" height="4" fill="#000000"/>
<rect x="530" y="39" width="1" height="1" fill="#ef0000"/>
<rect x="530" y="52" width="1" height="10" fill="#dfff20"/>
<rect x="530" y="90" width="1" height="15" fill="#afff50"/>
<rect x="530" y="81" width="1" height="3" fill="#bfff40"/>
<rect x="530" y="105" width="1" height="51" fill="#9fff60"/>
<rect x="530" y="50" width="1" height="2" fill="#efff10"/>
<rect x="531" y="37" width="1" height="1" fill="#ff0000"/>
<rect x="531" y="49" width="1" height="3" fill="#efff10"/>
<rect x="531" y="86" width="1" height="3" fill="#bfff40"/>
<rect x="531" y="130" width="1" height="26" fill="#9fff60"/>
<rect x="531" y="52" width="1" height="25" fill="#dfff20"/>
<rect x="531" y="89" width="1" height="3" fill="#000000"/>
<rect x="531" y="38" width="1" height="1" fill="#ef0000"/>
<rect x="531" y="77" width="1" height="9" fill="#cfff30"/>
<rect x="531" y="92" width="1" height="38" fill="#afff50"/>
<rect x="531" y="39" width="1" height="1" fill="#ff0000"/>
<rect x="531" y="40" width="2" height="4" fill="#000000"/>
<rect x="531" y="45" width="2" height="4" fill="#000000"/>
<rect x="531" y="44" width="2" height="1" fill="#ffdf00"/>
<rect x="532" y="38" width="1" height="2" fill="#ff0000"/>
<rect x="532" y="61" width="1" height="28" fill="#cfff30"/>
<rect x="532" y="97" width="1" height="9" fill="#afff50"/>
<rect x="532" y="49" width="1" height="12" fill="#dfff20"/>
<rect x="532" y="91" width="1" height="6" fill="#000000"/>
<rect x="532" y="106" width="1" height="50" fill="#9fff60"/>
<rect x="532" y="89" width="1" height="2" fill="#bfff40"/>
<rect x="533" y="101" width="1" height="15" fill="#afff50"/>
<rect x="533" y="50" width="1" height="1" fill="#ffff00"/>
<rect x="533" y="46" width="1" height="4" fill="#000000"/>
<rect x="533" y="39" width="1" height="1" fill="#ef0000"/>
<rect x="533" y="40" width="1" height="5" fill="#000000"/>
<rect x="533" y="73" width="1" height="20" fill="#cfff30"/>
<rect x="533" y="53" width="1" height="20" fill="#dfff20"/>
<rect x="533" y="93" width="1" height="3" fill="#bfff40"/>
<rect x="533" y="116" width="1" height="35" fill="#9fff60"/>
<rect x="533" y="96" width="1" height="5" fill="#000000"/>
<rect x="533" y="51" width="1" height="2" fill="#efff10"/>
<rect x="532" y="37" width="3" height="1" fill="#ff1000"/>
<rect x="533" y="45" width="2" height="1" fill="#ffcf00"/>
<rect x="533" y="38" width="2" height="1" fill="#ff0000"/>
<rect x="534" y="87" width="1" height="11" fill="#cfff30"/>
<rect x="534" y="100" width="1" height="2" fill="#000000"/>
<rect x="534" y="49" width="1" height="2" fill="#000000"/>
<rect x="534" y="46" width="1" height="2" fill="#ffdf00"/>
<rect x="534" y="56" width="1" height="31" fill="#dfff20"/>
<rect x="534" y="102" width="1" height="1" fill="#bfff40"/>
<rect x="534" y="103" width="1" height="31" fill="#afff50"/>
<rect x="534" y="134" width="1" height="22" fill="#9fff60"/>
<rect x="534" y="51" width="1" height="5" fill="#efff10"/>
<rect x="534" y="98" width="1" height="2" fill="#bfff40"/>
<rect x="534" y="48" width="1" height="1" fill="#ffef00"/>
<rect x="534" y="39" width="1" height="6" fill="#000000"/>
<rect x="535" y="46" width="1" height="3" fill="#ffdf00"/>
<rect x="535" y="37" width="1" height="1" fill="#ff0000"/>
<rect x="535" y="49" width="1" height="3" fill="#000000"/>
<rect x="535" y="113" width="1" height="43" fill="#9fff60"/>
<rect x="535" y="43" width="1" height="1" fill="#ff8000"/>
<rect x="535" y="54" width="1" height="8" fill="#dfff20"/>
<rect x="535" y="62" width="1" height="36" fill="#cfff30"/>
<rect x="535" y="103" width="1" height="1" fill="#bfff40"/>
<rect x="535" y="38" width="1" height="1" fill="#ff1000"/>
<rect x="535" y="98" width="1" height="3" fill="#bfff40"/>
<rect x="535" y="101" width="1" height="2" fill="#000000"/>
<rect x="535" y="44" width="1" height="2" fill="#000000"/>
<rect x="535" y="39" width="1" height="4" fill="#000000"/>
<rect x="535" y="104" width="1" height="9" fill="#afff50"/>
<rect x="535" y="52" width="1" height="2" fill="#efff10"/>
<rect x="536" y="47" width="1" height="1" fill="#ffef00"/>
<rect x="536" y="48" width="1" height="3" fill="#000000"/>
<rect x="536" y="41" width="1" height="1" fill="#ff5000"/>
<rect x="536" y="52" width="1" height="9" fill="#dfff20"/>
<rect x="536" y="37" width="1" height="3" fill="#000000"/>
<rect x="536" y="103" width="1" height="2" fill="#bfff40"/>
<rect x="536" y="100" width="1" height="3" fill="#000000"/>
<rect x="536" y="40" width="1" height="1" fill="#ff4000"/>
<rect x="536" y="61" width="1" height="39" fill="#cfff30"/>
<rect x="536" y="51" width="1" height="1" fill="#efff10"/>
<rect x="536" y="113" width="1" height="36" fill="#9fff60"/>
<rect x="536" y="105" width="1" height="8" fill="#afff50"/>
<rect x="536" y="42" width="2" height="3" fill="#000000"/>
<rect x="536" y="45" width="2" height="2" fill="#ffdf00"/>
<rect x="537" y="39" width="1" height="2" fill="#000000"/>
<rect x="537" y="38" width="1" height="1" fill="#ff0000"/>
<rect x="537" y="50" width="1" height="1" fill="#ffff00"/>
<rect x="537" y="96" width="1" height="4" fill="#000000"/>
<rect x="537" y="100" width="1" height="2" fill="#bfff40"/>
<rect x="537" y="102" width="1" height="11" fill="#afff50"/>
<rect x="537" y="53" width="1" height="13" fill="#dfff20"/>
<rect x="537" y="47" width="1" height="3" fill="#000000"/>
<rect x="537" y="66" width="1" height="30" fill="#cfff30"/>
<rect x="537" y="113" width="1" height="40" fill="#9fff60"/>
<rect x="537" y="51" width="1" height="2" fill="#efff10"/>
<rect x="537" y="37" width="1" height="1" fill="#ef0000"/>
<rect x="537" y="41" width="1" height="1" fill="#ff4000"/>
<rect x="538" y="37" width="1" height="1" fill="#ff0000"/>
<rect x="538" y="96" width="1" height="2" fill="#bfff40"/>
<rect x="538" y="51" width="1" height="26" fill="#dfff20"/>
<rect x="538" y="39" width="1" height="5" fill="#000000"/>
<rect x="538" y="120" width="1" height="36" fill="#9fff60"/>
<rect x="538" y="49" width="1" height="2" fill="#efff10"/>
<rect x="538" y="77" width="1" height="3" fill="#cfff30"/>
<rect x="538" y="38" width="1" height="1" fill="#ef0000"/>
<rect x="538" y="46" width="1" height="3" fill="#000000"/>
<rect x="538" y="98" width="1" height="22" fill="#afff50"/>
<rect x="538" y="80" width="1" height="16" fill="#000000"/>
<rect x="538" y="44" width="1" height="2" fill="#ffdf00"/>
<rect x="539" y="45" width="1" height="1" fill="#ffcf00"/>
<rect x="539" y="46" width="1" height="1" fill="#ffdf00"/>
<rect x="539" y="38" width="1" height="1" fill="#df0000"/>
<rect x="539" y="37" width="1" height="1" fill="#ff1000"/>
<rect x="539" y="53" width="1" height="13" fill="#dfff20"/>
<rect x="539" y="47" width="1" height="3" fill="#000000"/>
<rect x="539" y="66" width="1" height="8" fill="#cfff30"/>
<rect x="539" y="80" width="1" height="2" fill="#bfff40"/>
<rect x="539" y="118" width="1" height="38" fill="#9fff60"/>
<rect x="539" y="50" width="1" height="3" fill="#efff10"/>
<rect x="539" y="74" width="1" height="6" fill="#000000"/>
<rect x="539" y="82" width="1" height="36" fill="#afff50"/>
<rect x="539" y="39" width="1" height="6" fill="#000000"/>
<rect x="540" y="73" width="1" height="18" fill="#000000"/>
<rect x="540" y="38" width="1" height="6" fill="#000000"/>
<rect x="540" y="47" width="1" height="2" fill="#000000"/>
<rect x="540" y="111" width="1" height="43" fill="#9fff60"/>
<rect x="540" y="49" width="1" height="2" fill="#efff10"/>
<rect x="540" y="46" width="1" height="1" fill="#ffef00"/>
<rect x="540" y="70" width="1" height="3" fill="#bfff40"/>
<rect x="540" y="91" width="1" height="20" fill="#afff50"/>
<rect x="540" y="51" width="1" height="10" fill="#dfff20"/>
<rect x="540" y="37" width="1" height="1" fill="#ef0000"/>
<rect x="540" y="61" width="1" height="9" fill="#cfff30"/>
<rect x="540" y="44" width="1" height="2" fill="#ffdf00"/>
<rect x="541" y="102" width="1" height="3" fill="#afff50"/>
<rect x="541" y="112" width="1" height="3" fill="#afff50"/>
<rect x="541" y="88" width="1" height="14" fill="#000000"/>
<rect x="541" y="134" width="1" height="4" fill="#000000"/>
<rect x="541" y="138" width="1" height="18" fill="#9fff60"/>
<rect x="541" y="50" width="1" height="3" fill="#efff10"/>
<rect x="541" y="115" width="1" height="17" fill="#000000"/>
<rect x="541" y="74" width="1" height="14" fill="#cfff30"/>
<rect x="541" y="53" width="1" height="21" fill="#dfff20"/>
<rect x="541" y="45" width="1" height="2" fill="#ffdf00"/>
<rect x="541" y="105" width="1" height="7" fill="#000000"/>
<rect x="541" y="132" width="1" height="2" fill="#9fff60"/>
<rect x="541" y="47" width="2" height="1" fill="#ffef00"/>
<rect x="541" y="37" width="2" height="8" fill="#000000"/>
<rect x="541" y="48" width="2" height="2" fill="#000000"/>
<rect x="542" y="151" width="1" height="5" fill="#9fff60"/>
<rect x="542" y="45" width="1" height="1" fill="#ffcf00"/>
<rect x="542" y="140" width="1" height="6" fill="#9fff60"/>
<rect x="542" y="46" width="1" height="1" fill="#ffdf00"/>
<rect x="542" y="146" width="1" height="5" fill="#000000"/>
<rect x="542" y="50" width="1" height="2" fill="#efff10"/>
<rect x="542" y="128" width="1" height="2" fill="#9fff60"/>
<rect x="542" y="100" width="1" height="1" fill="#bfff40"/>
<rect x="542" y="138" width="1" height="2" fill="#000000"/>
<rect x="542" y="130" width="1" height="4" fill="#000000"/>
<rect x="542" y="52" width="1" height="7" fill="#dfff20"/>
<rect x="542" y="123" width="1" height="5" fill="#000000"/>
<rect x="542" y="98" width="1" height="2" fill="#000000"/>
<rect x="542" y="101" width="1" height="14" fill="#000000"/>
<rect x="542" y="59" width="1" height="39" fill="#cfff30"/>
<rect x="542" y="134" width="1" height="4" fill="#9fff60"/>
<rect x="542" y="115" width="1" height="8" fill="#9fff60"/>
<rect x="543" y="96" width="1" height="15" fill="#000000"/>
<rect x="543" y="47" width="1" height="2" fill="#000000"/>
<rect x="543" y="120" width="1" height="36" fill="#9fff60"/>
<rect x="543" y="49" width="1" height="2" fill="#efff10"/>
<rect x="543" y="111" width="1" height="2" fill="#bfff40"/>
<rect x="543" y="113" width="1" height="7" fill="#afff50"/>
<rect x="543" y="45" width="1" height="2" fill="#ffdf00"/>
<rect x="543" y="41" width="1" height="1" fill="#ff3000"/>
<rect x="543" y="51" width="1" height="10" fill="#dfff20"/>
<rect x="543" y="61" width="1" height="35" fill="#cfff30"/>
<rect x="543" y="37" width="1" height="2" fill="#ef0000"/>
<rect x="543" y="39" width="2" height="2" fill="#000000"/>
<rect x="543" y="42" width="2" height="3" fill="#000000"/>
<rect x="544" y="69" width="1" height="11" fill="#cfff30"/>
<rect x="544" y="96" width="1" height="2" fill="#bfff40"/>
<rect x="544" y="113" width="1" height="43" fill="#9fff60"/>
<rect x="544" y="37" width="1" height="2" fill="#ff0000"/>
<rect x="544" y="41" width="1" height="1" fill="#ff2000"/>
<rect x="544" y="45" width="1" height="1" fill="#ffdf00"/>
<rect x="544" y="52" width="1" height="17" fill="#dfff20"/>
<rect x="544" y="46" width="1" height="2" fill="#ffef00"/>
<rect x="544" y="50" width="1" height="2" fill="#efff10"/>
<rect x="544" y="98" width="1" height="15" fill="#afff50"/>
<rect x="544" y="80" width="1" height="16" fill="#000000"/>
<rect x="544" y="48" width="1" height="2" fill="#000000"/>
<rect x="545" y="72" width="1" height="8" fill="#000000"/>
<rect x="545" y="51" width="1" height="9" fill="#dfff20"/>
<rect x="545" y="37" width="1" height="3" fill="#ff0000"/>
<rect x="545" y="47" width="1" height="2" fill="#000000"/>
<rect x="545" y="45" width="1" height="2" fill="#ffef00"/>
<rect x="545" y="49" width="1" height="2" fill="#efff10"/>
<rect x="545" y="60" width="1" height="12" fill="#cfff30"/>
<rect x="545" y="80" width="1" height="2" fill="#bfff40"/>
<rect x="545" y="94" width="1" height="62" fill="#9fff60"/>
<rect x="545" y="82" width="1" height="12" fill="#afff50"/>
<rect x="546" y="51" width="1" height="8" fill="#dfff20"/>
<rect x="546" y="59" width="1" height="10" fill="#cfff30"/>
<rect x="546" y="37" width="1" height="2" fill="#ff0000"/>
<rect x="546" y="45" width="1" height="3" fill="#ffef00"/>
<rect x="546" y="50" width="1" height="1" fill="#efff10"/>
<rect x="546" y="69" width="1" height="2" fill="#bfff40"/>
<rect x="546" y="71" width="1" height="16" fill="#000000"/>
<rect x="546" y="87" width="1" height="69" fill="#9fff60"/>
<rect x="546" y="48" width="1" height="2" fill="#000000"/>
<rect x="545" y="40" width="3" height="5" fill="#000000"/>
<rect x="546" y="39" width="2" height="1" fill="#ef0000"/>
<rect x="547" y="38" width="1" height="1" fill="#ff0000"/>
<rect x="547" y="84" width="1" height="2" fill="#bfff40"/>
<rect x="547" y="51" width="1" height="9" fill="#dfff20"/>
<rect x="547" y="47" width="1" height="2" fill="#000000"/>
<rect x="547" y="45" width="1" height="2" fill="#ffef00"/>
<rect x="547" y="37" width="1" height="1" fill="#ff1000"/>
<rect x="547" y="49" width="1" height="2" fill="#efff10"/>
<rect x="547" y="141" width="1" height="12" fill="#9fff60"/>
<rect x="547" y="60" width="1" height="24" fill="#cfff30"/>
<rect x="547" y="86" width="1" height="55" fill="#000000"/>
<rect x="548" y="48" width="1" height="2" fill="#efff10"/>
<rect x="548" y="50" width="1" height="10" fill="#dfff20"/>
<rect x="548" y="138" width="1" height="1" fill="#000000"/>
<rect x="548" y="102" width="1" height="1" fill="#cfff30"/>
<rect x="548" y="100" width="1" height="1" fill="#cfff30"/>
<rect x="548" y="103" width="1" height="8" fill="#000000"/>
<rect x="548" y="46" width="1" height="2" fill="#000000"/>
<rect x="548" y="60" width="1" height="35" fill="#cfff30"/>
<rect x="548" y="139" width="1" height="2" fill="#bfff40"/>
<rect x="548" y="141" width="1" height="6" fill="#afff50"/>
<rect x="548" y="95" width="1" height="5" fill="#000000"/>
<rect x="548" y="37" width="1" height="1" fill="#000000"/>
<rect x="548" y="123" width="1" height="12" fill="#000000"/>
<rect x="548" y="101" width="1" height="1" fill="#000000"/>
<rect x="548" y="117" width="1" height="2" fill="#000000"/>
<rect x="548" y="147" width="1" height="6" fill="#9fff60"/>
<rect x="548" y="119" width="1" height="4" fill="#cfff30"/>
<rect x="548" y="135" width="1" height="3" fill="#bfff40"/>
<rect x="548" y="38" width="1" height="2" fill="#ff0000"/>
<rect x="548" y="111" width="1" height="6" fill="#cfff30"/>
<rect x="548" y="44" width="2" height="2" fill="#ffef00"/>
<rect x="548" y="40" width="2" height="4" fill="#000000"/>
<rect x="549" y="140" width="1" height="6" fill="#afff50"/>
<rect x="549" y="63" width="1" height="32" fill="#cfff30"/>
<rect x="549" y="138" width="1" height="2" fill="#bfff40"/>
<rect x="549" y="46" width="1" height="4" fill="#000000"/>
<rect x="549" y="146" width="1" height="10" fill="#9fff60"/>
<rect x="549" y="95" width="1" height="43" fill="#000000"/>
<rect x="549" y="50" width="1" height="13" fill="#dfff20"/>
<rect x="549" y="37" width="1" height="3" fill="#ef0000"/>
<rect x="550" y="133" width="1" height="1" fill="#000000"/>
<rect x="550" y="47" width="1" height="4" fill="#000000"/>
<rect x="550" y="40" width="1" height="5" fill="#000000"/>
<rect x="550" y="37" width="1" height="1" fill="#ef0000"/>
<rect x="550" y="53" width="1" height="7" fill="#dfff20"/>
<rect x="550" y="97" width="1" height="8" fill="#afff50"/>
<rect x="550" y="39" width="1" height="1" fill="#ef0000"/>
<rect x="550" y="105" width="1" height="15" fill="#9fff60"/>
<rect x="550" y="95" width="1" height="2" fill="#bfff40"/>
<rect x="550" y="142" width="1" height="1" fill="#9fff60"/>
<rect x="550" y="51" width="1" height="2" fill="#efff10"/>
<rect x="550" y="145" width="1" height="11" fill="#9fff60"/>
<rect x="550" y="138" width="1" height="4" fill="#000000"/>
<rect x="550" y="38" width="1" height="1" fill="#df0000"/>
<rect x="550" y="143" width="1" height="2" fill="#000000"/>
<rect x="550" y="126" width="1" height="7" fill="#9fff60"/>
<rect x="550" y="60" width="1" height="25" fill="#cfff30"/>
<rect x="550" y="134" width="1" height="4" fill="#9fff60"/>
<rect x="550" y="85" width="1" height="10" fill="#000000"/>
<rect x="550" y="120" width="1" height="6" fill="#000000"/>
<rect x="550" y="45" width="2" height="1" fill="#ffdf00"/>
<rect x="550" y="46" width="2" height="1" fill="#ffef00"/>
<rect x="551" y="82" width="1" height="2" fill="#bfff40"/>
<rect x="551" y="38" width="1" height="1" fill="#cf0000"/>
<rect x="551" y="37" width="1" height="1" fill="#000000"/>
<rect x="551" y="84" width="1" height="10" fill="#000000"/>
<rect x="551" y="39" width="1" height="5" fill="#000000"/>
<rect x="551" y="44" width="1" height="1" fill="#ffcf00"/>
<rect x="551" y="94" width="1" height="19" fill="#afff50"/>
<rect x="551" y="50" width="1" height="1" fill="#efff10"/>
<rect x="551" y="68" width="1" height="14" fill="#cfff30"/>
<rect x="551" y="51" width="1" height="17" fill="#dfff20"/>
<rect x="551" y="113" width="1" height="43" fill="#9fff60"/>
<rect x="551" y="47" width="2" height="3" fill="#000000"/>
<rect x="552" y="39" width="1" height="2" fill="#000000"/>
<rect x="552" y="94" width="1" height="2" fill="#bfff40"/>
<rect x="552" y="96" width="1" height="46" fill="#afff50"/>
<rect x="552" y="42" width="1" height="3" fill="#000000"/>
<rect x="552" y="37" width="1" height="2" fill="#df0000"/>
<rect x="552" y="50" width="1" height="6" fill="#efff10"/>
<rect x="552" y="56" width="1" height="27" fill="#dfff20"/>
<rect x="552" y="41" width="1" height="1" fill="#ff3000"/>
<rect x="552" y="91" width="1" height="2" fill="#bfff40"/>
<rect x="552" y="83" width="1" height="8" fill="#cfff30"/>
<rect x="552" y="45" width="1" height="2" fill="#ffdf00"/>
<rect x="552" y="142" width="1" height="14" fill="#9fff60"/>
<rect x="552" y="93" width="1" height="1" fill="#000000"/>
<rect x="553" y="44" width="1" height="2" fill="#ffef00"/>
<rect x="553" y="49" width="1" height="1" fill="#efff10"/>
<rect x="553" y="40" width="1" height="4" fill="#000000"/>
<rect x="553" y="63" width="1" height="16" fill="#cfff30"/>
<rect x="553" y="46" width="1" height="3" fill="#000000"/>
<rect x="553" y="39" width="1" height="1" fill="#ff0000"/>
<rect x="553" y="50" width="1" height="13" fill="#dfff20"/>
<rect x="553" y="37" width="1" height="2" fill="#ef0000"/>
<rect x="372" y="49" width="7" height="1" fill="#000"/>
<rect x="375" y="46" width="1" height="7" fill="#000"/>
<rect x="384" y="59" width="7" height="1" fill="#000"/>
<rect x="387" y="56" width="1" height="7" fill="#000"/>
<rect x="360" y="85" width="7" height="1" fill="#000"/>
<rect x="363" y="82" width="1" height="7" fill="#000"/>
<rect x="366" y="101" width="7" height="1" fill="#000"/>
<rect x="369" y="98" width="1" height="7" fill="#000"/>
<rect x="362" y="129" width="7" height="1" fill="#000"/>
<rect x="365" y="126" width="1" height="7" fill="#000"/>
<rect x="362" y="141" width="7" height="1" fill="#000"/>
<rect x="365" y="138" width="1" height="7" fill="#000"/>
<rect x="368" y="154" width="7" height="1" fill="#000"/>
<rect x="371" y="151" width="1" height="7" fill="#000"/>
<rect x="383" y="155" width="7" height="1" fill="#000"/>
<rect x="386" y="152" width="1" height="7" fill="#000"/>
<rect x="407" y="51" width="7" height="1" fill="#000"/>
<rect x="410" y="48" width="1" height="7" fill="#000"/>
<rect x="407" y="77" width="7" height="1" fill="#000"/>
<rect x="410" y="74" width="1" height="7" fill="#000"/>
<rect x="397" y="141" width="7" height="1" fill="#000"/>
<rect x="400" y="138" width="1" height="7" fill="#000"/>
<rect x="408" y="138" width="7" height="1" fill="#000"/>
<rect x="411" y="135" width="1" height="7" fill="#000"/>
<rect x="426" y="64" width="7" height="1" fill="#000"/>
<rect x="429" y="61" width="1" height="7" fill="#000"/>
<rect x="452" y="56" width="7" height="1" fill="#000"/>
<rect x="455" y="53" width="1" height="7" fill="#000"/>
<rect x="426" y="155" width="7" height="1" fill="#000"/>
<rect x="429" y="152" width="1" height="7" fill="#000"/>
<rect x="434" y="127" width="7" height="1" fill="#000"/>
<rect x="437" y="124" width="1" height="7" fill="#000"/>
<rect x="474" y="58" width="7" height="1" fill="#000"/>
<rect x="477" y="55" width="1" height="7" fill="#000"/>
<rect x="544" y="100" width="7" height="1" fill="#000"/>
<rect x="547" y="97" width="1" height="7" fill="#000"/>
<rect x="537" y="113" width="7" height="1" fill="#000"/>
<rect x="540" y="110" width="1" height="7" fill="#000"/>
<rect x="538" y="121" width="7" height="1" fill="#000"/>
<rect x="541" y="118" width="1" height="7" fill="#000"/>
<rect x="543" y="134" width="7" height="1" fill="#000"/>
<rect x="546" y="131" width="1" height="7" fill="#000"/>
<rect x="537" y="152" width="7" height="1" fill="#000"/>
<rect x="540" y="149" width="1" height="7" fill="#000"/>
<rect x="537" y="155" width="7" height="1" fill="#000"/>
<rect x="540" y="152" width="1" height="7" fill="#000"/>
<rect x="360" y="67" width="7" height="1" fill="#000"/>
<rect x="363" y="64" width="1" height="7" fill="#000"/>
<rect x="360" y="71" width="7" height="1" fill="#000"/>
<rect x="363" y="68" width="1" height="7" fill="#000"/>
<rect x="363" y="64" width="7" height="1" fill="#000"/>
<rect x="366" y="61" width="1" height="7" fill="#000"/>
<rect x="370" y="150" width="7" height="1" fill="#000"/>
<rect x="373" y="147" width="1" height="7" fill="#000"/>
<rect x="373" y="155" width="7" height="1" fill="#000"/>
<rect x="376" y="152" width="1" height="7" fill="#000"/>
<rect x="375" y="146" width="7" height="1" fill="#000"/>
<rect x="378" y="143" width="1" height="7" fill="#000"/>
<rect x="367" y="147" width="7" height="1" fill="#000"/>
<rect x="370" y="144" width="1" height="7" fill="#000"/>
<text x="378.5" y="45.5" font-size="10.0" font-weight="normal" text-anchor="middle" stroke="#000" stroke-width="0.5">9</text>
<text x="394.0" y="78.0" font-size="10.5" font-weight="normal" text-anchor="middle" stroke="#000" stroke-width="0.5">8</text>
<rect x="390" y="65" width="1" height="24" fill="#000"/>
<rect x="388" y="80" width="7" height="1" fill="#000"/>
<rect x="391" y="77" width="1" height="7" fill="#000"/>
<text x="390.5" y="56.0" font-size="10.0" font-weight="normal" text-anchor="middle" stroke="#000" stroke-width="0.5">8</text>
<text x="377.0" y="116.0" font-size="10.0" font-weight="normal" text-anchor="middle" stroke="#000" stroke-width="0.5">6</text>
<text x="389.0" y="116.5" font-size="10.0" font-weight="normal" text-anchor="middle" stroke="#000" stroke-width="0.5">6</text>
<text x="398.0" y="101.0" font-size="10.0" font-weight="normal" text-anchor="middle" stroke="#000" stroke-width="0.5">7</text>
<text x="413.0" y="102.0" font-size="10.0" font-weight="normal" text-anchor="middle" stroke="#000" stroke-width="0.5">8</text>
<text x="367.5" y="127.0" font-size="10.0" font-weight="normal" text-anchor="middle" stroke="#000" stroke-width="0.5">8</text>
<text x="382.0" y="147.5" font-size="10.0" font-weight="normal" text-anchor="middle" stroke="#000" stroke-width="0.5">5</text>
<text x="389.0" y="153.0" font-size="10.0" font-weight="normal" text-anchor="middle" stroke="#000" stroke-width="0.5">5</text>
<text x="438.2" y="61.6" font-size="10.0" font-weight="normal" text-anchor="middle" stroke="#000" stroke-width="0.5">0</text>
<text x="457.0" y="131.7" font-size="10.5" font-weight="normal" text-anchor="middle" stroke="#000" stroke-width="0.5">0</text>
<text x="451.0" y="132.0" font-size="10.5" font-weight="normal" text-anchor="middle" stroke="#000" stroke-width="0.5">3</text>
<rect x="449" y="131" width="1" height="6" fill="#000"/>
<text x="430.5" y="156.0" font-size="10.0" font-weight="normal" text-anchor="middle" stroke="#000" stroke-width="0.5">99</text>
<text x="550.5" y="131.0" font-size="10.0" font-weight="normal" text-anchor="middle" stroke="#000" stroke-width="0.5">1</text>
<text x="548.5" y="152.0" font-size="10.0" font-weight="normal" text-anchor="middle" stroke="#000" stroke-width="0.5">10</text>
<rect x="363" y="38" width="9" height="1" fill="#000"/>
<rect x="367" y="33" width="1" height="11" fill="#000"/>
<rect x="363" y="37" width="3" height="1" fill="#000"/>
<rect x="365" y="37" width="1" height="5" fill="#000"/>
<rect x="363" y="40" width="3" height="1" fill="#000"/>
<rect x="363" y="42" width="3" height="1" fill="#000"/>
<rect x="369" y="37" width="2" height="3" fill="#000"/>
<rect x="366" y="54" width="5" height="11" fill="#000"/>
<rect x="367" y="56" width="3" height="2" fill="#80ff80"/>
<rect x="367" y="60" width="3" height="2" fill="#80ff80"/>
<rect x="363" y="62" width="6" height="30" fill="#000"/>
<rect x="365" y="64" width="1" height="2" fill="#fff"/>
<rect x="367" y="65" width="1" height="2" fill="#fff"/>
<rect x="365" y="68" width="1" height="2" fill="#fff"/>
<rect x="367" y="69" width="1" height="2" fill="#fff"/>
<rect x="365" y="72" width="1" height="2" fill="#fff"/>
<rect x="367" y="73" width="1" height="2" fill="#fff"/>
<rect x="365" y="76" width="1" height="2" fill="#fff"/>
<rect x="367" y="77" width="1" height="2" fill="#fff"/>
<rect x="365" y="80" width="1" height="2" fill="#fff"/>
<rect x="367" y="81" width="1" height="2" fill="#fff"/>
<rect x="365" y="84" width="1" height="2" fill="#fff"/>
<rect x="367" y="85" width="1" height="2" fill="#fff"/>
<rect x="365" y="88" width="1" height="2" fill="#fff"/>
<rect x="367" y="89" width="1" height="2" fill="#fff"/>
<rect x="370" y="64" width="1" height="22" fill="#000"/>
<rect x="436" y="37" width="1" height="6" fill="#000"/>
<rect x="440" y="37" width="1" height="6" fill="#000"/>
<rect x="437" y="43" width="3" height="1" fill="#000"/>
<rect x="442" y="37" width="1" height="4" fill="#000"/>
<rect x="453" y="46" width="5" height="10" fill="#000"/>
<rect x="455" y="37" width="1" height="27" fill="#000"/>
<rect x="457" y="37" width="1" height="20" fill="#000"/>
<rect x="452" y="51" width="1" height="5" fill="#000"/>
<text x="463.6" y="54.0" font-size="10.0" font-weight="normal" text-anchor="middle" stroke="#000" stroke-width="0.5">0</text>
<rect x="75" y="49" width="1" height="462" fill="#0000ff"/>
<rect x="75" y="96" width="1" height="21" fill="#000"/>
<rect x="71" y="51" width="7" height="1" fill="#000"/>
<rect x="74" y="48" width="1" height="7" fill="#000"/>
<rect x="71" y="101" width="7" height="1" fill="#000"/>
<rect x="74" y="98" width="1" height="7" fill="#000"/>
<text x="79.0" y="98.9" font-size="10.0" font-weight="normal" text-anchor="middle" stroke="#000" stroke-width="0.3">4</text>
<rect x="74" y="36" width="8" height="5" fill="#000"/>
<rect x="78" y="40" width="2" height="1" fill="#fff"/>
<rect x="74" y="41" width="7" height="5" fill="#000"/>
<rect x="76" y="42" width="1" height="1" fill="#fff"/>
<rect x="78" y="44" width="1" height="1" fill="#fff"/>
<rect x="71" y="40" width="3" height="2" fill="#000"/>
<rect x="72" y="43" width="2" height="1" fill="#000"/>
<rect x="72" y="45" width="2" height="1" fill="#000"/>
<rect x="80" y="45" width="1" height="2" fill="#000"/>
<rect x="79" y="46" width="1" height="3" fill="#000"/>
<rect x="74" y="46" width="2" height="3" fill="#000"/>
<rect x="71" y="37" width="3" height="1" fill="#000"/>
<rect x="74" y="33" width="1" height="3" fill="#000"/>
<rect x="367" y="33" width="1" height="3" fill="#000"/>
<rect x="467" y="33" width="1" height="3" fill="#000"/>
<rect x="493" y="33" width="1" height="3" fill="#000"/>
<rect x="509" y="33" width="1" height="3" fill="#000"/>
<rect x="525" y="33" width="1" height="3" fill="#000"/>
<rect x="537" y="33" width="1" height="3" fill="#000"/>
<rect x="74" y="36" width="481" height="1" fill="#000"/>
<rect x="74" y="516" width="481" height="1" fill="#000"/>
<rect x="74" y="36" width="1" height="481" fill="#000"/>
<rect x="554" y="36" width="1" height="481" fill="#000"/>
<rect x="81" y="511" width="1" height="5" fill="#000"/>
<rect x="81" y="37" width="1" height="4" fill="#000"/>
<rect x="89" y="511" width="1" height="5" fill="#000"/>
<rect x="89" y="37" width="1" height="4" fill="#000"/>
<rect x="96" y="511" width="1" height="5" fill="#000"/>
<rect x="96" y="37" width="1" height="4" fill="#000"/>
<rect x="104" y="511" width="1" height="5" fill="#000"/>
<rect x="104" y="37" width="1" height="4" fill="#000"/>
<rect x="112" y="511" width="1" height="5" fill="#000"/>
<rect x="112" y="37" width="1" height="4" fill="#000"/>
<rect x="119" y="511" width="1" height="5" fill="#000"/>
<rect x="119" y="37" width="1" height="4" fill="#000"/>
<rect x="127" y="511" width="1" height="5" fill="#000"/>
<rect x="127" y="37" width="1" height="4" fill="#000"/>
<rect x="135" y="511" width="1" height="5" fill="#000"/>
<rect x="135" y="37" width="1" height="4" fill="#000"/>
<rect x="142" y="511" width="1" height="5" fill="#000"/>
<rect x="142" y="37" width="1" height="4" fill="#000"/>
<rect x="150" y="511" width="1" height="5" fill="#000"/>
<rect x="150" y="37" width="1" height="4" fill="#000"/>
<rect x="158" y="511" width="1" height="5" fill="#000"/>
<rect x="158" y="37" width="1" height="4" fill="#000"/>
<rect x="165" y="511" width="1" height="5" fill="#000"/>
<rect x="165" y="37" width="1" height="4" fill="#000"/>
<rect x="173" y="511" width="1" height="5" fill="#000"/>
<rect x="173" y="37" width="1" height="4" fill="#000"/>
<rect x="181" y="511" width="1" height="5" fill="#000"/>
<rect x="181" y="37" width="1" height="4" fill="#000"/>
<rect x="188" y="511" width="1" height="5" fill="#000"/>
<rect x="188" y="37" width="1" height="4" fill="#000"/>
<rect x="196" y="511" width="1" height="5" fill="#000"/>
<rect x="196" y="37" width="1" height="4" fill="#000"/>
<rect x="204" y="511" width="1" height="5" fill="#000"/>
<rect x="204" y="37" width="1" height="4" fill="#000"/>
<rect x="211" y="511" width="1" height="5" fill="#000"/>
<rect x="211" y="37" width="1" height="4" fill="#000"/>
<rect x="219" y="511" width="1" height="5" fill="#000"/>
<rect x="219" y="37" width="1" height="4" fill="#000"/>
<rect x="227" y="511" width="1" height="5" fill="#000"/>
<rect x="227" y="37" width="1" height="4" fill="#000"/>
<rect x="234" y="511" width="1" height="5" fill="#000"/>
<rect x="234" y="37" width="1" height="4" fill="#000"/>
<rect x="242" y="511" width="1" height="5" fill="#000"/>
<rect x="242" y="37" width="1" height="4" fill="#000"/>
<rect x="250" y="511" width="1" height="5" fill="#000"/>
<rect x="250" y="37" width="1" height="4" fill="#000"/>
<rect x="257" y="511" width="1" height="5" fill="#000"/>
<rect x="257" y="37" width="1" height="4" fill="#000"/>
<rect x="265" y="511" width="1" height="5" fill="#000"/>
<rect x="265" y="37" width="1" height="4" fill="#000"/>
<rect x="273" y="511" width="1" height="5" fill="#000"/>
<rect x="273" y="37" width="1" height="4" fill="#000"/>
<rect x="280" y="511" width="1" height="5" fill="#000"/>
<rect x="280" y="37" width="1" height="4" fill="#000"/>
<rect x="288" y="511" width="1" height="5" fill="#000"/>
<rect x="288" y="37" width="1" height="4" fill="#000"/>
<rect x="296" y="511" width="1" height="5" fill="#000"/>
<rect x="296" y="37" width="1" height="4" fill="#000"/>
<rect x="303" y="511" width="1" height="5" fill="#000"/>
<rect x="303" y="37" width="1" height="4" fill="#000"/>
<rect x="311" y="511" width="1" height="5" fill="#000"/>
<rect x="311" y="37" width="1" height="4" fill="#000"/>
<rect x="319" y="511" width="1" height="5" fill="#000"/>
<rect x="319" y="37" width="1" height="4" fill="#000"/>
<rect x="327" y="511" width="1" height="5" fill="#000"/>
<rect x="327" y="37" width="1" height="4" fill="#000"/>
<rect x="334" y="511" width="1" height="5" fill="#000"/>
<rect x="334" y="37" width="1" height="4" fill="#000"/>
<rect x="342" y="511" width="1" height="5" fill="#000"/>
<rect x="342" y="37" width="1" height="4" fill="#000"/>
<rect x="350" y="511" width="1" height="5" fill="#000"/>
<rect x="350" y="37" width="1" height="4" fill="#000"/>
<rect x="357" y="511" width="1" height="5" fill="#000"/>
<rect x="357" y="37" width="1" height="4" fill="#000"/>
<rect x="365" y="511" width="1" height="5" fill="#000"/>
<rect x="365" y="37" width="1" height="4" fill="#000"/>
<rect x="373" y="511" width="1" height="5" fill="#000"/>
<rect x="373" y="37" width="1" height="4" fill="#000"/>
<rect x="380" y="511" width="1" height="5" fill="#000"/>
<rect x="380" y="37" width="1" height="4" fill="#000"/>
<rect x="388" y="511" width="1" height="5" fill="#000"/>
<rect x="388" y="37" width="1" height="4" fill="#000"/>
<rect x="396" y="511" width="1" height="5" fill="#000"/>
<rect x="396" y="37" width="1" height="4" fill="#000"/>
<rect x="403" y="511" width="1" height="5" fill="#000"/>
<rect x="403" y="37" width="1" height="4" fill="#000"/>
<rect x="411" y="511" width="1" height="5" fill="#000"/>
<rect x="411" y="37" width="1" height="4" fill="#000"/>
<rect x="419" y="511" width="1" height="5" fill="#000"/>
<rect x="419" y="37" width="1" height="4" fill="#000"/>
<rect x="426" y="511" width="1" height="5" fill="#000"/>
<rect x="426" y="37" width="1" height="4" fill="#000"/>
<rect x="434" y="511" width="1" height="5" fill="#000"/>
<rect x="434" y="37" width="1" height="4" fill="#000"/>
<rect x="442" y="511" width="1" height="5" fill="#000"/>
<rect x="442" y="37" width="1" height="4" fill="#000"/>
<rect x="449" y="511" width="1" height="5" fill="#000"/>
<rect x="449" y="37" width="1" height="4" fill="#000"/>
<rect x="457" y="511" width="1" height="5" fill="#000"/>
<rect x="457" y="37" width="1" height="4" fill="#000"/>
<rect x="465" y="511" width="1" height="5" fill="#000"/>
<rect x="465" y="37" width="1" height="4" fill="#000"/>
<rect x="472" y="511" width="1" height="5" fill="#000"/>
<rect x="472" y="37" width="1" height="4" fill="#000"/>
<rect x="480" y="511" width="1" height="5" fill="#000"/>
<rect x="480" y="37" width="1" height="4" fill="#000"/>
<rect x="488" y="511" width="1" height="5" fill="#000"/>
<rect x="488" y="37" width="1" height="4" fill="#000"/>
<rect x="495" y="511" width="1" height="5" fill="#000"/>
<rect x="495" y="37" width="1" height="4" fill="#000"/>
<rect x="503" y="511" width="1" height="5" fill="#000"/>
<rect x="503" y="37" width="1" height="4" fill="#000"/>
<rect x="511" y="511" width="1" height="5" fill="#000"/>
<rect x="511" y="37" width="1" height="4" fill="#000"/>
<rect x="518" y="511" width="1" height="5" fill="#000"/>
<rect x="518" y="37" width="1" height="4" fill="#000"/>
<rect x="526" y="511" width="1" height="5" fill="#000"/>
<rect x="526" y="37" width="1" height="4" fill="#000"/>
<rect x="534" y="511" width="1" height="5" fill="#000"/>
<rect x="534" y="37" width="1" height="4" fill="#000"/>
<rect x="541" y="511" width="1" height="5" fill="#000"/>
<rect x="541" y="37" width="1" height="4" fill="#000"/>
<rect x="549" y="511" width="1" height="5" fill="#000"/>
<rect x="549" y="37" width="1" height="4" fill="#000"/>
<rect x="77" y="522" width="2" height="9" fill="#000"/>
<rect x="76" y="523" width="1" height="2" fill="#000"/>
<rect x="75" y="524" width="1" height="1" fill="#000"/>
<text x="85.3" y="530.8" font-size="12.0" font-weight="normal" text-anchor="middle" stroke="#000" stroke-width="0.7">0</text>
<text x="85.9" y="530.8" font-size="12.0" font-weight="normal" text-anchor="middle" stroke="#000" stroke-width="0.7">2</text>
<text x="92.6" y="530.8" font-size="12.0" font-weight="normal" text-anchor="middle" stroke="#000" stroke-width="0.7">0</text>
<text x="93.2" y="530.8" font-size="12.0" font-weight="normal" text-anchor="middle" stroke="#000" stroke-width="0.7">3</text>
<text x="100.9" y="530.8" font-size="12.0" font-weight="normal" text-anchor="middle" stroke="#000" stroke-width="0.7">0</text>
<text x="101.5" y="530.8" font-size="12.0" font-weight="normal" text-anchor="middle" stroke="#000" stroke-width="0.7">4</text>
<text x="109.2" y="530.8" font-size="12.0" font-weight="normal" text-anchor="middle" stroke="#000" stroke-width="0.7">0</text>
<text x="109.8" y="530.8" font-size="12.0" font-weight="normal" text-anchor="middle" stroke="#000" stroke-width="0.7">5</text>
<text x="116.5" y="530.8" font-size="12.0" font-weight="normal" text-anchor="middle" stroke="#000" stroke-width="0.7">0</text>
<text x="117.1" y="530.8" font-size="12.0" font-weight="normal" text-anchor="middle" stroke="#000" stroke-width="0.7">6</text>
<text x="124.8" y="530.8" font-size="12.0" font-weight="normal" text-anchor="middle" stroke="#000" stroke-width="0.7">0</text>
<text x="125.4" y="530.8" font-size="12.0" font-weight="normal" text-anchor="middle" stroke="#000" stroke-width="0.7">7</text>
<text x="133.1" y="530.8" font-size="12.0" font-weight="normal" text-anchor="middle" stroke="#000" stroke-width="0.7">0</text>
<text x="133.7" y="530.8" font-size="12.0" font-weight="normal" text-anchor="middle" stroke="#000" stroke-width="0.7">8</text>
<text x="140.4" y="530.8" font-size="12.0" font-weight="normal" text-anchor="middle" stroke="#000" stroke-width="0.7">0</text>
<text x="141.0" y="530.8" font-size="12.0" font-weight="normal" text-anchor="middle" stroke="#000" stroke-width="0.7">9</text>
<rect x="149" y="522" width="2" height="9" fill="#000"/>
<rect x="148" y="523" width="1" height="2" fill="#000"/>
<rect x="147" y="524" width="1" height="1" fill="#000"/>
<text x="149.3" y="530.8" font-size="12.0" font-weight="normal" text-anchor="middle" stroke="#000" stroke-width="0.7">0</text>
<rect x="157" y="522" width="2" height="9" fill="#000"/>
<rect x="156" y="523" width="1" height="2" fill="#000"/>
<rect x="155" y="524" width="1" height="1" fill="#000"/>
<rect x="158" y="522" width="2" height="9" fill="#000"/>
<rect x="157" y="523" width="1" height="2" fill="#000"/>
<rect x="156" y="524" width="1" height="1" fill="#000"/>
<rect x="164" y="522" width="2" height="9" fill="#000"/>
<rect x="163" y="523" width="1" height="2" fill="#000"/>
<rect x="162" y="524" width="1" height="1" fill="#000"/>
<text x="164.9" y="530.8" font-size="12.0" font-weight="normal" text-anchor="middle" stroke="#000" stroke-width="0.7">2</text>
<rect x="173" y="522" width="2" height="9" fill="#000"/>
<rect x="172" y="523" width="1" height="2" fill="#000"/>
<rect x="171" y="524" width="1" height="1" fill="#000"/>
<text x="173.2" y="530.8" font-size="12.0" font-weight="normal" text-anchor="middle" stroke="#000" stroke-width="0.7">3</text>
<rect x="181" y="522" width="2" height="9" fill="#000"/>
<rect x="180" y="523" width="1" height="2" fill="#000"/>
<rect x="179" y="524" width="1" height="1" fill="#000"/>
<text x="181.5" y="530.8" font-size="12.0" font-weight="normal" text-anchor="middle" stroke="#000" stroke-width="0.7">4</text>
<rect x="188" y="522" width="2" height="9" fill="#000"/>
<rect x="187" y="523" width="1" height="2" fill="#000"/>
<rect x="186" y="524" width="1" height="1" fill="#000"/>
<text x="188.8" y="530.8" font-size="12.0" font-weight="normal" text-anchor="middle" stroke="#000" stroke-width="0.7">5</text>
<rect x="196" y="522" width="2" height="9" fill="#000"/>
<rect x="195" y="523" width="1" height="2" fill="#000"/>
<rect x="194" y="524" width="1" height="1" fill="#000"/>
<text x="196.8" y="530.8" font-size="12.0" font-weight="normal" text-anchor="middle" stroke="#000" stroke-width="0.7">6</text>
<rect x="204" y="522" width="2" height="9" fill="#000"/>
<rect x="203" y="523" width="1" height="2" fill="#000"/>
<rect x="202" y="524" width="1" height="1" fill="#000"/>
<text x="204.8" y="530.8" font-size="12.0" font-weight="normal" text-anchor="middle" stroke="#000" stroke-width="0.7">7</text>
<rect x="211" y="522" width="2" height="9" fill="#000"/>
<rect x="210" y="523" width="1" height="2" fill="#000"/>
<rect x="209" y="524" width="1" height="1" fill="#000"/>
<text x="211.8" y="530.8" font-size="12.0" font-weight="normal" text-anchor="middle" stroke="#000" stroke-width="0.7">8</text>
<rect x="219" y="522" width="2" height="9" fill="#000"/>
<rect x="218" y="523" width="1" height="2" fill="#000"/>
<rect x="217" y="524" width="1" height="1" fill="#000"/>
<text x="219.8" y="530.8" font-size="12.0" font-weight="normal" text-anchor="middle" stroke="#000" stroke-width="0.7">9</text>
<text x="227.2" y="530.8" font-size="12.0" font-weight="normal" text-anchor="middle" stroke="#000" stroke-width="0.7">2</text>
<text x="227.8" y="530.8" font-size="12.0" font-weight="normal" text-anchor="middle" stroke="#000" stroke-width="0.7">0</text>
<text x="234.2" y="530.8" font-size="12.0" font-weight="normal" text-anchor="middle" stroke="#000" stroke-width="0.7">2</text>
<rect x="235" y="522" width="2" height="9" fill="#000"/>
<rect x="234" y="523" width="1" height="2" fill="#000"/>
<rect x="233" y="524" width="1" height="1" fill="#000"/>
<text x="242.2" y="530.8" font-size="12.0" font-weight="normal" text-anchor="middle" stroke="#000" stroke-width="0.7">2</text>
<text x="242.8" y="530.8" font-size="12.0" font-weight="normal" text-anchor="middle" stroke="#000" stroke-width="0.7">2</text>
<text x="250.2" y="530.8" font-size="12.0" font-weight="normal" text-anchor="middle" stroke="#000" stroke-width="0.7">2</text>
<text x="250.8" y="530.8" font-size="12.0" font-weight="normal" text-anchor="middle" stroke="#000" stroke-width="0.7">3</text>
<text x="257.2" y="530.8" font-size="12.0" font-weight="normal" text-anchor="middle" stroke="#000" stroke-width="0.7">2</text>
<text x="257.8" y="530.8" font-size="12.0" font-weight="normal" text-anchor="middle" stroke="#000" stroke-width="0.7">4</text>
<text x="265.2" y="530.8" font-size="12.0" font-weight="normal" text-anchor="middle" stroke="#000" stroke-width="0.7">2</text>
<text x="265.8" y="530.8" font-size="12.0" font-weight="normal" text-anchor="middle" stroke="#000" stroke-width="0.7">5</text>
<text x="273.2" y="530.8" font-size="12.0" font-weight="normal" text-anchor="middle" stroke="#000" stroke-width="0.7">2</text>
<text x="273.8" y="530.8" font-size="12.0" font-weight="normal" text-anchor="middle" stroke="#000" stroke-width="0.7">6</text>
<text x="280.2" y="530.8" font-size="12.0" font-weight="normal" text-anchor="middle" stroke="#000" stroke-width="0.7">2</text>
<text x="280.8" y="530.8" font-size="12.0" font-weight="normal" text-anchor="middle" stroke="#000" stroke-width="0.7">7</text>
<text x="288.2" y="530.8" font-size="12.0" font-weight="normal" text-anchor="middle" stroke="#000" stroke-width="0.7">2</text>
<text x="288.8" y="530.8" font-size="12.0" font-weight="normal" text-anchor="middle" stroke="#000" stroke-width="0.7">8</text>
<text x="296.2" y="530.8" font-size="12.0" font-weight="normal" text-anchor="middle" stroke="#000" stroke-width="0.7">2</text>
<text x="296.8" y="530.8" font-size="12.0" font-weight="normal" text-anchor="middle" stroke="#000" stroke-width="0.7">9</text>
<text x="303.2" y="530.8" font-size="12.0" font-weight="normal" text-anchor="middle" stroke="#000" stroke-width="0.7">3</text>
<text x="303.8" y="530.8" font-size="12.0" font-weight="normal" text-anchor="middle" stroke="#000" stroke-width="0.7">0</text>
<text x="311.2" y="530.8" font-size="12.0" font-weight="normal" text-anchor="middle" stroke="#000" stroke-width="0.7">3</text>
<rect x="312" y="522" width="2" height="9" fill="#000"/>
<rect x="311" y="523" width="1" height="2" fill="#000"/>
<rect x="310" y="524" width="1" height="1" fill="#000"/>
<text x="319.2" y="530.8" font-size="12.0" font-weight="normal" text-anchor="middle" stroke="#000" stroke-width="0.7">3</text>
<text x="319.8" y="530.8" font-size="12.0" font-weight="normal" text-anchor="middle" stroke="#000" stroke-width="0.7">2</text>
<text x="327.2" y="530.8" font-size="12.0" font-weight="normal" text-anchor="middle" stroke="#000" stroke-width="0.7">3</text>
<text x="327.8" y="530.8" font-size="12.0" font-weight="normal" text-anchor="middle" stroke="#000" stroke-width="0.7">3</text>
<text x="334.2" y="530.8" font-size="12.0" font-weight="normal" text-anchor="middle" stroke="#000" stroke-width="0.7">3</text>
<text x="334.8" y="530.8" font-size="12.0" font-weight="normal" text-anchor="middle" stroke="#000" stroke-width="0.7">4</text>
<text x="342.2" y="530.8" font-size="12.0" font-weight="normal" text-anchor="middle" stroke="#000" stroke-width="0.7">3</text>
<text x="342.8" y="530.8" font-size="12.0" font-weight="normal" text-anchor="middle" stroke="#000" stroke-width="0.7">5</text>
<text x="350.2" y="530.8" font-size="12.0" font-weight="normal" text-anchor="middle" stroke="#000" stroke-width="0.7">3</text>
<text x="350.8" y="530.8" font-size="12.0" font-weight="normal" text-anchor="middle" stroke="#000" stroke-width="0.7">6</text>
<text x="357.2" y="530.8" font-size="12.0" font-weight="normal" text-anchor="middle" stroke="#000" stroke-width="0.7">3</text>
<text x="357.8" y="530.8" font-size="12.0" font-weight="normal" text-anchor="middle" stroke="#000" stroke-width="0.7">7</text>
<text x="365.2" y="530.8" font-size="12.0" font-weight="normal" text-anchor="middle" stroke="#000" stroke-width="0.7">3</text>
<text x="365.8" y="530.8" font-size="12.0" font-weight="normal" text-anchor="middle" stroke="#000" stroke-width="0.7">8</text>
<text x="373.2" y="530.8" font-size="12.0" font-weight="normal" text-anchor="middle" stroke="#000" stroke-width="0.7">3</text>
<text x="373.8" y="530.8" font-size="12.0" font-weight="normal" text-anchor="middle" stroke="#000" stroke-width="0.7">9</text>
<text x="380.2" y="530.8" font-size="12.0" font-weight="normal" text-anchor="middle" stroke="#000" stroke-width="0.7">4</text>
<text x="380.8" y="530.8" font-size="12.0" font-weight="normal" text-anchor="middle" stroke="#000" stroke-width="0.7">0</text>
<text x="388.2" y="530.8" font-size="12.0" font-weight="normal" text-anchor="middle" stroke="#000" stroke-width="0.7">4</text>
<rect x="389" y="522" width="2" height="9" fill="#000"/>
<rect x="388" y="523" width="1" height="2" fill="#000"/>
<rect x="387" y="524" width="1" height="1" fill="#000"/>
<text x="396.2" y="530.8" font-size="12.0" font-weight="normal" text-anchor="middle" stroke="#000" stroke-width="0.7">4</text>
<text x="396.8" y="530.8" font-size="12.0" font-weight="normal" text-anchor="middle" stroke="#000" stroke-width="0.7">2</text>
<text x="403.2" y="530.8" font-size="12.0" font-weight="normal" text-anchor="middle" stroke="#000" stroke-width="0.7">4</text>
<text x="403.8" y="530.8" font-size="12.0" font-weight="normal" text-anchor="middle" stroke="#000" stroke-width="0.7">3</text>
<text x="411.2" y="530.8" font-size="12.0" font-weight="normal" text-anchor="middle" stroke="#000" stroke-width="0.7">4</text>
<text x="411.8" y="530.8" font-size="12.0" font-weight="normal" text-anchor="middle" stroke="#000" stroke-width="0.7">4</text>
<text x="419.2" y="530.8" font-size="12.0" font-weight="normal" text-anchor="middle" stroke="#000" stroke-width="0.7">4</text>
<text x="419.8" y="530.8" font-size="12.0" font-weight="normal" text-anchor="middle" stroke="#000" stroke-width="0.7">5</text>
<text x="426.2" y="530.8" font-size="12.0" font-weight="normal" text-anchor="middle" stroke="#000" stroke-width="0.7">4</text>
<text x="426.8" y="530.8" font-size="12.0" font-weight="normal" text-anchor="middle" stroke="#000" stroke-width="0.7">6</text>
<text x="434.2" y="530.8" font-size="12.0" font-weight="normal" text-anchor="middle" stroke="#000" stroke-width="0.7">4</text>
<text x="434.8" y="530.8" font-size="12.0" font-weight="normal" text-anchor="middle" stroke="#000" stroke-width="0.7">7</text>
<text x="442.2" y="530.8" font-size="12.0" font-weight="normal" text-anchor="middle" stroke="#000" stroke-width="0.7">4</text>
<text x="442.8" y="530.8" font-size="12.0" font-weight="normal" text-anchor="middle" stroke="#000" stroke-width="0.7">8</text>
<text x="449.2" y="530.8" font-size="12.0" font-weight="normal" text-anchor="middle" stroke="#000" stroke-width="0.7">4</text>
<text x="449.8" y="530.8" font-size="12.0" font-weight="normal" text-anchor="middle" stroke="#000" stroke-width="0.7">9</text>
<text x="457.2" y="530.8" font-size="12.0" font-weight="normal" text-anchor="middle" stroke="#000" stroke-width="0.7">5</text>
<text x="457.8" y="530.8" font-size="12.0" font-weight="normal" text-anchor="middle" stroke="#000" stroke-width="0.7">0</text>
<text x="465.2" y="530.8" font-size="12.0" font-weight="normal" text-anchor="middle" stroke="#000" stroke-width="0.7">5</text>
<rect x="466" y="522" width="2" height="9" fill="#000"/>
<rect x="465" y="523" width="1" height="2" fill="#000"/>
<rect x="464" y="524" width="1" height="1" fill="#000"/>
<text x="472.2" y="530.8" font-size="12.0" font-weight="normal" text-anchor="middle" stroke="#000" stroke-width="0.7">5</text>
<text x="472.8" y="530.8" font-size="12.0" font-weight="normal" text-anchor="middle" stroke="#000" stroke-width="0.7">2</text>
<text x="480.2" y="530.8" font-size="12.0" font-weight="normal" text-anchor="middle" stroke="#000" stroke-width="0.7">5</text>
<text x="480.8" y="530.8" font-size="12.0" font-weight="normal" text-anchor="middle" stroke="#000" stroke-width="0.7">3</text>
<text x="488.2" y="530.8" font-size="12.0" font-weight="normal" text-anchor="middle" stroke="#000" stroke-width="0.7">5</text>
<text x="488.8" y="530.8" font-size="12.0" font-weight="normal" text-anchor="middle" stroke="#000" stroke-width="0.7">4</text>
<text x="495.2" y="530.8" font-size="12.0" font-weight="normal" text-anchor="middle" stroke="#000" stroke-width="0.7">5</text>
<text x="495.8" y="530.8" font-size="12.0" font-weight="normal" text-anchor="middle" stroke="#000" stroke-width="0.7">5</text>
<text x="503.2" y="530.8" font-size="12.0" font-weight="normal" text-anchor="middle" stroke="#000" stroke-width="0.7">5</text>
<text x="503.8" y="530.8" font-size="12.0" font-weight="normal" text-anchor="middle" stroke="#000" stroke-width="0.7">6</text>
<text x="511.2" y="530.8" font-size="12.0" font-weight="normal" text-anchor="middle" stroke="#000" stroke-width="0.7">5</text>
<text x="511.8" y="530.8" font-size="12.0" font-weight="normal" text-anchor="middle" stroke="#000" stroke-width="0.7">7</text>
<text x="518.2" y="530.8" font-size="12.0" font-weight="normal" text-anchor="middle" stroke="#000" stroke-width="0.7">5</text>
<text x="518.8" y="530.8" font-size="12.0" font-weight="normal" text-anchor="middle" stroke="#000" stroke-width="0.7">8</text>
<text x="526.2" y="530.8" font-size="12.0" font-weight="normal" text-anchor="middle" stroke="#000" stroke-width="0.7">5</text>
<text x="526.8" y="530.8" font-size="12.0" font-weight="normal" text-anchor="middle" stroke="#000" stroke-width="0.7">9</text>
<text x="534.2" y="530.8" font-size="12.0" font-weight="normal" text-anchor="middle" stroke="#000" stroke-width="0.7">6</text>
<text x="534.8" y="530.8" font-size="12.0" font-weight="normal" text-anchor="middle" stroke="#000" stroke-width="0.7">0</text>
<text x="541.2" y="530.8" font-size="12.0" font-weight="normal" text-anchor="middle" stroke="#000" stroke-width="0.7">6</text>
<rect x="542" y="522" width="2" height="9" fill="#000"/>
<rect x="541" y="523" width="1" height="2" fill="#000"/>
<rect x="540" y="524" width="1" height="1" fill="#000"/>
<text x="549.2" y="530.8" font-size="12.0" font-weight="normal" text-anchor="middle" stroke="#000" stroke-width="0.7">6</text>
<text x="549.8" y="530.8" font-size="12.0" font-weight="normal" text-anchor="middle" stroke="#000" stroke-width="0.7">2</text>
<text x="557.0" y="530.8" font-size="12.0" font-weight="normal" text-anchor="middle" stroke="#000" stroke-width="0.5">0</text>
<text x="71.2" y="40.7" font-size="12.0" font-weight="normal" text-anchor="end" textLength="7.3" lengthAdjust="spacing">0</text>
<text x="71.2" y="88.7" font-size="12.0" font-weight="normal" text-anchor="end" textLength="21.9" lengthAdjust="spacing">200</text>
<text x="71.2" y="136.7" font-size="12.0" font-weight="normal" text-anchor="end" textLength="21.9" lengthAdjust="spacing">400</text>
<text x="71.2" y="184.7" font-size="12.0" font-weight="normal" text-anchor="end" textLength="21.9" lengthAdjust="spacing">600</text>
<text x="71.2" y="232.7" font-size="12.0" font-weight="normal" text-anchor="end" textLength="21.9" lengthAdjust="spacing">800</text>
<text x="71.2" y="280.7" font-size="12.0" font-weight="normal" text-anchor="end" textLength="29.2" lengthAdjust="spacing">1000</text>
<text x="71.2" y="328.7" font-size="12.0" font-weight="normal" text-anchor="end" textLength="29.2" lengthAdjust="spacing">1200</text>
<text x="71.2" y="376.7" font-size="12.0" font-weight="normal" text-anchor="end" textLength="29.2" lengthAdjust="spacing">1400</text>
<text x="71.2" y="424.7" font-size="12.0" font-weight="normal" text-anchor="end" textLength="29.2" lengthAdjust="spacing">1600</text>
<text x="71.2" y="472.7" font-size="12.0" font-weight="normal" text-anchor="end" textLength="29.2" lengthAdjust="spacing">1800</text>
<text x="71.2" y="520.7" font-size="12.0" font-weight="normal" text-anchor="end" textLength="29.2" lengthAdjust="spacing">2000</text>
<text x="294.9" y="546.5" font-size="14.0" font-weight="bold" text-anchor="start" textLength="39.0" lengthAdjust="spacing">Cycle</text>
<text transform="translate(34.4,369) rotate(-90)" font-size="15" font-weight="bold" textLength="185" lengthAdjust="spacing">Pressure / Pression (dbar)</text>
<rect x="570" y="509" width="19" height="7" fill="#00008f"/>
<rect x="570" y="501" width="19" height="8" fill="#00009f"/>
<rect x="570" y="494" width="19" height="7" fill="#0000af"/>
<rect x="570" y="486" width="19" height="8" fill="#0000bf"/>
<rect x="570" y="479" width="19" height="7" fill="#0000cf"/>
<rect x="570" y="471" width="19" height="8" fill="#0000df"/>
<rect x="570" y="464" width="19" height="7" fill="#0000ef"/>
<rect x="570" y="456" width="19" height="8" fill="#0000ff"/>
<rect x="570" y="449" width="19" height="7" fill="#0010ff"/>
<rect x="570" y="441" width="19" height="8" fill="#0020ff"/>
<rect x="570" y="434" width="19" height="7" fill="#0030ff"/>
<rect x="570" y="426" width="19" height="8" fill="#0040ff"/>
<rect x="570" y="419" width="19" height="7" fill="#0050ff"/>
<rect x="570" y="411" width="19" height="8" fill="#0060ff"/>
<rect x="570" y="404" width="19" height="7" fill="#0070ff"/>
<rect x="570" y="396" width="19" height="8" fill="#0080ff"/>
<rect x="570" y="389" width="19" height="7" fill="#008fff"/>
<rect x="570" y="381" width="19" height="8" fill="#009fff"/>
<rect x="570" y="374" width="19" height="7" fill="#00afff"/>
<rect x="570" y="366" width="19" height="8" fill="#00bfff"/>
<rect x="570" y="359" width="19" height="7" fill="#00cfff"/>
<rect x="570" y="351" width="19" height="8" fill="#00dfff"/>
<rect x="570" y="344" width="19" height="7" fill="#00efff"/>
<rect x="570" y="336" width="19" height="8" fill="#00ffff"/>
<rect x="570" y="329" width="19" height="7" fill="#10ffef"/>
<rect x="570" y="321" width="19" height="8" fill="#20ffdf"/>
<rect x="570" y="314" width="19" height="7" fill="#30ffcf"/>
<rect x="570" y="306" width="19" height="8" fill="#40ffbf"/>
<rect x="570" y="299" width="19" height="7" fill="#50ffaf"/>
<rect x="570" y="291" width="19" height="8" fill="#60ff9f"/>
<rect x="570" y="284" width="19" height="7" fill="#70ff8f"/>
<rect x="570" y="276" width="19" height="8" fill="#80ff80"/>
<rect x="570" y="269" width="19" height="7" fill="#8fff70"/>
<rect x="570" y="261" width="19" height="8" fill="#9fff60"/>
<rect x="570" y="254" width="19" height="7" fill="#afff50"/>
<rect x="570" y="246" width="19" height="8" fill="#bfff40"/>
<rect x="570" y="239" width="19" height="7" fill="#cfff30"/>
<rect x="570" y="231" width="19" height="8" fill="#dfff20"/>
<rect x="570" y="224" width="19" height="7" fill="#efff10"/>
<rect x="570" y="216" width="19" height="8" fill="#ffff00"/>
<rect x="570" y="209" width="19" height="7" fill="#ffef00"/>
<rect x="570" y="201" width="19" height="8" fill="#ffdf00"/>
<rect x="570" y="194" width="19" height="7" fill="#ffcf00"/>
<rect x="570" y="186" width="19" height="8" fill="#ffbf00"/>
<rect x="570" y="179" width="19" height="7" fill="#ffaf00"/>
<rect x="570" y="171" width="19" height="8" fill="#ff9f00"/>
<rect x="570" y="164" width="19" height="7" fill="#ff8f00"/>
<rect x="570" y="156" width="19" height="8" fill="#ff8000"/>
<rect x="570" y="149" width="19" height="7" fill="#ff7000"/>
<rect x="570" y="141" width="19" height="8" fill="#ff6000"/>
<rect x="570" y="134" width="19" height="7" fill="#ff5000"/>
<rect x="570" y="126" width="19" height="8" fill="#ff4000"/>
<rect x="570" y="119" width="19" height="7" fill="#ff3000"/>
<rect x="570" y="111" width="19" height="8" fill="#ff2000"/>
<rect x="570" y="104" width="19" height="7" fill="#ff1000"/>
<rect x="570" y="96" width="19" height="8" fill="#ff0000"/>
<rect x="570" y="89" width="19" height="7" fill="#ef0000"/>
<rect x="570" y="81" width="19" height="8" fill="#df0000"/>
<rect x="570" y="74" width="19" height="7" fill="#cf0000"/>
<rect x="570" y="66" width="19" height="8" fill="#bf0000"/>
<rect x="570" y="59" width="19" height="7" fill="#af0000"/>
<rect x="570" y="51" width="19" height="8" fill="#9f0000"/>
<rect x="570" y="44" width="19" height="7" fill="#8f0000"/>
<rect x="570" y="36" width="19" height="8" fill="#800000"/>
<rect x="569" y="36" width="21" height="1" fill="#000"/>
<rect x="569" y="516" width="21" height="1" fill="#000"/>
<rect x="569" y="36" width="1" height="481" fill="#000"/>
<rect x="589" y="36" width="1" height="481" fill="#000"/>
<rect x="570" y="460" width="4" height="1" fill="#000"/>
<rect x="585" y="460" width="4" height="1" fill="#000"/>
<text x="592.7" y="464.8" font-size="12.0" font-weight="normal" text-anchor="start" textLength="6.0" lengthAdjust="spacing">4</text>
<rect x="570" y="390" width="4" height="1" fill="#000"/>
<rect x="585" y="390" width="4" height="1" fill="#000"/>
<text x="592.7" y="394.8" font-size="12.0" font-weight="normal" text-anchor="start" textLength="6.0" lengthAdjust="spacing">6</text>
<rect x="570" y="320" width="4" height="1" fill="#000"/>
<rect x="585" y="320" width="4" height="1" fill="#000"/>
<text x="592.7" y="324.8" font-size="12.0" font-weight="normal" text-anchor="start" textLength="6.0" lengthAdjust="spacing">8</text>
<rect x="570" y="251" width="4" height="1" fill="#000"/>
<rect x="585" y="251" width="4" height="1" fill="#000"/>
<text x="592.7" y="255.8" font-size="12.0" font-weight="normal" text-anchor="start" textLength="12.0" lengthAdjust="spacing">10</text>
<rect x="570" y="181" width="4" height="1" fill="#000"/>
<rect x="585" y="181" width="4" height="1" fill="#000"/>
<text x="592.7" y="185.8" font-size="12.0" font-weight="normal" text-anchor="start" textLength="12.0" lengthAdjust="spacing">12</text>
<rect x="570" y="111" width="4" height="1" fill="#000"/>
<rect x="585" y="111" width="4" height="1" fill="#000"/>
<text x="592.7" y="115.8" font-size="12.0" font-weight="normal" text-anchor="start" textLength="12.0" lengthAdjust="spacing">14</text>
<rect x="570" y="41" width="4" height="1" fill="#000"/>
<rect x="585" y="41" width="4" height="1" fill="#000"/>
<text x="592.7" y="45.8" font-size="12.0" font-weight="normal" text-anchor="start" textLength="12.0" lengthAdjust="spacing">16</text>
<rect x="574" y="20" width="3" height="3" fill="#000"/>
<rect x="575" y="21" width="1" height="1" fill="#fff"/>
<text x="577.2" y="26.7" font-size="9.9" font-weight="normal" text-anchor="start">C</text>
<text x="79.2" y="582.0" font-size="13.0" font-weight="bold" text-anchor="start" textLength="156.3" lengthAdjust="spacing">Float/Profileur dérivant:</text>
<text x="242.9" y="582.0" font-size="12.0" font-weight="normal" text-anchor="start" textLength="52.7" lengthAdjust="spacing">4901194</text>
<text x="79.2" y="601.3" font-size="13.0" font-weight="bold" text-anchor="start" textLength="103.2" lengthAdjust="spacing">Period/Période:</text>
<text x="188.7" y="601.3" font-size="12.0" font-weight="normal" text-anchor="start" textLength="61.3" lengthAdjust="spacing">6/16/2012</text>
<text x="258.5" y="601.3" font-size="12.0" font-weight="normal" text-anchor="start" textLength="22.9" lengthAdjust="spacing">to/à</text>
<text x="289.6" y="601.3" font-size="12.0" font-weight="normal" text-anchor="start" textLength="61.1" lengthAdjust="spacing">8/19/2014</text>
<text x="78.3" y="621.0" font-size="9.4" font-weight="normal" text-anchor="start" textLength="257.3" lengthAdjust="spacing">Tick Marks at top indicate stations with delayed mode data</text>
<text x="78.3" y="640.8" font-size="9.4" font-weight="normal" text-anchor="start" textLength="293.4" lengthAdjust="spacing">Les traits de l'axe supérieur indiquent les données en mode différé</text>
<text x="454.0" y="661.0" font-size="9.0" font-weight="normal" text-anchor="start" textLength="24.5" lengthAdjust="spacing">ISDM</text>
<rect x="482" y="653" width="1" height="11" fill="#000"/>
<text x="486.0" y="661.0" font-size="9.0" font-weight="normal" text-anchor="start" textLength="23.5" lengthAdjust="spacing">GDSI</text>
<text x="515.8" y="661.0" font-size="9.0" font-weight="normal" text-anchor="start" textLength="38.3" lengthAdjust="spacing">04/24/18</text>
</svg>
</body></html>
